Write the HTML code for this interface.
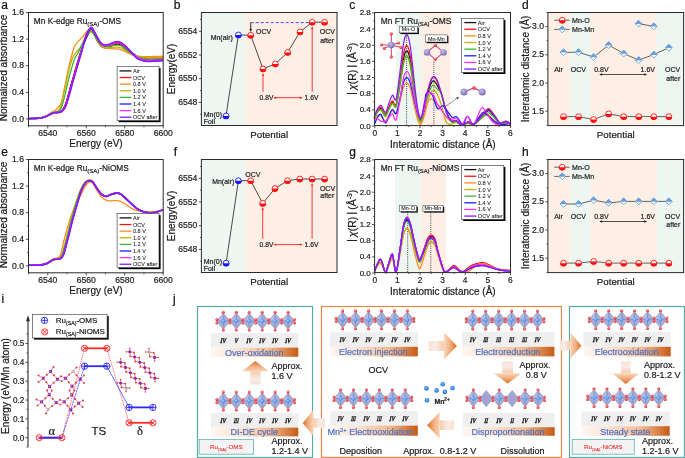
<!DOCTYPE html>
<html><head><meta charset="utf-8"><title>figure</title>
<style>
html,body{margin:0;padding:0;background:#fff;}
body{width:685px;height:458px;overflow:hidden;}
svg{display:block;font-family:"Liberation Sans", sans-serif;will-change:transform;}
</style></head><body>
<svg width="685" height="458" viewBox="0 0 685 458">
<defs>
<radialGradient id="gO" cx="40%" cy="35%" r="65%"><stop offset="0" stop-color="#ff8a8a"/><stop offset="1" stop-color="#e02424"/></radialGradient>
<radialGradient id="gMn" cx="40%" cy="35%" r="65%"><stop offset="0" stop-color="#c8c0ea"/><stop offset="1" stop-color="#7a68b4"/></radialGradient>
<radialGradient id="gB" cx="40%" cy="40%" r="60%"><stop offset="0" stop-color="#a8d0ff"/><stop offset="1" stop-color="#3a82e0"/></radialGradient>
<radialGradient id="gI" cx="45%" cy="40%" r="60%"><stop offset="0" stop-color="#9cccff"/><stop offset="0.5" stop-color="#3d8ff0"/><stop offset="1" stop-color="#1f6fd8"/></radialGradient>
<radialGradient id="gR" cx="40%" cy="35%" r="65%"><stop offset="0" stop-color="#ff9090"/><stop offset="1" stop-color="#e42a2a"/></radialGradient>
<linearGradient id="gBar" x1="0" y1="0" x2="1" y2="0"><stop offset="0" stop-color="#fef6f1"/><stop offset="0.3" stop-color="#fbe4d5"/><stop offset="0.68" stop-color="#f2b990"/><stop offset="1" stop-color="#c65a14"/></linearGradient>
<linearGradient id="gAr" x1="0" y1="0" x2="1" y2="0"><stop offset="0" stop-color="#fbe4d4"/><stop offset="0.5" stop-color="#f5caa8"/><stop offset="1" stop-color="#de7830"/></linearGradient>
<linearGradient id="gAl" x1="1" y1="0" x2="0" y2="0"><stop offset="0" stop-color="#fbe4d4"/><stop offset="0.5" stop-color="#f5caa8"/><stop offset="1" stop-color="#de7830"/></linearGradient>
<linearGradient id="gAd" x1="0" y1="0" x2="0" y2="1"><stop offset="0" stop-color="#fbe4d4"/><stop offset="0.5" stop-color="#f5caa8"/><stop offset="1" stop-color="#de7830"/></linearGradient>
<linearGradient id="gAu" x1="0" y1="1" x2="0" y2="0"><stop offset="0" stop-color="#fbe4d4"/><stop offset="0.5" stop-color="#f5caa8"/><stop offset="1" stop-color="#de7830"/></linearGradient>
</defs>
<rect x="0" y="0" width="685" height="458" fill="#ffffff"/>
<text x="1.3" y="8.7" font-size="12" fill="#111"  stroke="#111" stroke-width="0.2">a</text>
<clipPath id="clipx0"><rect x="28.5" y="12.5" width="134.7" height="113.3"/></clipPath>
<g clip-path="url(#clipx0)" fill="none" stroke-linejoin="round">
<path d="M28.5,118.57 C29.78,118.53 33.95,118.51 36.2,118.37 C38.44,118.22 40.37,118 41.97,117.7 C43.57,117.4 44.54,117.09 45.82,116.57 C47.1,116.05 48.54,115.13 49.67,114.58 C50.79,114.02 51.59,113.58 52.55,113.25 C53.52,112.92 54.32,112.75 55.44,112.58 C56.56,112.42 58.17,112.64 59.29,112.25 C60.41,111.86 61.21,111.36 62.17,110.26 C63.14,109.15 64.1,107.93 65.06,105.6 C66.02,103.27 66.83,100.17 67.95,96.29 C69.07,92.41 70.42,87.2 71.8,82.33 C73.18,77.45 74.65,72.35 76.22,67.03 C77.79,61.71 79.64,55.06 81.23,50.41 C82.81,45.75 84.21,42.31 85.75,39.1 C87.29,35.89 89.1,31.9 90.46,31.12 C91.83,30.34 92.71,32.67 93.93,34.45 C95.14,36.22 96.49,39.73 97.77,41.76 C99.06,43.79 100.34,45.62 101.62,46.61 C102.91,47.61 104.19,47.69 105.47,47.75 C106.75,47.8 108.04,47.36 109.32,46.95 C110.6,46.53 111.79,45.73 113.17,45.25 C114.55,44.77 116.22,44.06 117.59,44.09 C118.97,44.12 120.1,44.64 121.44,45.42 C122.79,46.19 124.17,47.72 125.68,48.74 C127.18,49.77 128.72,50.41 130.49,51.57 C132.25,52.73 134.34,54.59 136.26,55.73 C138.18,56.86 140.11,57.78 142.03,58.39 C143.96,58.99 145.56,59.27 147.81,59.38 C150.05,59.49 152.94,59.17 155.5,59.05 C158.07,58.93 161.92,58.72 163.2,58.65" stroke="#111111" stroke-width="1.3"/>
<path d="M28.5,118.57 C29.78,118.53 33.95,118.51 36.2,118.37 C38.44,118.22 40.37,118 41.97,117.7 C43.57,117.4 44.54,117.09 45.82,116.57 C47.1,116.05 48.54,115.13 49.67,114.58 C50.79,114.02 51.59,113.58 52.55,113.25 C53.52,112.92 54.32,112.75 55.44,112.58 C56.56,112.42 58.17,112.64 59.29,112.25 C60.41,111.86 61.21,111.36 62.17,110.26 C63.14,109.15 64.1,107.93 65.06,105.6 C66.02,103.27 66.83,100.17 67.95,96.29 C69.07,92.41 70.42,87.2 71.8,82.33 C73.18,77.45 74.65,72.35 76.22,67.03 C77.79,61.71 79.64,55.39 81.23,50.41 C82.81,45.42 84.21,40.65 85.75,37.11 C87.29,33.56 89.1,29.9 90.46,29.12 C91.83,28.35 92.71,30.68 93.93,32.45 C95.14,34.22 96.49,37.66 97.77,39.77 C99.06,41.87 100.34,43.98 101.62,45.08 C102.91,46.19 104.19,46.33 105.47,46.42 C106.75,46.5 108.04,46 109.32,45.62 C110.6,45.23 111.79,44.51 113.17,44.09 C114.55,43.67 116.22,43.03 117.59,43.09 C118.97,43.15 120.1,43.64 121.44,44.42 C122.79,45.2 124.17,46.61 125.68,47.75 C127.18,48.88 128.72,49.85 130.49,51.24 C132.25,52.62 134.34,54.81 136.26,56.06 C138.18,57.3 140.11,58.11 142.03,58.72 C143.96,59.33 145.56,59.6 147.81,59.72 C150.05,59.83 152.94,59.5 155.5,59.38 C158.07,59.26 161.92,59.05 163.2,58.98" stroke="#ff1010" stroke-width="1.3"/>
<path d="M28.5,118.57 C30.1,118.51 35.56,118.51 38.12,118.23 C40.69,117.96 42.29,117.46 43.89,116.91 C45.5,116.35 46.46,115.69 47.74,114.91 C49.03,114.13 50.47,112.92 51.59,112.25 C52.71,111.58 53.52,111.59 54.48,110.92 C55.44,110.25 56.24,109.59 57.36,108.26 C58.49,106.93 60.09,106.04 61.21,102.94 C62.34,99.84 63.14,94.18 64.1,89.64 C65.06,85.1 66.02,80.22 66.99,75.68 C67.95,71.13 69.01,66.03 69.87,62.38 C70.74,58.72 71.41,56.39 72.18,53.73 C72.95,51.07 73.46,48.47 74.49,46.42 C75.52,44.36 76.83,43.2 78.34,41.43 C79.85,39.65 82.16,37.44 83.53,35.78 C84.91,34.11 85.68,32.42 86.61,31.45 C87.54,30.49 88.22,29.93 89.11,29.99 C90.01,30.04 90.88,30.49 92,31.78 C93.12,33.08 94.57,35.66 95.85,37.77 C97.13,39.88 98.42,42.76 99.7,44.42 C100.98,46.08 102.26,47.08 103.55,47.75 C104.83,48.41 106.11,48.28 107.4,48.41 C108.68,48.54 109.64,48.45 111.24,48.54 C112.85,48.63 115.41,48.74 117.02,48.94 C118.62,49.14 119.58,49.33 120.87,49.74 C122.15,50.15 123.11,50.68 124.71,51.4 C126.32,52.12 128.56,53.32 130.49,54.06 C132.41,54.81 134.01,55.44 136.26,55.86 C138.5,56.28 141.07,56.48 143.96,56.59 C146.84,56.7 150.37,56.58 153.58,56.52 C156.79,56.47 161.6,56.3 163.2,56.26" stroke="#ff8c1a" stroke-width="1.3"/>
<path d="M28.5,118.57 C30.1,118.51 35.56,118.49 38.12,118.23 C40.69,117.98 42.29,117.54 43.89,117.04 C45.5,116.54 46.46,115.93 47.74,115.24 C49.03,114.56 50.31,113.41 51.59,112.92 C52.87,112.42 54.16,112.8 55.44,112.25 C56.72,111.7 58.23,111.25 59.29,109.59 C60.35,107.93 60.89,105.6 61.79,102.28 C62.69,98.95 63.75,93.85 64.68,89.64 C65.61,85.43 66.44,81.11 67.37,77 C68.3,72.9 69.26,68.47 70.26,65.03 C71.25,61.6 72.28,58.61 73.34,56.39 C74.39,54.17 75.42,53.29 76.61,51.73 C77.79,50.18 79.17,49.07 80.46,47.08 C81.74,45.09 83.02,42.09 84.3,39.77 C85.59,37.44 87.16,34.45 88.15,33.12 C89.15,31.79 89.47,31.78 90.27,31.78 C91.07,31.78 92.03,32.12 92.96,33.12 C93.89,34.11 94.73,36 95.85,37.77 C96.97,39.54 98.42,42.2 99.7,43.76 C100.98,45.31 102.26,46.41 103.55,47.08 C104.83,47.74 106.11,47.66 107.4,47.75 C108.68,47.83 109.64,47.7 111.24,47.61 C112.85,47.52 115.41,47.19 117.02,47.21 C118.62,47.24 119.58,47.32 120.87,47.75 C122.15,48.17 123.11,48.8 124.71,49.74 C126.32,50.68 128.56,52.34 130.49,53.4 C132.41,54.45 134.01,55.39 136.26,56.06 C138.5,56.72 141.07,57.13 143.96,57.39 C146.84,57.64 150.37,57.6 153.58,57.59 C156.79,57.58 161.6,57.37 163.2,57.32" stroke="#c2b400" stroke-width="1.3"/>
<path d="M28.5,118.57 C30.1,118.51 35.56,118.46 38.12,118.23 C40.69,118.01 42.29,117.68 43.89,117.24 C45.5,116.79 46.46,116.24 47.74,115.58 C49.03,114.91 50.31,113.77 51.59,113.25 C52.87,112.73 54.16,112.78 55.44,112.45 C56.72,112.12 58.23,112.28 59.29,111.25 C60.35,110.22 60.89,108.76 61.79,106.27 C62.69,103.77 63.75,99.95 64.68,96.29 C65.61,92.63 66.41,88.31 67.37,84.32 C68.33,80.33 69.29,76.45 70.45,72.35 C71.6,68.25 72.95,63.15 74.3,59.72 C75.65,56.28 77.18,54.39 78.53,51.73 C79.88,49.08 81.1,46.53 82.38,43.76 C83.66,40.98 84.95,37.16 86.23,35.11 C87.51,33.06 88.95,31.9 90.08,31.45 C91.2,31.01 92,31.51 92.96,32.45 C93.93,33.39 94.73,35.33 95.85,37.11 C96.97,38.88 98.42,41.59 99.7,43.09 C100.98,44.59 102.26,45.53 103.55,46.08 C104.83,46.64 106.11,46.47 107.4,46.42 C108.68,46.36 109.64,45.97 111.24,45.75 C112.85,45.53 115.41,45.08 117.02,45.08 C118.62,45.08 119.58,45.2 120.87,45.75 C122.15,46.3 123.11,47.19 124.71,48.41 C126.32,49.63 128.56,51.74 130.49,53.07 C132.41,54.4 134.01,55.45 136.26,56.39 C138.5,57.33 141.07,58.27 143.96,58.72 C146.84,59.16 150.37,59.05 153.58,59.05 C156.79,59.05 161.6,58.77 163.2,58.72" stroke="#3db33d" stroke-width="1.3"/>
<path d="M28.5,118.57 C29.78,118.53 33.95,118.51 36.2,118.37 C38.44,118.22 40.37,118 41.97,117.7 C43.57,117.4 44.54,117.09 45.82,116.57 C47.1,116.05 48.54,115.13 49.67,114.58 C50.79,114.02 51.59,113.58 52.55,113.25 C53.52,112.92 54.21,112.75 55.44,112.58 C56.67,112.42 58.73,112.64 59.96,112.25 C61.2,111.86 61.89,111.36 62.85,110.26 C63.81,109.15 64.77,107.93 65.73,105.6 C66.7,103.27 67.5,100.17 68.62,96.29 C69.74,92.41 71.09,87.2 72.47,82.33 C73.85,77.45 75.35,72.35 76.9,67.03 C78.44,61.71 80.23,55.5 81.76,50.41 C83.3,45.31 84.61,40.1 86.08,36.44 C87.56,32.78 89.29,29.24 90.6,28.46 C91.9,27.68 92.73,30.01 93.93,31.78 C95.12,33.56 96.49,36.99 97.77,39.1 C99.06,41.21 100.34,43.31 101.62,44.42 C102.91,45.53 104.19,45.66 105.47,45.75 C106.75,45.84 108.04,45.38 109.32,44.95 C110.6,44.52 111.79,43.67 113.17,43.16 C114.55,42.65 116.22,41.88 117.59,41.89 C118.97,41.9 120.1,42.45 121.44,43.22 C122.79,44 124.17,45.2 125.68,46.55 C127.18,47.89 128.72,49.5 130.49,51.3 C132.25,53.11 134.34,55.93 136.26,57.39 C138.18,58.84 140.11,59.44 142.03,60.05 C143.96,60.66 145.56,60.93 147.81,61.05 C150.05,61.16 152.94,60.83 155.5,60.71 C158.07,60.59 161.92,60.38 163.2,60.31" stroke="#1a1aff" stroke-width="1.55"/>
<path d="M28.5,118.57 C29.78,118.53 33.95,118.51 36.2,118.37 C38.44,118.22 40.37,118 41.97,117.7 C43.57,117.4 44.54,117.09 45.82,116.57 C47.1,116.05 48.54,115.13 49.67,114.58 C50.79,114.02 51.59,113.58 52.55,113.25 C53.52,112.92 54.24,112.75 55.44,112.58 C56.64,112.42 58.57,112.64 59.77,112.25 C60.97,111.86 61.69,111.36 62.66,110.26 C63.62,109.15 64.58,107.93 65.54,105.6 C66.5,103.27 67.31,100.17 68.43,96.29 C69.55,92.41 70.9,87.2 72.28,82.33 C73.66,77.45 75.15,72.35 76.7,67.03 C78.26,61.71 80.06,55.61 81.61,50.41 C83.16,45.2 84.5,39.54 85.99,35.78 C87.48,32.01 89.24,28.57 90.56,27.8 C91.88,27.02 92.72,29.35 93.93,31.12 C95.13,32.89 96.49,36.25 97.77,38.43 C99.06,40.62 100.34,43 101.62,44.22 C102.91,45.44 104.19,45.63 105.47,45.75 C106.75,45.87 108.04,45.34 109.32,44.95 C110.6,44.56 111.79,43.84 113.17,43.42 C114.55,43 116.22,42.37 117.59,42.43 C118.97,42.48 120.1,42.98 121.44,43.76 C122.79,44.53 124.17,45.83 125.68,47.08 C127.18,48.33 128.72,49.63 130.49,51.24 C132.25,52.84 134.34,55.36 136.26,56.72 C138.18,58.08 140.11,58.77 142.03,59.38 C143.96,59.99 145.56,60.27 147.81,60.38 C150.05,60.49 152.94,60.17 155.5,60.05 C158.07,59.93 161.92,59.72 163.2,59.65" stroke="#ff2bff" stroke-width="1.3"/>
<path d="M28.5,118.57 C29.78,118.53 33.95,118.51 36.2,118.37 C38.44,118.22 40.37,118 41.97,117.7 C43.57,117.4 44.54,117.09 45.82,116.57 C47.1,116.05 48.54,115.13 49.67,114.58 C50.79,114.02 51.59,113.58 52.55,113.25 C53.52,112.92 54.16,112.75 55.44,112.58 C56.72,112.42 58.97,112.64 60.25,112.25 C61.53,111.86 62.17,111.36 63.14,110.26 C64.1,109.15 65.06,107.93 66.02,105.6 C66.99,103.27 67.79,100.17 68.91,96.29 C70.03,92.41 71.38,87.2 72.76,82.33 C74.14,77.45 75.65,72.35 77.18,67.03 C78.72,61.71 80.49,55.68 82,50.41 C83.5,45.13 84.79,39.21 86.23,35.38 C87.67,31.54 89.37,28.17 90.65,27.4 C91.94,26.62 92.74,28.95 93.93,30.72 C95.11,32.49 96.49,35.9 97.77,38.04 C99.06,40.17 100.34,42.39 101.62,43.54 C102.91,44.69 104.19,44.85 105.47,44.95 C106.75,45.05 108.04,44.55 109.32,44.15 C110.6,43.75 111.79,43 113.17,42.56 C114.55,42.11 116.22,41.45 117.59,41.49 C118.97,41.54 120.1,42.05 121.44,42.82 C122.79,43.6 124.17,44.73 125.68,46.15 C127.18,47.57 128.72,49.39 130.49,51.34 C132.25,53.29 134.34,56.32 136.26,57.85 C138.18,59.38 140.11,59.9 142.03,60.51 C143.96,61.12 145.56,61.4 147.81,61.51 C150.05,61.62 152.94,61.3 155.5,61.18 C158.07,61.06 161.92,60.85 163.2,60.78" stroke="#8a1aff" stroke-width="1.55"/>
</g>
<text x="33.8" y="23.8" font-size="8.3" fill="#1a1a1a" stroke="#1a1a1a" stroke-width="0.2">Mn K-edge Ru<tspan font-size="6.0" dy="2.3">(SA)</tspan><tspan dy="-2.3">-OMS</tspan></text>
<rect x="118.7" y="68.1" width="41.9" height="54.1" fill="#000" stroke="none" stroke-width="1" />
<rect x="117.1" y="66.5" width="41.9" height="54.1" fill="#fff" stroke="#333" stroke-width="0.6" />
<line x1="119.6" y1="70.9" x2="131.4" y2="70.9" stroke="#111111" stroke-width="1.3" />
<text x="133" y="72.88" font-size="5.5" fill="#222"  stroke="#222" stroke-width="0.07">Air</text>
<line x1="119.6" y1="77.52" x2="131.4" y2="77.52" stroke="#ff1010" stroke-width="1.3" />
<text x="133" y="79.5" font-size="5.5" fill="#222"  stroke="#222" stroke-width="0.07">OCV</text>
<line x1="119.6" y1="84.14" x2="131.4" y2="84.14" stroke="#ff8c1a" stroke-width="1.3" />
<text x="133" y="86.12" font-size="5.5" fill="#222"  stroke="#222" stroke-width="0.07">0.8 V</text>
<line x1="119.6" y1="90.76" x2="131.4" y2="90.76" stroke="#c2b400" stroke-width="1.3" />
<text x="133" y="92.74" font-size="5.5" fill="#222"  stroke="#222" stroke-width="0.07">1.0 V</text>
<line x1="119.6" y1="97.38" x2="131.4" y2="97.38" stroke="#3db33d" stroke-width="1.3" />
<text x="133" y="99.36" font-size="5.5" fill="#222"  stroke="#222" stroke-width="0.07">1.2 V</text>
<line x1="119.6" y1="104" x2="131.4" y2="104" stroke="#1a1aff" stroke-width="1.3" />
<text x="133" y="105.98" font-size="5.5" fill="#222"  stroke="#222" stroke-width="0.07">1.4 V</text>
<line x1="119.6" y1="110.62" x2="131.4" y2="110.62" stroke="#ff2bff" stroke-width="1.3" />
<text x="133" y="112.6" font-size="5.5" fill="#222"  stroke="#222" stroke-width="0.07">1.6 V</text>
<line x1="119.6" y1="117.24" x2="131.4" y2="117.24" stroke="#8a1aff" stroke-width="1.3" />
<text x="133" y="119.22" font-size="5.5" fill="#222"  stroke="#222" stroke-width="0.07">OCV after</text>
<rect x="28.5" y="12.5" width="134.7" height="113.3" fill="none" stroke="#2a2a2a" stroke-width="1" />
<line x1="25.9" y1="118.9" x2="28.5" y2="118.9" stroke="#2a2a2a" stroke-width="0.8" />
<text x="24" y="121.5" font-size="8.6" text-anchor="end" fill="#222"  stroke="#222" stroke-width="0.2">0.0</text>
<line x1="25.9" y1="92.3" x2="28.5" y2="92.3" stroke="#2a2a2a" stroke-width="0.8" />
<text x="24" y="94.9" font-size="8.6" text-anchor="end" fill="#222"  stroke="#222" stroke-width="0.2">0.4</text>
<line x1="25.9" y1="65.7" x2="28.5" y2="65.7" stroke="#2a2a2a" stroke-width="0.8" />
<text x="24" y="68.3" font-size="8.6" text-anchor="end" fill="#222"  stroke="#222" stroke-width="0.2">0.8</text>
<line x1="25.9" y1="39.1" x2="28.5" y2="39.1" stroke="#2a2a2a" stroke-width="0.8" />
<text x="24" y="41.7" font-size="8.6" text-anchor="end" fill="#222"  stroke="#222" stroke-width="0.2">1.2</text>
<line x1="25.9" y1="12.5" x2="28.5" y2="12.5" stroke="#2a2a2a" stroke-width="0.8" />
<text x="24" y="15.1" font-size="8.6" text-anchor="end" fill="#222"  stroke="#222" stroke-width="0.2">1.6</text>
<line x1="27" y1="105.6" x2="28.5" y2="105.6" stroke="#2a2a2a" stroke-width="0.7" />
<line x1="27" y1="79" x2="28.5" y2="79" stroke="#2a2a2a" stroke-width="0.7" />
<line x1="27" y1="52.4" x2="28.5" y2="52.4" stroke="#2a2a2a" stroke-width="0.7" />
<line x1="27" y1="25.8" x2="28.5" y2="25.8" stroke="#2a2a2a" stroke-width="0.7" />
<line x1="47.74" y1="125.8" x2="47.74" y2="128.4" stroke="#2a2a2a" stroke-width="0.8" />
<text x="47.74" y="136.4" font-size="8.6" text-anchor="middle" fill="#222"  stroke="#222" stroke-width="0.2">6540</text>
<line x1="86.23" y1="125.8" x2="86.23" y2="128.4" stroke="#2a2a2a" stroke-width="0.8" />
<text x="86.23" y="136.4" font-size="8.6" text-anchor="middle" fill="#222"  stroke="#222" stroke-width="0.2">6560</text>
<line x1="124.71" y1="125.8" x2="124.71" y2="128.4" stroke="#2a2a2a" stroke-width="0.8" />
<text x="124.71" y="136.4" font-size="8.6" text-anchor="middle" fill="#222"  stroke="#222" stroke-width="0.2">6580</text>
<line x1="163.2" y1="125.8" x2="163.2" y2="128.4" stroke="#2a2a2a" stroke-width="0.8" />
<text x="163.2" y="136.4" font-size="8.6" text-anchor="middle" fill="#222"  stroke="#222" stroke-width="0.2">6600</text>
<line x1="28.5" y1="125.8" x2="28.5" y2="127.3" stroke="#2a2a2a" stroke-width="0.7" />
<line x1="66.99" y1="125.8" x2="66.99" y2="127.3" stroke="#2a2a2a" stroke-width="0.7" />
<line x1="105.47" y1="125.8" x2="105.47" y2="127.3" stroke="#2a2a2a" stroke-width="0.7" />
<line x1="143.96" y1="125.8" x2="143.96" y2="127.3" stroke="#2a2a2a" stroke-width="0.7" />
<text x="96" y="146.9" font-size="10" text-anchor="middle" fill="#1a1a1a"  stroke="#1a1a1a" stroke-width="0.2">Energy (eV)</text>
<text transform="translate(7.3,68) rotate(-90)" x="0" y="0" font-size="10.1" text-anchor="middle" fill="#1a1a1a"  stroke="#1a1a1a" stroke-width="0.2">Normalized absorbance</text>
<text x="1.3" y="155.7" font-size="12" fill="#111"  stroke="#111" stroke-width="0.2">e</text>
<clipPath id="clipx147"><rect x="28.5" y="159.5" width="134.7" height="113.3"/></clipPath>
<g clip-path="url(#clipx147)" fill="none" stroke-linejoin="round">
<path d="M28.5,265.23 C30.42,265.18 37.16,265.12 40.05,264.9 C42.93,264.68 44.22,264.4 45.82,263.9 C47.42,263.41 48.38,262.63 49.67,261.91 C50.95,261.19 52.23,260.03 53.52,259.58 C54.8,259.14 56.24,259.42 57.36,259.25 C58.49,259.08 59.29,259.36 60.25,258.58 C61.21,257.81 62.17,256.92 63.14,254.59 C64.1,252.27 65.16,247.8 66.02,244.62 C66.89,241.44 67.21,239.94 68.33,235.51 C69.46,231.08 71.28,223.48 72.76,218.02 C74.23,212.56 75.74,207.45 77.18,202.72 C78.63,198 79.97,193.18 81.42,189.69 C82.86,186.2 84.43,183.37 85.84,181.78 C87.25,180.18 88.7,180.11 89.88,180.11 C91.07,180.11 91.81,180.5 92.96,181.78 C94.12,183.05 95.37,185.66 96.81,187.76 C98.26,189.87 100.08,192.97 101.62,194.41 C103.16,195.85 104.45,196.38 106.05,196.41 C107.65,196.44 109.42,195.08 111.24,194.58 C113.07,194.08 115.41,193.44 117.02,193.41 C118.62,193.39 119.58,193.69 120.87,194.41 C122.15,195.13 123.11,196.3 124.71,197.74 C126.32,199.18 128.56,201.34 130.49,203.06 C132.41,204.78 134.53,206.77 136.26,208.04 C137.99,209.32 139.27,209.98 140.88,210.7 C142.48,211.43 144.28,212.03 145.88,212.37 C147.48,212.7 148.58,212.81 150.5,212.7 C152.42,212.59 155.31,212.2 157.43,211.7 C159.54,211.2 162.24,210.04 163.2,209.71" stroke="#111111" stroke-width="1.3"/>
<path d="M28.5,265.23 C30.42,265.18 37.16,265.12 40.05,264.9 C42.93,264.68 44.22,264.4 45.82,263.9 C47.42,263.41 48.38,262.63 49.67,261.91 C50.95,261.19 52.23,260.03 53.52,259.58 C54.8,259.14 56.24,259.42 57.36,259.25 C58.49,259.08 59.29,259.36 60.25,258.58 C61.21,257.81 62.17,256.92 63.14,254.59 C64.1,252.27 65.16,247.8 66.02,244.62 C66.89,241.44 67.21,239.94 68.33,235.51 C69.46,231.08 71.28,223.48 72.76,218.02 C74.23,212.56 75.74,207.45 77.18,202.72 C78.63,198 79.97,193.07 81.42,189.69 C82.86,186.31 84.43,183.93 85.84,182.44 C87.25,180.96 88.7,180.78 89.88,180.78 C91.07,180.78 91.81,181.17 92.96,182.44 C94.12,183.72 95.37,186.38 96.81,188.43 C98.26,190.48 100.08,193.36 101.62,194.74 C103.16,196.13 104.45,196.74 106.05,196.74 C107.65,196.74 109.42,195.3 111.24,194.75 C113.07,194.19 115.41,193.47 117.02,193.41 C118.62,193.36 119.58,193.69 120.87,194.41 C122.15,195.13 123.11,196.3 124.71,197.74 C126.32,199.18 128.56,201.34 130.49,203.06 C132.41,204.78 134.53,206.77 136.26,208.04 C137.99,209.32 139.27,209.98 140.88,210.7 C142.48,211.43 144.28,212.03 145.88,212.37 C147.48,212.7 148.58,212.81 150.5,212.7 C152.42,212.59 155.31,212.2 157.43,211.7 C159.54,211.2 162.24,210.04 163.2,209.71" stroke="#ff1010" stroke-width="1.3"/>
<path d="M28.5,265.23 C30.42,265.18 37.16,265.18 40.05,264.9 C42.93,264.63 44.22,264.18 45.82,263.57 C47.42,262.96 48.38,262.02 49.67,261.25 C50.95,260.47 52.23,259.47 53.52,258.92 C54.8,258.36 56.18,258.64 57.36,257.92 C58.55,257.2 59.51,257.59 60.64,254.59 C61.76,251.6 62.82,244.95 64.1,239.96 C65.38,234.98 66.89,229.44 68.33,224.67 C69.78,219.9 71.38,215.03 72.76,211.37 C74.14,207.71 75.2,205.61 76.61,202.72 C78.02,199.84 79.78,196.85 81.23,194.08 C82.67,191.31 83.92,188.09 85.27,186.1 C86.61,184.1 88.02,182.55 89.31,182.11 C90.59,181.67 91.71,182.11 92.96,183.44 C94.21,184.77 95.37,187.76 96.81,190.09 C98.26,192.42 100.02,195.69 101.62,197.4 C103.23,199.12 104.83,199.82 106.43,200.4 C108.04,200.97 109.48,200.83 111.24,200.86 C113.01,200.9 115.41,200.49 117.02,200.6 C118.62,200.71 119.58,201.01 120.87,201.53 C122.15,202.05 123.11,202.69 124.71,203.72 C126.32,204.75 128.56,206.6 130.49,207.71 C132.41,208.82 134.01,209.71 136.26,210.37 C138.5,211.04 141.07,211.48 143.96,211.7 C146.84,211.92 150.37,211.92 153.58,211.7 C156.79,211.48 161.6,210.59 163.2,210.37" stroke="#ff8c1a" stroke-width="1.3"/>
<path d="M28.5,265.23 C30.42,265.18 37.16,265.12 40.05,264.9 C42.93,264.68 44.22,264.4 45.82,263.9 C47.42,263.41 48.38,262.63 49.67,261.91 C50.95,261.19 52.23,260.03 53.52,259.58 C54.8,259.14 56.47,259.42 57.36,259.25 C58.26,259.08 58.17,259.36 58.9,258.58 C59.64,257.81 60.83,256.92 61.79,254.59 C62.75,252.27 63.81,247.8 64.68,244.62 C65.54,241.44 65.86,239.94 66.99,235.51 C68.11,231.08 69.94,223.48 71.41,218.02 C72.89,212.56 74.33,207.45 75.84,202.72 C77.35,198 78.9,193.18 80.47,189.69 C82.05,186.2 83.74,183.37 85.3,181.78 C86.87,180.18 88.61,180.11 89.88,180.11 C91.16,180.11 91.81,180.5 92.96,181.78 C94.12,183.05 95.37,185.71 96.81,187.76 C98.26,189.81 100.08,192.69 101.62,194.08 C103.16,195.47 104.45,196.07 106.05,196.07 C107.65,196.07 109.42,194.63 111.24,194.08 C113.07,193.53 115.41,192.81 117.02,192.75 C118.62,192.69 119.58,193.03 120.87,193.75 C122.15,194.47 123.11,195.58 124.71,197.07 C126.32,198.57 128.56,200.9 130.49,202.72 C132.41,204.55 134.53,206.71 136.26,208.04 C137.99,209.37 139.27,209.98 140.88,210.7 C142.48,211.43 144.28,212.03 145.88,212.37 C147.48,212.7 148.58,212.81 150.5,212.7 C152.42,212.59 155.31,212.2 157.43,211.7 C159.54,211.2 162.24,210.04 163.2,209.71" stroke="#c2b400" stroke-width="1.3"/>
<path d="M28.5,265.23 C30.42,265.18 37.16,265.12 40.05,264.9 C42.93,264.68 44.22,264.4 45.82,263.9 C47.42,263.41 48.38,262.63 49.67,261.91 C50.95,261.19 52.23,260.03 53.52,259.58 C54.8,259.14 56.39,259.42 57.36,259.25 C58.34,259.08 58.57,259.36 59.38,258.58 C60.2,257.81 61.31,256.92 62.27,254.59 C63.23,252.27 64.29,247.8 65.16,244.62 C66.02,241.44 66.34,239.94 67.47,235.51 C68.59,231.08 70.42,223.48 71.89,218.02 C73.37,212.56 74.83,207.45 76.32,202.72 C77.81,198 79.28,193.13 80.81,189.69 C82.34,186.26 83.99,183.65 85.5,182.11 C87.01,180.57 88.64,180.45 89.88,180.45 C91.13,180.45 91.81,180.84 92.96,182.11 C94.12,183.38 95.37,186.1 96.81,188.09 C98.26,190.09 100.08,192.75 101.62,194.08 C103.16,195.41 104.45,196.07 106.05,196.07 C107.65,196.07 109.42,194.63 111.24,194.08 C113.07,193.53 115.41,192.81 117.02,192.75 C118.62,192.69 119.58,193.03 120.87,193.75 C122.15,194.47 123.11,195.58 124.71,197.07 C126.32,198.57 128.56,200.9 130.49,202.72 C132.41,204.55 134.53,206.71 136.26,208.04 C137.99,209.37 139.27,209.98 140.88,210.7 C142.48,211.43 144.28,212.03 145.88,212.37 C147.48,212.7 148.58,212.81 150.5,212.7 C152.42,212.59 155.31,212.2 157.43,211.7 C159.54,211.2 162.24,210.04 163.2,209.71" stroke="#3db33d" stroke-width="1.3"/>
<path d="M28.5,265.23 C30.42,265.18 37.16,265.12 40.05,264.9 C42.93,264.68 44.22,264.4 45.82,263.9 C47.42,263.41 48.38,262.63 49.67,261.91 C50.95,261.19 52.23,260.03 53.52,259.58 C54.8,259.14 56.21,259.42 57.36,259.25 C58.52,259.08 59.45,259.36 60.44,258.58 C61.44,257.81 62.37,256.92 63.33,254.59 C64.29,252.27 65.35,247.8 66.22,244.62 C67.08,241.44 67.4,239.94 68.53,235.51 C69.65,231.08 71.48,223.48 72.95,218.02 C74.43,212.56 75.94,207.45 77.38,202.72 C78.81,198 80.13,193.07 81.55,189.69 C82.98,186.31 84.53,183.93 85.92,182.44 C87.31,180.96 88.71,180.78 89.88,180.78 C91.06,180.78 91.81,181.17 92.96,182.44 C94.12,183.72 95.37,186.43 96.81,188.43 C98.26,190.42 100.08,193.08 101.62,194.41 C103.16,195.74 104.45,196.41 106.05,196.41 C107.65,196.41 109.42,194.97 111.24,194.41 C113.07,193.86 115.41,193.14 117.02,193.08 C118.62,193.03 119.58,193.36 120.87,194.08 C122.15,194.8 123.11,195.94 124.71,197.4 C126.32,198.87 128.56,201.12 130.49,202.89 C132.41,204.66 134.53,206.74 136.26,208.04 C137.99,209.35 139.27,209.98 140.88,210.7 C142.48,211.43 144.28,212.03 145.88,212.37 C147.48,212.7 148.58,212.81 150.5,212.7 C152.42,212.59 155.31,212.2 157.43,211.7 C159.54,211.2 162.24,210.04 163.2,209.71" stroke="#1a1aff" stroke-width="1.55"/>
<path d="M28.5,265.23 C30.42,265.18 37.16,265.12 40.05,264.9 C42.93,264.68 44.22,264.4 45.82,263.9 C47.42,263.41 48.38,262.63 49.67,261.91 C50.95,261.19 52.23,260.03 53.52,259.58 C54.8,259.14 56.21,259.42 57.36,259.25 C58.52,259.08 59.45,259.36 60.44,258.58 C61.44,257.81 62.37,256.92 63.33,254.59 C64.29,252.27 65.35,247.8 66.22,244.62 C67.08,241.44 67.4,239.94 68.53,235.51 C69.65,231.08 71.48,223.48 72.95,218.02 C74.43,212.56 75.94,207.45 77.38,202.72 C78.81,198 80.13,193.13 81.55,189.69 C82.98,186.26 84.53,183.65 85.92,182.11 C87.31,180.57 88.71,180.45 89.88,180.45 C91.06,180.45 91.81,180.84 92.96,182.11 C94.12,183.38 95.37,186.08 96.81,188.09 C98.26,190.11 100.08,192.86 101.62,194.21 C103.16,195.57 104.45,196.19 106.05,196.21 C107.65,196.22 109.42,194.83 111.24,194.31 C113.07,193.79 115.41,193.12 117.02,193.08 C118.62,193.04 119.58,193.36 120.87,194.08 C122.15,194.8 123.11,195.94 124.71,197.4 C126.32,198.87 128.56,201.12 130.49,202.89 C132.41,204.66 134.53,206.74 136.26,208.04 C137.99,209.35 139.27,209.98 140.88,210.7 C142.48,211.43 144.28,212.03 145.88,212.37 C147.48,212.7 148.58,212.81 150.5,212.7 C152.42,212.59 155.31,212.2 157.43,211.7 C159.54,211.2 162.24,210.04 163.2,209.71" stroke="#ff2bff" stroke-width="1.3"/>
<path d="M28.5,265.23 C30.42,265.18 37.16,265.12 40.05,264.9 C42.93,264.68 44.22,264.4 45.82,263.9 C47.42,263.41 48.38,262.63 49.67,261.91 C50.95,261.19 52.23,260.03 53.52,259.58 C54.8,259.14 56.16,259.42 57.36,259.25 C58.57,259.08 59.69,259.36 60.73,258.58 C61.77,257.81 62.66,256.92 63.62,254.59 C64.58,252.27 65.64,247.8 66.5,244.62 C67.37,241.44 67.69,239.94 68.81,235.51 C69.94,231.08 71.76,223.48 73.24,218.02 C74.71,212.56 76.25,207.45 77.67,202.72 C79.08,198 80.36,193.12 81.75,189.69 C83.15,186.27 84.68,183.71 86.04,182.18 C87.39,180.65 88.73,180.51 89.88,180.51 C91.04,180.51 91.81,180.9 92.96,182.18 C94.12,183.45 95.37,186.16 96.81,188.16 C98.26,190.17 100.08,192.87 101.62,194.21 C103.16,195.55 104.45,196.19 106.05,196.21 C107.65,196.22 109.42,194.83 111.24,194.31 C113.07,193.79 115.41,193.12 117.02,193.08 C118.62,193.04 119.58,193.36 120.87,194.08 C122.15,194.8 123.11,195.94 124.71,197.4 C126.32,198.87 128.56,201.12 130.49,202.89 C132.41,204.66 134.53,206.74 136.26,208.04 C137.99,209.35 139.27,209.98 140.88,210.7 C142.48,211.43 144.28,212.03 145.88,212.37 C147.48,212.7 148.58,212.81 150.5,212.7 C152.42,212.59 155.31,212.2 157.43,211.7 C159.54,211.2 162.24,210.04 163.2,209.71" stroke="#8a1aff" stroke-width="1.55"/>
</g>
<text x="33.8" y="170.8" font-size="8.3" fill="#1a1a1a" stroke="#1a1a1a" stroke-width="0.2">Mn K-edge Ru<tspan font-size="6.0" dy="2.3">(SA)</tspan><tspan dy="-2.3">-NiOMS</tspan></text>
<rect x="118.7" y="215.1" width="41.9" height="54.1" fill="#000" stroke="none" stroke-width="1" />
<rect x="117.1" y="213.5" width="41.9" height="54.1" fill="#fff" stroke="#333" stroke-width="0.6" />
<line x1="119.6" y1="217.9" x2="131.4" y2="217.9" stroke="#111111" stroke-width="1.3" />
<text x="133" y="219.88" font-size="5.5" fill="#222"  stroke="#222" stroke-width="0.07">Air</text>
<line x1="119.6" y1="224.52" x2="131.4" y2="224.52" stroke="#ff1010" stroke-width="1.3" />
<text x="133" y="226.5" font-size="5.5" fill="#222"  stroke="#222" stroke-width="0.07">OCV</text>
<line x1="119.6" y1="231.14" x2="131.4" y2="231.14" stroke="#ff8c1a" stroke-width="1.3" />
<text x="133" y="233.12" font-size="5.5" fill="#222"  stroke="#222" stroke-width="0.07">0.8 V</text>
<line x1="119.6" y1="237.76" x2="131.4" y2="237.76" stroke="#c2b400" stroke-width="1.3" />
<text x="133" y="239.74" font-size="5.5" fill="#222"  stroke="#222" stroke-width="0.07">1.0 V</text>
<line x1="119.6" y1="244.38" x2="131.4" y2="244.38" stroke="#3db33d" stroke-width="1.3" />
<text x="133" y="246.36" font-size="5.5" fill="#222"  stroke="#222" stroke-width="0.07">1.2 V</text>
<line x1="119.6" y1="251" x2="131.4" y2="251" stroke="#1a1aff" stroke-width="1.3" />
<text x="133" y="252.98" font-size="5.5" fill="#222"  stroke="#222" stroke-width="0.07">1.4 V</text>
<line x1="119.6" y1="257.62" x2="131.4" y2="257.62" stroke="#ff2bff" stroke-width="1.3" />
<text x="133" y="259.6" font-size="5.5" fill="#222"  stroke="#222" stroke-width="0.07">1.6 V</text>
<line x1="119.6" y1="264.24" x2="131.4" y2="264.24" stroke="#8a1aff" stroke-width="1.3" />
<text x="133" y="266.22" font-size="5.5" fill="#222"  stroke="#222" stroke-width="0.07">OCV after</text>
<rect x="28.5" y="159.5" width="134.7" height="113.3" fill="none" stroke="#2a2a2a" stroke-width="1" />
<line x1="25.9" y1="265.9" x2="28.5" y2="265.9" stroke="#2a2a2a" stroke-width="0.8" />
<text x="24" y="268.5" font-size="8.6" text-anchor="end" fill="#222"  stroke="#222" stroke-width="0.2">0.0</text>
<line x1="25.9" y1="239.3" x2="28.5" y2="239.3" stroke="#2a2a2a" stroke-width="0.8" />
<text x="24" y="241.9" font-size="8.6" text-anchor="end" fill="#222"  stroke="#222" stroke-width="0.2">0.4</text>
<line x1="25.9" y1="212.7" x2="28.5" y2="212.7" stroke="#2a2a2a" stroke-width="0.8" />
<text x="24" y="215.3" font-size="8.6" text-anchor="end" fill="#222"  stroke="#222" stroke-width="0.2">0.8</text>
<line x1="25.9" y1="186.1" x2="28.5" y2="186.1" stroke="#2a2a2a" stroke-width="0.8" />
<text x="24" y="188.7" font-size="8.6" text-anchor="end" fill="#222"  stroke="#222" stroke-width="0.2">1.2</text>
<line x1="25.9" y1="159.5" x2="28.5" y2="159.5" stroke="#2a2a2a" stroke-width="0.8" />
<text x="24" y="162.1" font-size="8.6" text-anchor="end" fill="#222"  stroke="#222" stroke-width="0.2">1.6</text>
<line x1="27" y1="252.6" x2="28.5" y2="252.6" stroke="#2a2a2a" stroke-width="0.7" />
<line x1="27" y1="226" x2="28.5" y2="226" stroke="#2a2a2a" stroke-width="0.7" />
<line x1="27" y1="199.4" x2="28.5" y2="199.4" stroke="#2a2a2a" stroke-width="0.7" />
<line x1="27" y1="172.8" x2="28.5" y2="172.8" stroke="#2a2a2a" stroke-width="0.7" />
<line x1="47.74" y1="272.8" x2="47.74" y2="275.4" stroke="#2a2a2a" stroke-width="0.8" />
<text x="47.74" y="283.4" font-size="8.6" text-anchor="middle" fill="#222"  stroke="#222" stroke-width="0.2">6540</text>
<line x1="86.23" y1="272.8" x2="86.23" y2="275.4" stroke="#2a2a2a" stroke-width="0.8" />
<text x="86.23" y="283.4" font-size="8.6" text-anchor="middle" fill="#222"  stroke="#222" stroke-width="0.2">6560</text>
<line x1="124.71" y1="272.8" x2="124.71" y2="275.4" stroke="#2a2a2a" stroke-width="0.8" />
<text x="124.71" y="283.4" font-size="8.6" text-anchor="middle" fill="#222"  stroke="#222" stroke-width="0.2">6580</text>
<line x1="163.2" y1="272.8" x2="163.2" y2="275.4" stroke="#2a2a2a" stroke-width="0.8" />
<text x="163.2" y="283.4" font-size="8.6" text-anchor="middle" fill="#222"  stroke="#222" stroke-width="0.2">6600</text>
<line x1="28.5" y1="272.8" x2="28.5" y2="274.3" stroke="#2a2a2a" stroke-width="0.7" />
<line x1="66.99" y1="272.8" x2="66.99" y2="274.3" stroke="#2a2a2a" stroke-width="0.7" />
<line x1="105.47" y1="272.8" x2="105.47" y2="274.3" stroke="#2a2a2a" stroke-width="0.7" />
<line x1="143.96" y1="272.8" x2="143.96" y2="274.3" stroke="#2a2a2a" stroke-width="0.7" />
<text x="96" y="293.9" font-size="10" text-anchor="middle" fill="#1a1a1a"  stroke="#1a1a1a" stroke-width="0.2">Energy (eV)</text>
<text transform="translate(7.3,215) rotate(-90)" x="0" y="0" font-size="10.1" text-anchor="middle" fill="#1a1a1a"  stroke="#1a1a1a" stroke-width="0.2">Normalized absorbance</text>
<text x="173.8" y="8.7" font-size="12" fill="#111"  stroke="#111" stroke-width="0.2">b</text>
<rect x="201.4" y="12.5" width="44.3" height="113" fill="#edf6f1" stroke="none" stroke-width="1" />
<rect x="245.7" y="12.5" width="91.3" height="113" fill="#fdefe6" stroke="none" stroke-width="1" />
<path d="M226,115.9 L238.4,34.9 L250.7,35.2 L263,68.9 L275.3,63.9 L287.7,52.3 L300,31.8 L312.2,22.2 L324.6,22.2" fill="none" stroke="#2a2a2a" stroke-width="0.85" />
<line x1="250.7" y1="22.6" x2="312.2" y2="22.6" stroke="#4a4aff" stroke-width="1" stroke-dasharray="3,2"/>
<line x1="250.7" y1="22.6" x2="250.7" y2="29.7" stroke="#111" stroke-width="0.9" />
<path d="M250.7,31.9 L249.5,28.9 L251.9,28.9 Z" fill="#111"/>
<line x1="263" y1="91.8" x2="263" y2="75" stroke="#ff2020" stroke-width="0.9" />
<path d="M263,73 L264.2,75.8 L261.8,75.8 Z" fill="#ff2020"/>
<line x1="312.2" y1="91.8" x2="312.2" y2="28.2" stroke="#ff2020" stroke-width="0.9" />
<path d="M312.2,26.2 L313.4,29 L311,29 Z" fill="#ff2020"/>
<line x1="274.5" y1="97.7" x2="301.5" y2="97.7" stroke="#ff2020" stroke-width="0.9" />
<path d="M273.4,97.7 L276.2,96.5 L276.2,98.9 Z" fill="#ff2020"/>
<path d="M302.6,97.7 L299.8,98.9 L299.8,96.5 Z" fill="#ff2020"/>
<text x="259.6" y="99.8" font-size="6.7" fill="#222"  stroke="#222" stroke-width="0.2">0.8V</text>
<text x="304.6" y="99.8" font-size="6.7" fill="#222"  stroke="#222" stroke-width="0.2">1.6V</text>
<circle cx="226" cy="115.9" r="2.85" fill="#ffffff" stroke="#1515ff" stroke-width="0.9" />
<path d="M222.7,116 A3.3,3.3 0 0 0 229.3,116 Z" fill="#1515ff"/>
<circle cx="238.4" cy="34.9" r="2.85" fill="#ffffff" stroke="#1515ff" stroke-width="0.9" />
<path d="M235.1,35 A3.3,3.3 0 0 0 241.7,35 Z" fill="#1515ff"/>
<circle cx="250.7" cy="35.2" r="2.85" fill="#ffffff" stroke="#ff1010" stroke-width="0.9" />
<path d="M247.4,35.3 A3.3,3.3 0 0 0 254,35.3 Z" fill="#ff1010"/>
<circle cx="263" cy="68.9" r="2.85" fill="#ffffff" stroke="#ff1010" stroke-width="0.9" />
<path d="M259.7,69 A3.3,3.3 0 0 0 266.3,69 Z" fill="#ff1010"/>
<circle cx="275.3" cy="63.9" r="2.85" fill="#ffffff" stroke="#ff1010" stroke-width="0.9" />
<path d="M272,64 A3.3,3.3 0 0 0 278.6,64 Z" fill="#ff1010"/>
<circle cx="287.7" cy="52.3" r="2.85" fill="#ffffff" stroke="#ff1010" stroke-width="0.9" />
<path d="M284.4,52.4 A3.3,3.3 0 0 0 291,52.4 Z" fill="#ff1010"/>
<circle cx="300" cy="31.8" r="2.85" fill="#ffffff" stroke="#ff1010" stroke-width="0.9" />
<path d="M296.7,31.9 A3.3,3.3 0 0 0 303.3,31.9 Z" fill="#ff1010"/>
<circle cx="312.2" cy="22.2" r="2.85" fill="#ffffff" stroke="#ff1010" stroke-width="0.9" />
<path d="M308.9,22.3 A3.3,3.3 0 0 0 315.5,22.3 Z" fill="#ff1010"/>
<circle cx="324.6" cy="22.2" r="2.85" fill="#ffffff" stroke="#ff1010" stroke-width="0.9" />
<path d="M321.3,22.3 A3.3,3.3 0 0 0 327.9,22.3 Z" fill="#ff1010"/>
<text x="232.8" y="40" font-size="7" text-anchor="end" fill="#222"  stroke="#222" stroke-width="0.2">Mn(air)</text>
<text x="256" y="34.4" font-size="7" fill="#222"  stroke="#222" stroke-width="0.2">OCV</text>
<text x="319.8" y="34.3" font-size="7" fill="#222"  stroke="#222" stroke-width="0.2">OCV</text>
<text x="320.2" y="42.5" font-size="7" fill="#222"  stroke="#222" stroke-width="0.2">after</text>
<text x="203.7" y="116.9" font-size="7" fill="#222"  stroke="#222" stroke-width="0.2">Mn(0)</text>
<text x="203.7" y="124.3" font-size="7" fill="#222"  stroke="#222" stroke-width="0.2">Foil</text>
<rect x="201.4" y="12.5" width="135.6" height="113" fill="none" stroke="#2a2a2a" stroke-width="1" />
<line x1="198.8" y1="102.4" x2="201.4" y2="102.4" stroke="#2a2a2a" stroke-width="0.8" />
<text x="197.4" y="105" font-size="8.6" text-anchor="end" fill="#222"  stroke="#222" stroke-width="0.2">6548</text>
<line x1="198.8" y1="78.7" x2="201.4" y2="78.7" stroke="#2a2a2a" stroke-width="0.8" />
<text x="197.4" y="81.3" font-size="8.6" text-anchor="end" fill="#222"  stroke="#222" stroke-width="0.2">6550</text>
<line x1="198.8" y1="55" x2="201.4" y2="55" stroke="#2a2a2a" stroke-width="0.8" />
<text x="197.4" y="57.6" font-size="8.6" text-anchor="end" fill="#222"  stroke="#222" stroke-width="0.2">6552</text>
<line x1="198.8" y1="31.3" x2="201.4" y2="31.3" stroke="#2a2a2a" stroke-width="0.8" />
<text x="197.4" y="33.9" font-size="8.6" text-anchor="end" fill="#222"  stroke="#222" stroke-width="0.2">6554</text>
<line x1="199.9" y1="114.25" x2="201.4" y2="114.25" stroke="#2a2a2a" stroke-width="0.7" />
<line x1="199.9" y1="90.55" x2="201.4" y2="90.55" stroke="#2a2a2a" stroke-width="0.7" />
<line x1="199.9" y1="66.85" x2="201.4" y2="66.85" stroke="#2a2a2a" stroke-width="0.7" />
<line x1="199.9" y1="43.15" x2="201.4" y2="43.15" stroke="#2a2a2a" stroke-width="0.7" />
<line x1="199.9" y1="19.45" x2="201.4" y2="19.45" stroke="#2a2a2a" stroke-width="0.7" />
<text x="269.2" y="137.6" font-size="9.75" text-anchor="middle" fill="#1a1a1a"  stroke="#1a1a1a" stroke-width="0.2">Potential</text>
<text transform="translate(175.2,69) rotate(-90)" x="0" y="0" font-size="10" text-anchor="middle" fill="#1a1a1a"  stroke="#1a1a1a" stroke-width="0.2">Energy(eV)</text>
<text x="173.8" y="155.7" font-size="12" fill="#111"  stroke="#111" stroke-width="0.2">f</text>
<rect x="201.4" y="159.5" width="44.3" height="113" fill="#edf6f1" stroke="none" stroke-width="1" />
<rect x="245.7" y="159.5" width="91.3" height="113" fill="#fdefe6" stroke="none" stroke-width="1" />
<path d="M226.1,263.1 L238.4,180.7 L250.7,180.7 L262.7,203.3 L275,188.5 L287.5,180.7 L299.8,179 L312.1,179 L324.6,179" fill="none" stroke="#2a2a2a" stroke-width="0.85" />
<line x1="262.7" y1="238.7" x2="262.7" y2="209" stroke="#ff2020" stroke-width="0.9" />
<path d="M262.7,207 L263.9,209.8 L261.5,209.8 Z" fill="#ff2020"/>
<line x1="312.1" y1="238.7" x2="312.1" y2="185" stroke="#ff2020" stroke-width="0.9" />
<path d="M312.1,183 L313.3,185.8 L310.9,185.8 Z" fill="#ff2020"/>
<line x1="274.5" y1="244.6" x2="301.5" y2="244.6" stroke="#ff2020" stroke-width="0.9" />
<path d="M273.4,244.6 L276.2,243.4 L276.2,245.8 Z" fill="#ff2020"/>
<path d="M302.6,244.6 L299.8,245.8 L299.8,243.4 Z" fill="#ff2020"/>
<text x="259.6" y="246.7" font-size="6.7" fill="#222"  stroke="#222" stroke-width="0.2">0.8V</text>
<text x="304.6" y="246.7" font-size="6.7" fill="#222"  stroke="#222" stroke-width="0.2">1.6V</text>
<circle cx="226.1" cy="263.1" r="2.85" fill="#ffffff" stroke="#1515ff" stroke-width="0.9" />
<path d="M222.8,263.2 A3.3,3.3 0 0 0 229.4,263.2 Z" fill="#1515ff"/>
<circle cx="238.4" cy="180.7" r="2.85" fill="#ffffff" stroke="#1515ff" stroke-width="0.9" />
<path d="M235.1,180.8 A3.3,3.3 0 0 0 241.7,180.8 Z" fill="#1515ff"/>
<circle cx="250.7" cy="180.7" r="2.85" fill="#ffffff" stroke="#ff1010" stroke-width="0.9" />
<path d="M247.4,180.8 A3.3,3.3 0 0 0 254,180.8 Z" fill="#ff1010"/>
<circle cx="262.7" cy="203.3" r="2.85" fill="#ffffff" stroke="#ff1010" stroke-width="0.9" />
<path d="M259.4,203.4 A3.3,3.3 0 0 0 266,203.4 Z" fill="#ff1010"/>
<circle cx="275" cy="188.5" r="2.85" fill="#ffffff" stroke="#ff1010" stroke-width="0.9" />
<path d="M271.7,188.6 A3.3,3.3 0 0 0 278.3,188.6 Z" fill="#ff1010"/>
<circle cx="287.5" cy="180.7" r="2.85" fill="#ffffff" stroke="#ff1010" stroke-width="0.9" />
<path d="M284.2,180.8 A3.3,3.3 0 0 0 290.8,180.8 Z" fill="#ff1010"/>
<circle cx="299.8" cy="179" r="2.85" fill="#ffffff" stroke="#ff1010" stroke-width="0.9" />
<path d="M296.5,179.1 A3.3,3.3 0 0 0 303.1,179.1 Z" fill="#ff1010"/>
<circle cx="312.1" cy="179" r="2.85" fill="#ffffff" stroke="#ff1010" stroke-width="0.9" />
<path d="M308.8,179.1 A3.3,3.3 0 0 0 315.4,179.1 Z" fill="#ff1010"/>
<circle cx="324.6" cy="179" r="2.85" fill="#ffffff" stroke="#ff1010" stroke-width="0.9" />
<path d="M321.3,179.1 A3.3,3.3 0 0 0 327.9,179.1 Z" fill="#ff1010"/>
<text x="234.3" y="183.9" font-size="7" text-anchor="end" fill="#222"  stroke="#222" stroke-width="0.2">Mn(air)</text>
<text x="245.2" y="177.1" font-size="7" fill="#222"  stroke="#222" stroke-width="0.2">OCV</text>
<text x="319.9" y="190.6" font-size="7" fill="#222"  stroke="#222" stroke-width="0.2">OCV</text>
<text x="320.3" y="198.4" font-size="7" fill="#222"  stroke="#222" stroke-width="0.2">after</text>
<text x="203.7" y="263.9" font-size="7" fill="#222"  stroke="#222" stroke-width="0.2">Mn(0)</text>
<text x="203.7" y="271.4" font-size="7" fill="#222"  stroke="#222" stroke-width="0.2">Foil</text>
<rect x="201.4" y="159.5" width="135.6" height="113" fill="none" stroke="#2a2a2a" stroke-width="1" />
<line x1="198.8" y1="249.4" x2="201.4" y2="249.4" stroke="#2a2a2a" stroke-width="0.8" />
<text x="197.4" y="252" font-size="8.6" text-anchor="end" fill="#222"  stroke="#222" stroke-width="0.2">6548</text>
<line x1="198.8" y1="225.7" x2="201.4" y2="225.7" stroke="#2a2a2a" stroke-width="0.8" />
<text x="197.4" y="228.3" font-size="8.6" text-anchor="end" fill="#222"  stroke="#222" stroke-width="0.2">6550</text>
<line x1="198.8" y1="202" x2="201.4" y2="202" stroke="#2a2a2a" stroke-width="0.8" />
<text x="197.4" y="204.6" font-size="8.6" text-anchor="end" fill="#222"  stroke="#222" stroke-width="0.2">6552</text>
<line x1="198.8" y1="178.3" x2="201.4" y2="178.3" stroke="#2a2a2a" stroke-width="0.8" />
<text x="197.4" y="180.9" font-size="8.6" text-anchor="end" fill="#222"  stroke="#222" stroke-width="0.2">6554</text>
<line x1="199.9" y1="261.25" x2="201.4" y2="261.25" stroke="#2a2a2a" stroke-width="0.7" />
<line x1="199.9" y1="237.55" x2="201.4" y2="237.55" stroke="#2a2a2a" stroke-width="0.7" />
<line x1="199.9" y1="213.85" x2="201.4" y2="213.85" stroke="#2a2a2a" stroke-width="0.7" />
<line x1="199.9" y1="190.15" x2="201.4" y2="190.15" stroke="#2a2a2a" stroke-width="0.7" />
<line x1="199.9" y1="166.45" x2="201.4" y2="166.45" stroke="#2a2a2a" stroke-width="0.7" />
<text x="269.2" y="284.6" font-size="9.75" text-anchor="middle" fill="#1a1a1a"  stroke="#1a1a1a" stroke-width="0.2">Potential</text>
<text transform="translate(175.2,216) rotate(-90)" x="0" y="0" font-size="10" text-anchor="middle" fill="#1a1a1a"  stroke="#1a1a1a" stroke-width="0.2">Energy(eV)</text>
<text x="349.3" y="8.7" font-size="12" fill="#111"  stroke="#111" stroke-width="0.2">c</text>
<rect x="395.9" y="12.5" width="25.2" height="113.1" fill="#edf6f1" stroke="none" stroke-width="1" />
<rect x="421.1" y="12.5" width="29.5" height="113.1" fill="#fdefe6" stroke="none" stroke-width="1" />
<line x1="406.6" y1="33.5" x2="406.6" y2="125.6" stroke="#333" stroke-width="0.9" stroke-dasharray="1,1.1"/>
<line x1="433.9" y1="61.5" x2="433.9" y2="125.6" stroke="#333" stroke-width="0.9" stroke-dasharray="1,1.1"/>
<clipPath id="clipc0"><rect x="374.6" y="12.5" width="135.9" height="113.1"/></clipPath>
<g clip-path="url(#clipc0)" fill="none" stroke-linejoin="round">
<path d="M374.8,116.71 C375.25,115.77 376.5,112.4 377.51,111.06 C378.53,109.71 379.58,108.03 380.9,108.63 C382.22,109.24 384.1,114.73 385.42,114.69 C386.74,114.66 387.64,110.52 388.81,108.43 C389.98,106.34 391.22,102.67 392.43,102.17 C393.63,101.66 394.84,108.32 396.04,105.4 C397.25,102.48 398.42,92.49 399.66,84.67 C400.9,76.86 402.3,64.13 403.5,58.5 C404.71,52.86 405.76,50.53 406.89,50.86 C408.02,51.19 409.08,54.18 410.28,60.48 C411.49,66.77 412.88,79.93 414.12,88.63 C415.37,97.33 416.57,107.52 417.74,112.67 C418.91,117.82 419.92,121.11 421.13,119.54 C422.34,117.97 423.47,108.94 424.97,103.25 C426.48,97.56 428.74,89.16 430.17,85.41 C431.6,81.66 432.39,80.78 433.56,80.76 C434.73,80.73 435.86,83.02 437.18,85.24 C438.49,87.46 439.89,89.52 441.47,94.09 C443.05,98.66 444.97,108.13 446.67,112.67 C448.36,117.21 450.06,119.95 451.64,121.33 C453.22,122.72 454.65,120.44 456.16,120.98 C457.67,121.51 459.17,124.06 460.68,124.53 C462.19,125.01 463.88,124.24 465.2,123.82 C466.52,123.41 467.27,121.93 468.59,122.04 C469.91,122.16 471.42,124.89 473.11,124.53 C474.81,124.18 476.88,121.69 478.76,119.91 C480.64,118.13 482.72,115.41 484.41,113.87 C486.11,112.33 487.24,110.19 488.93,110.67 C490.62,111.14 492.7,114.58 494.58,116.71 C496.46,118.85 498.35,122.64 500.23,123.47 C502.11,124.3 504.19,121.63 505.88,121.69 C507.57,121.75 509.65,123.47 510.4,123.82" stroke="#111111" stroke-width="1.25"/>
<path d="M374.8,117.12 C375.25,116.02 376.5,112.2 377.51,110.55 C378.53,108.9 379.58,106.6 380.9,107.22 C382.22,107.84 384.1,114.22 385.42,114.29 C386.74,114.36 387.64,109.84 388.81,107.62 C389.98,105.4 391.22,101.39 392.43,100.96 C393.63,100.52 394.84,108.08 396.04,105 C397.25,101.91 398.42,90.94 399.66,82.43 C400.9,73.92 402.3,60.06 403.5,53.92 C404.71,47.79 405.76,45.22 406.89,45.61 C408.02,45.99 409.08,49.28 410.28,56.24 C411.49,63.2 412.88,77.76 414.12,87.38 C415.37,97 416.57,108.27 417.74,113.96 C418.91,119.66 419.92,123.43 421.13,121.56 C422.34,119.69 423.47,109.3 424.97,102.73 C426.48,96.15 428.74,86.43 430.17,82.1 C431.6,77.76 432.39,76.8 433.56,76.72 C434.73,76.63 435.86,78.71 437.18,81.6 C438.49,84.5 439.89,88.91 441.47,94.09 C443.05,99.27 444.97,108.23 446.67,112.67 C448.36,117.12 450.06,119.47 451.64,120.75 C453.22,122.03 454.65,119.74 456.16,120.35 C457.67,120.95 459.17,123.85 460.68,124.39 C462.19,124.93 463.88,124.05 465.2,123.58 C466.52,123.11 467.27,121.43 468.59,121.56 C469.91,121.69 471.42,124.79 473.11,124.39 C474.81,123.98 476.88,121.16 478.76,119.14 C480.64,117.12 482.72,114.02 484.41,112.27 C486.11,110.52 487.24,108.09 488.93,108.63 C490.62,109.17 492.7,113.08 494.58,115.5 C496.46,117.92 498.35,122.23 500.23,123.18 C502.11,124.12 504.19,121.09 505.88,121.16 C507.57,121.22 509.65,123.18 510.4,123.58" stroke="#ff1010" stroke-width="1.25"/>
<path d="M374.8,118.33 C375.25,117.89 376.5,116.04 377.51,115.7 C378.53,115.37 379.58,115.47 380.9,116.31 C382.22,117.15 384.1,120.85 385.42,120.75 C386.74,120.65 387.64,117.39 388.81,115.7 C389.98,114.02 391.22,110.95 392.43,110.65 C393.63,110.35 394.84,115.32 396.04,113.88 C397.25,112.45 398.42,106.52 399.66,102.06 C400.9,97.6 402.3,90.35 403.5,87.13 C404.71,83.92 405.76,82.54 406.89,82.78 C408.02,83.01 409.08,84.77 410.28,88.55 C411.49,92.32 412.88,100.22 414.12,105.44 C415.37,110.66 416.57,116.77 417.74,119.86 C418.91,122.95 419.92,125.05 421.13,123.98 C422.34,122.92 423.84,117.14 424.97,113.46 C426.1,109.79 426.86,104.36 427.91,101.94 C428.96,99.52 430.13,98.99 431.3,98.94 C432.47,98.88 433.6,100.32 434.92,101.6 C436.23,102.88 437.55,104.36 439.21,106.61 C440.87,108.86 442.98,112.74 444.86,115.1 C446.74,117.45 448.63,119.67 450.51,120.75 C452.39,121.83 454.47,120.89 456.16,121.56 C457.86,122.23 458.8,124.46 460.68,124.79 C462.56,125.13 465.2,123.58 467.46,123.58 C469.72,123.58 471.79,125.8 474.24,124.79 C476.69,123.78 479.89,119.14 482.15,117.52 C484.41,115.9 485.73,114.56 487.8,115.1 C489.87,115.63 492.32,119.14 494.58,120.75 C496.84,122.37 499.48,124.32 501.36,124.79 C503.24,125.26 504.37,123.65 505.88,123.58 C507.39,123.51 509.65,124.25 510.4,124.39" stroke="#ff8c1a" stroke-width="1.25"/>
<path d="M374.8,117.52 C375.25,116.64 376.5,113.48 377.51,112.27 C378.53,111.06 379.58,109.51 380.9,110.25 C382.22,110.99 384.1,116.75 385.42,116.71 C386.74,116.68 387.64,112.27 388.81,110.05 C389.98,107.82 391.22,103.88 392.43,103.38 C393.63,102.88 394.84,109.58 396.04,107.02 C397.25,104.45 398.42,95.16 399.66,87.98 C400.9,80.8 402.3,69.11 403.5,63.93 C404.71,58.76 405.76,56.58 406.89,56.92 C408.02,57.26 409.08,60.04 410.28,65.97 C411.49,71.89 412.88,84.28 414.12,92.47 C415.37,100.66 416.57,110.25 417.74,115.1 C418.91,119.94 419.92,122.66 421.13,121.56 C422.34,120.46 423.47,113.06 424.97,108.49 C426.48,103.93 428.74,97.19 430.17,94.18 C431.6,91.18 432.39,90.49 433.56,90.45 C434.73,90.42 435.86,91.48 437.18,93.97 C438.49,96.46 440,100.8 441.47,105.4 C442.94,110 444.48,118.4 445.99,121.56 C447.5,124.72 448.81,124.25 450.51,124.39 C452.2,124.52 454.47,122.3 456.16,122.37 C457.86,122.44 458.8,124.66 460.68,124.79 C462.56,124.93 465.39,123.18 467.46,123.18 C469.53,123.18 470.85,125.73 473.11,124.79 C475.37,123.85 478.76,119.41 481.02,117.52 C483.28,115.63 484.79,113.14 486.67,113.48 C488.55,113.82 490.25,117.72 492.32,119.54 C494.39,121.36 496.84,123.92 499.1,124.39 C501.36,124.86 504,122.44 505.88,122.37 C507.76,122.3 509.65,123.71 510.4,123.98" stroke="#c2b400" stroke-width="1.25"/>
<path d="M374.8,117.52 C375.25,116.58 376.5,113.21 377.51,111.86 C378.53,110.52 379.58,108.83 380.9,109.44 C382.22,110.05 384.1,115.5 385.42,115.5 C386.74,115.5 387.64,111.46 388.81,109.44 C389.98,107.42 391.22,103.92 392.43,103.38 C393.63,102.84 394.84,108.94 396.04,106.21 C397.25,103.48 398.42,94.26 399.66,87.02 C400.9,79.78 402.3,68 403.5,62.78 C404.71,57.56 405.76,55.38 406.89,55.71 C408.02,56.04 409.08,58.83 410.28,64.76 C411.49,70.68 412.88,83.07 414.12,91.26 C415.37,99.45 416.57,109.04 417.74,113.88 C418.91,118.73 419.92,121.73 421.13,120.35 C422.34,118.96 423.47,110.74 424.97,105.59 C426.48,100.43 428.74,92.82 430.17,89.42 C431.6,86.02 432.39,85.23 433.56,85.2 C434.73,85.17 435.86,87.76 437.18,89.24 C438.49,90.72 439.89,90.18 441.47,94.09 C443.05,97.99 444.97,108.03 446.67,112.67 C448.36,117.32 450.06,120.47 451.64,121.96 C453.22,123.46 454.65,121.21 456.16,121.66 C457.67,122.12 459.17,124.29 460.68,124.69 C462.19,125.09 463.88,124.44 465.2,124.08 C466.52,123.73 467.27,122.47 468.59,122.57 C469.91,122.67 471.42,124.99 473.11,124.69 C474.81,124.39 476.88,122.27 478.76,120.75 C480.64,119.24 482.72,116.91 484.41,115.6 C486.11,114.29 487.24,112.47 488.93,112.87 C490.62,113.28 492.7,116.21 494.58,118.02 C496.46,119.84 498.35,123.07 500.23,123.78 C502.11,124.49 504.19,122.22 505.88,122.27 C507.57,122.32 509.65,123.78 510.4,124.08" stroke="#3db33d" stroke-width="1.25"/>
<path d="M374.8,123.58 C375.25,122.54 376.5,118.87 377.51,117.32 C378.53,115.77 379.58,113.31 380.9,114.29 C382.22,115.26 384.1,122.84 385.42,123.18 C386.74,123.51 387.64,118.6 388.81,116.31 C389.98,114.02 391.22,109.91 392.43,109.44 C393.63,108.97 394.84,115.08 396.04,113.48 C397.25,111.88 398.42,104.97 399.66,99.82 C400.9,94.66 402.3,86.27 403.5,82.56 C404.71,78.84 405.76,77.42 406.89,77.52 C408.02,77.63 409.08,79.48 410.28,83.18 C411.49,86.88 412.88,94.63 414.12,99.74 C415.37,104.86 416.57,110.85 417.74,113.88 C418.91,116.91 419.92,119.06 421.13,117.92 C422.34,116.79 424.22,110.86 424.97,107.06 C425.73,103.27 424.97,97.67 425.65,95.17 C426.33,92.67 427.87,92.03 429.04,92.07 C430.21,92.11 431.22,92.66 432.66,95.42 C434.09,98.18 435.9,106.9 437.63,108.63 C439.36,110.36 441.17,105 443.05,105.8 C444.94,106.61 447.31,111.53 448.93,113.48 C450.55,115.43 451.49,116.98 452.77,117.52 C454.05,118.06 455.29,115.9 456.61,116.71 C457.93,117.52 459.55,121.02 460.68,122.37 C461.81,123.71 462.26,125.8 463.39,124.79 C464.52,123.78 465.84,116.38 467.46,116.31 C469.08,116.24 471.23,124.19 473.11,124.39 C474.99,124.59 477.06,119.54 478.76,117.52 C480.45,115.5 481.77,112.6 483.28,112.27 C484.79,111.93 485.92,113.95 487.8,115.5 C489.68,117.05 492.32,120.01 494.58,121.56 C496.84,123.11 499.1,124.46 501.36,124.79 C503.62,125.13 506.63,123.65 508.14,123.58 C509.65,123.51 510.02,124.25 510.4,124.39" stroke="#1a1aff" stroke-width="1.25"/>
<path d="M374.8,119.14 C375.25,119.03 376.5,118.19 377.51,118.53 C378.53,118.87 379.58,120.65 380.9,121.16 C382.22,121.66 384.1,122.13 385.42,121.56 C386.74,120.99 387.64,119 388.81,117.72 C389.98,116.44 391.22,113.51 392.43,113.88 C393.63,114.25 394.84,122 396.04,119.94 C397.25,117.88 398.42,108.47 399.66,101.52 C400.9,94.57 402.3,83.26 403.5,78.25 C404.71,73.24 405.76,71.52 406.89,71.46 C408.02,71.41 409.08,73.69 410.28,77.91 C411.49,82.13 412.88,90.96 414.12,96.79 C415.37,102.63 416.57,109.46 417.74,112.91 C418.91,116.37 419.92,118.51 421.13,117.52 C422.34,116.53 424.03,110.67 424.97,107 C425.91,103.33 425.91,97.9 426.78,95.48 C427.65,93.06 429,92.42 430.17,92.47 C431.34,92.52 432.66,93.97 433.79,95.78 C434.92,97.6 435.48,100.77 436.95,103.38 C438.42,105.99 440.91,109.1 442.6,111.46 C444.3,113.82 445.43,116.24 447.12,117.52 C448.81,118.8 451.19,119 452.77,119.14 C454.35,119.27 455.11,117.45 456.61,118.33 C458.12,119.2 460,124.72 461.81,124.39 C463.62,124.05 465.58,116.24 467.46,116.31 C469.34,116.38 471.23,125.26 473.11,124.79 C474.99,124.32 477.25,116.38 478.76,113.48 C480.27,110.58 480.83,107.42 482.15,107.42 C483.47,107.42 484.98,111.12 486.67,113.48 C488.37,115.84 490.44,119.67 492.32,121.56 C494.2,123.45 496.09,124.79 497.97,124.79 C499.85,124.79 501.55,121.63 503.62,121.56 C505.69,121.49 509.27,123.92 510.4,124.39" stroke="#ff2bff" stroke-width="1.25"/>
<path d="M374.8,115.5 C375.25,114.39 376.5,110.52 377.51,108.83 C378.53,107.15 379.58,104.83 380.9,105.4 C382.22,105.97 384.1,112.54 385.42,112.27 C386.74,112 387.64,106.61 388.81,103.78 C389.98,100.96 391.22,96.04 392.43,95.3 C393.63,94.56 394.84,102.76 396.04,99.34 C397.25,95.92 398.42,84.04 399.66,74.78 C400.9,65.51 402.3,50.43 403.5,43.75 C404.71,37.07 405.76,34.28 406.89,34.7 C408.02,35.12 409.08,38.7 410.28,46.29 C411.49,53.89 412.88,69.76 414.12,80.25 C415.37,90.74 416.57,103.03 417.74,109.24 C418.91,115.45 419.92,119 421.13,117.52 C422.34,116.04 423.39,106.37 424.97,100.38 C426.55,94.4 429.12,85.56 430.62,81.61 C432.13,77.67 432.84,76.72 434.01,76.72 C435.18,76.71 436.39,78.71 437.63,81.6 C438.87,84.5 439.96,88.91 441.47,94.09 C442.98,99.27 444.97,108.19 446.67,112.67 C448.36,117.16 450.06,119.67 451.64,120.99 C453.22,122.32 454.65,120.03 456.16,120.61 C457.67,121.19 459.17,123.94 460.68,124.45 C462.19,124.96 463.88,124.13 465.2,123.68 C466.52,123.23 467.27,121.63 468.59,121.76 C469.91,121.89 471.42,124.83 473.11,124.45 C474.81,124.06 476.88,121.38 478.76,119.46 C480.64,117.54 482.72,114.6 484.41,112.93 C486.11,111.27 487.24,108.97 488.93,109.48 C490.62,109.99 492.7,113.7 494.58,116 C496.46,118.31 498.35,122.4 500.23,123.3 C502.11,124.19 504.19,121.31 505.88,121.38 C507.57,121.44 509.65,123.3 510.4,123.68" stroke="#8a1aff" stroke-width="1.25"/>
</g>
<text x="380.8" y="23.8" font-size="8.4" fill="#1a1a1a" stroke="#1a1a1a" stroke-width="0.2">Mn FT Ru<tspan font-size="5.8" dy="2.3">(SA)</tspan><tspan dy="-2.3">-OMS</tspan></text>
<rect x="400.4" y="27.5" width="18.4" height="6.6" fill="#000" stroke="none" stroke-width="1" />
<rect x="399.2" y="26.3" width="18.4" height="6.6" fill="#fff" stroke="#333" stroke-width="0.5" />
<text x="408.4" y="31.4" font-size="5.4" text-anchor="middle" fill="#222" stroke="#222" stroke-width="0.08">Mn-O</text>
<rect x="426.6" y="36.1" width="21.8" height="7.1" fill="#000" stroke="none" stroke-width="1" />
<rect x="425.4" y="34.9" width="21.8" height="7.1" fill="#fff" stroke="#333" stroke-width="0.5" />
<text x="436.3" y="40.5" font-size="5.4" text-anchor="middle" fill="#222" stroke="#222" stroke-width="0.08">Mn-Mn</text>
<rect x="463.2" y="19.9" width="42.2" height="54.1" fill="#000" stroke="none" stroke-width="1" />
<rect x="461.6" y="18.3" width="42.2" height="54.1" fill="#fff" stroke="#333" stroke-width="0.6" />
<line x1="464.3" y1="22.6" x2="476.3" y2="22.6" stroke="#111111" stroke-width="1.3" />
<text x="477.8" y="24.62" font-size="5.6" fill="#222"  stroke="#222" stroke-width="0.07">Air</text>
<line x1="464.3" y1="29.24" x2="476.3" y2="29.24" stroke="#ff1010" stroke-width="1.3" />
<text x="477.8" y="31.26" font-size="5.6" fill="#222"  stroke="#222" stroke-width="0.07">OCV</text>
<line x1="464.3" y1="35.88" x2="476.3" y2="35.88" stroke="#ff8c1a" stroke-width="1.3" />
<text x="477.8" y="37.9" font-size="5.6" fill="#222"  stroke="#222" stroke-width="0.07">0.8 V</text>
<line x1="464.3" y1="42.52" x2="476.3" y2="42.52" stroke="#c2b400" stroke-width="1.3" />
<text x="477.8" y="44.54" font-size="5.6" fill="#222"  stroke="#222" stroke-width="0.07">1.0 V</text>
<line x1="464.3" y1="49.16" x2="476.3" y2="49.16" stroke="#3db33d" stroke-width="1.3" />
<text x="477.8" y="51.18" font-size="5.6" fill="#222"  stroke="#222" stroke-width="0.07">1.2 V</text>
<line x1="464.3" y1="55.8" x2="476.3" y2="55.8" stroke="#1a1aff" stroke-width="1.3" />
<text x="477.8" y="57.82" font-size="5.6" fill="#222"  stroke="#222" stroke-width="0.07">1.4 V</text>
<line x1="464.3" y1="62.44" x2="476.3" y2="62.44" stroke="#ff2bff" stroke-width="1.3" />
<text x="477.8" y="64.46" font-size="5.6" fill="#222"  stroke="#222" stroke-width="0.07">1.6 V</text>
<line x1="464.3" y1="69.08" x2="476.3" y2="69.08" stroke="#8a1aff" stroke-width="1.3" />
<text x="477.8" y="71.1" font-size="5.6" fill="#222"  stroke="#222" stroke-width="0.07">OCV after</text>
<rect x="374.6" y="12.5" width="135.9" height="113.1" fill="none" stroke="#2a2a2a" stroke-width="1" />
<line x1="372" y1="126" x2="374.6" y2="126" stroke="#2a2a2a" stroke-width="0.8" />
<text x="370.8" y="128.6" font-size="8" text-anchor="end" fill="#222"  stroke="#222" stroke-width="0.2">0.0</text>
<line x1="372" y1="109.84" x2="374.6" y2="109.84" stroke="#2a2a2a" stroke-width="0.8" />
<text x="370.8" y="112.44" font-size="8" text-anchor="end" fill="#222"  stroke="#222" stroke-width="0.2">0.4</text>
<line x1="372" y1="93.68" x2="374.6" y2="93.68" stroke="#2a2a2a" stroke-width="0.8" />
<text x="370.8" y="96.28" font-size="8" text-anchor="end" fill="#222"  stroke="#222" stroke-width="0.2">0.8</text>
<line x1="372" y1="77.52" x2="374.6" y2="77.52" stroke="#2a2a2a" stroke-width="0.8" />
<text x="370.8" y="80.12" font-size="8" text-anchor="end" fill="#222"  stroke="#222" stroke-width="0.2">1.2</text>
<line x1="372" y1="61.36" x2="374.6" y2="61.36" stroke="#2a2a2a" stroke-width="0.8" />
<text x="370.8" y="63.96" font-size="8" text-anchor="end" fill="#222"  stroke="#222" stroke-width="0.2">1.6</text>
<line x1="372" y1="45.2" x2="374.6" y2="45.2" stroke="#2a2a2a" stroke-width="0.8" />
<text x="370.8" y="47.8" font-size="8" text-anchor="end" fill="#222"  stroke="#222" stroke-width="0.2">2.0</text>
<line x1="372" y1="29.04" x2="374.6" y2="29.04" stroke="#2a2a2a" stroke-width="0.8" />
<text x="370.8" y="31.64" font-size="8" text-anchor="end" fill="#222"  stroke="#222" stroke-width="0.2">2.4</text>
<line x1="372" y1="12.88" x2="374.6" y2="12.88" stroke="#2a2a2a" stroke-width="0.8" />
<text x="370.8" y="15.48" font-size="8" text-anchor="end" fill="#222"  stroke="#222" stroke-width="0.2">2.8</text>
<line x1="373.1" y1="117.92" x2="374.6" y2="117.92" stroke="#2a2a2a" stroke-width="0.7" />
<line x1="373.1" y1="101.76" x2="374.6" y2="101.76" stroke="#2a2a2a" stroke-width="0.7" />
<line x1="373.1" y1="85.6" x2="374.6" y2="85.6" stroke="#2a2a2a" stroke-width="0.7" />
<line x1="373.1" y1="69.44" x2="374.6" y2="69.44" stroke="#2a2a2a" stroke-width="0.7" />
<line x1="373.1" y1="53.28" x2="374.6" y2="53.28" stroke="#2a2a2a" stroke-width="0.7" />
<line x1="373.1" y1="37.12" x2="374.6" y2="37.12" stroke="#2a2a2a" stroke-width="0.7" />
<line x1="373.1" y1="20.96" x2="374.6" y2="20.96" stroke="#2a2a2a" stroke-width="0.7" />
<line x1="374.8" y1="125.6" x2="374.8" y2="128.2" stroke="#2a2a2a" stroke-width="0.8" />
<text x="374.8" y="135.8" font-size="8.4" text-anchor="middle" fill="#222"  stroke="#222" stroke-width="0.2">0</text>
<line x1="397.4" y1="125.6" x2="397.4" y2="128.2" stroke="#2a2a2a" stroke-width="0.8" />
<text x="397.4" y="135.8" font-size="8.4" text-anchor="middle" fill="#222"  stroke="#222" stroke-width="0.2">1</text>
<line x1="420" y1="125.6" x2="420" y2="128.2" stroke="#2a2a2a" stroke-width="0.8" />
<text x="420" y="135.8" font-size="8.4" text-anchor="middle" fill="#222"  stroke="#222" stroke-width="0.2">2</text>
<line x1="442.6" y1="125.6" x2="442.6" y2="128.2" stroke="#2a2a2a" stroke-width="0.8" />
<text x="442.6" y="135.8" font-size="8.4" text-anchor="middle" fill="#222"  stroke="#222" stroke-width="0.2">3</text>
<line x1="465.2" y1="125.6" x2="465.2" y2="128.2" stroke="#2a2a2a" stroke-width="0.8" />
<text x="465.2" y="135.8" font-size="8.4" text-anchor="middle" fill="#222"  stroke="#222" stroke-width="0.2">4</text>
<line x1="487.8" y1="125.6" x2="487.8" y2="128.2" stroke="#2a2a2a" stroke-width="0.8" />
<text x="487.8" y="135.8" font-size="8.4" text-anchor="middle" fill="#222"  stroke="#222" stroke-width="0.2">5</text>
<line x1="510.4" y1="125.6" x2="510.4" y2="128.2" stroke="#2a2a2a" stroke-width="0.8" />
<text x="510.4" y="135.8" font-size="8.4" text-anchor="middle" fill="#222"  stroke="#222" stroke-width="0.2">6</text>
<line x1="386.1" y1="125.6" x2="386.1" y2="127.1" stroke="#2a2a2a" stroke-width="0.7" />
<line x1="408.7" y1="125.6" x2="408.7" y2="127.1" stroke="#2a2a2a" stroke-width="0.7" />
<line x1="431.3" y1="125.6" x2="431.3" y2="127.1" stroke="#2a2a2a" stroke-width="0.7" />
<line x1="453.9" y1="125.6" x2="453.9" y2="127.1" stroke="#2a2a2a" stroke-width="0.7" />
<line x1="476.5" y1="125.6" x2="476.5" y2="127.1" stroke="#2a2a2a" stroke-width="0.7" />
<line x1="499.1" y1="125.6" x2="499.1" y2="127.1" stroke="#2a2a2a" stroke-width="0.7" />
<text x="442.9" y="147.5" font-size="10" text-anchor="middle" fill="#1a1a1a"  stroke="#1a1a1a" stroke-width="0.2">Interatomic distance (&#197;)</text>
<text transform="translate(355.9,68.9) rotate(-90)" x="0" y="0" font-size="10.5" text-anchor="middle" fill="#1a1a1a" stroke="#1a1a1a" stroke-width="0.2"><tspan font-size="11.5" dy="-1.3">|</tspan><tspan dx="2" dy="1.3" font-style="italic">&#967;</tspan>(R)<tspan dx="2" font-size="11.5" dy="-1.3">|</tspan><tspan dx="2" dy="1.3">(&#197;</tspan><tspan font-size="6.8" dy="-3.6">-3</tspan><tspan dy="3.6">)</tspan></text>
<line x1="391.3" y1="45.1" x2="391.3" y2="33.9" stroke="#c0406a" stroke-width="1" />
<line x1="391.3" y1="45.1" x2="391.3" y2="56.9" stroke="#c0406a" stroke-width="1" />
<line x1="391.3" y1="45.1" x2="381.6" y2="44.8" stroke="#c0406a" stroke-width="1" />
<line x1="391.3" y1="45.1" x2="401" y2="47.4" stroke="#c0406a" stroke-width="1" />
<line x1="391.3" y1="45.1" x2="384.4" y2="48.4" stroke="#c0406a" stroke-width="1" />
<line x1="391.3" y1="45.1" x2="398.4" y2="43" stroke="#c0406a" stroke-width="1" />
<circle cx="391.3" cy="33.9" r="1.6" fill="url(#gO)"/>
<circle cx="391.3" cy="56.9" r="1.6" fill="url(#gO)"/>
<circle cx="381.6" cy="44.8" r="1.6" fill="url(#gO)"/>
<circle cx="401" cy="47.4" r="1.6" fill="url(#gO)"/>
<circle cx="384.4" cy="48.4" r="1.6" fill="url(#gO)"/>
<circle cx="398.4" cy="43" r="1.6" fill="url(#gO)"/>
<circle cx="391.3" cy="45.1" r="3.3" fill="url(#gMn)"/>
<line x1="427" y1="52.4" x2="435.3" y2="45.4" stroke="#b0508a" stroke-width="1.1" />
<line x1="427" y1="52.4" x2="435.3" y2="59.3" stroke="#b0508a" stroke-width="1.1" />
<line x1="443.6" y1="52.4" x2="435.3" y2="45.4" stroke="#b0508a" stroke-width="1.1" />
<line x1="443.6" y1="52.4" x2="435.3" y2="59.3" stroke="#b0508a" stroke-width="1.1" />
<circle cx="435.3" cy="45.4" r="1.6" fill="url(#gO)"/>
<circle cx="435.3" cy="59.3" r="1.6" fill="url(#gO)"/>
<circle cx="427" cy="52.4" r="3.2" fill="url(#gMn)"/>
<circle cx="443.6" cy="52.4" r="3.2" fill="url(#gMn)"/>
<line x1="463.9" y1="92" x2="474" y2="87.9" stroke="#b0508a" stroke-width="1.3" />
<line x1="482.2" y1="92" x2="474" y2="87.9" stroke="#b0508a" stroke-width="1.3" />
<circle cx="474" cy="87.9" r="1.9" fill="url(#gO)"/>
<circle cx="463.9" cy="92" r="3.5" fill="url(#gMn)"/>
<circle cx="482.2" cy="92" r="3.5" fill="url(#gMn)"/>
<line x1="446.4" y1="105.8" x2="457" y2="98.4" stroke="#222" stroke-width="0.8" stroke-dasharray="1.5,1"/>
<path d="M459,97 L457.56,99.47 L456.18,97.51 Z" fill="#222"/>
<text x="349.3" y="155.7" font-size="12" fill="#111"  stroke="#111" stroke-width="0.2">g</text>
<rect x="395" y="159.5" width="25.8" height="113.1" fill="#edf6f1" stroke="none" stroke-width="1" />
<rect x="420.8" y="159.5" width="25" height="113.1" fill="#fdefe6" stroke="none" stroke-width="1" />
<line x1="407.7" y1="212.2" x2="407.7" y2="272.6" stroke="#333" stroke-width="0.9" stroke-dasharray="1,1.1"/>
<line x1="430.8" y1="212.2" x2="430.8" y2="272.6" stroke="#333" stroke-width="0.9" stroke-dasharray="1,1.1"/>
<clipPath id="clipc147"><rect x="374.6" y="159.5" width="135.9" height="113.1"/></clipPath>
<g clip-path="url(#clipc147)" fill="none" stroke-linejoin="round">
<path d="M374.8,270.98 C375.25,269.77 376.5,265.6 377.51,263.71 C378.53,261.83 379.58,258.26 380.9,259.67 C382.22,261.09 384.1,271.59 385.42,272.2 C386.74,272.8 387.64,266.27 388.81,263.31 C389.98,260.35 391.22,252.94 392.43,254.42 C393.63,255.9 394.84,272.53 396.04,272.2 C397.25,271.86 398.42,259.86 399.66,252.39 C400.9,244.92 402.3,232.76 403.5,227.38 C404.71,221.99 405.76,220.35 406.89,220.08 C408.02,219.81 409.08,222.03 410.28,225.74 C411.49,229.44 412.88,237.18 414.12,242.3 C415.37,247.42 416.76,253.41 417.74,256.44 C418.72,259.47 418.98,261.5 420,260.48 C421.02,259.46 422.52,253.85 423.84,250.3 C425.16,246.74 426.67,241.49 427.91,239.15 C429.15,236.81 430.13,236.12 431.3,236.24 C432.47,236.36 433.79,237.18 434.92,239.88 C436.05,242.57 436.61,247.28 438.08,252.4 C439.55,257.52 442.22,267.42 443.73,270.58 C445.24,273.74 445.43,272.06 447.12,271.39 C448.81,270.71 451.83,266.67 453.9,266.54 C455.97,266.41 457.97,269.7 459.55,270.58 C461.13,271.46 461.7,272.26 463.39,271.79 C465.09,271.32 467.54,268.9 469.72,267.75 C471.9,266.61 474.24,265.46 476.5,264.92 C478.76,264.39 481.02,264.25 483.28,264.52 C485.54,264.79 487.8,265.8 490.06,266.54 C492.32,267.28 494.58,268.36 496.84,268.96 C499.1,269.57 501.36,269.91 503.62,270.18 C505.88,270.45 509.27,270.51 510.4,270.58" stroke="#111111" stroke-width="1.25"/>
<path d="M374.8,270.98 C375.25,269.77 376.5,265.6 377.51,263.71 C378.53,261.83 379.58,258.26 380.9,259.67 C382.22,261.09 384.1,271.59 385.42,272.2 C386.74,272.8 387.64,266.27 388.81,263.31 C389.98,260.35 391.22,252.94 392.43,254.42 C393.63,255.9 394.84,272.64 396.04,272.2 C397.25,271.76 398.42,259.48 399.66,251.78 C400.9,244.08 402.3,231.54 403.5,225.99 C404.71,220.43 405.76,218.76 406.89,218.46 C408.02,218.17 409.08,220.46 410.28,224.23 C411.49,228.01 412.88,235.91 414.12,241.13 C415.37,246.35 416.76,252.46 417.74,255.55 C418.72,258.64 418.98,260.71 420,259.67 C421.02,258.63 422.52,252.94 423.84,249.32 C425.16,245.71 426.67,240.37 427.91,237.99 C429.15,235.6 430.13,234.89 431.3,235.03 C432.47,235.16 433.79,236.02 434.92,238.79 C436.05,241.55 436.61,246.36 438.08,251.59 C439.55,256.82 442.22,266.94 443.73,270.18 C445.24,273.41 445.43,271.79 447.12,270.98 C448.81,270.18 451.83,265.46 453.9,265.33 C455.97,265.19 457.97,269.17 459.55,270.18 C461.13,271.19 461.7,271.99 463.39,271.39 C465.09,270.78 467.54,267.82 469.72,266.54 C471.9,265.26 474.24,264.39 476.5,263.71 C478.76,263.04 481.02,262.23 483.28,262.5 C485.54,262.77 487.8,264.32 490.06,265.33 C492.32,266.34 494.58,267.82 496.84,268.56 C499.1,269.3 501.36,269.44 503.62,269.77 C505.88,270.11 509.27,270.45 510.4,270.58" stroke="#ff1010" stroke-width="1.25"/>
<path d="M374.8,270.98 C375.25,270.11 376.5,266.94 377.51,265.73 C378.53,264.52 379.58,262.63 380.9,263.71 C382.22,264.79 384.1,271.86 385.42,272.2 C386.74,272.53 387.64,267.89 388.81,265.73 C389.98,263.58 391.22,258.19 392.43,259.27 C393.63,260.35 394.84,272.78 396.04,272.2 C397.25,271.61 398.42,261.97 399.66,255.77 C400.9,249.57 402.3,239.49 403.5,235.02 C404.71,230.55 405.76,229.05 406.89,228.97 C408.02,228.88 409.08,230.88 410.28,234.51 C411.49,238.14 412.88,245.73 414.12,250.74 C415.37,255.76 416.76,261.63 417.74,264.6 C418.72,267.57 418.98,269.74 420,268.56 C421.02,267.38 422.52,261.38 423.84,257.53 C425.16,253.68 426.67,247.99 427.91,245.45 C429.15,242.91 430.13,242.32 431.3,242.3 C432.47,242.28 433.79,243.11 434.92,245.33 C436.05,247.55 436.61,251.29 438.08,255.63 C439.55,259.98 442.22,268.69 443.73,271.39 C445.24,274.08 445.43,272.4 447.12,271.79 C448.81,271.19 451.83,267.75 453.9,267.75 C455.97,267.75 457.97,270.98 459.55,271.79 C461.13,272.6 461.7,272.8 463.39,272.6 C465.09,272.4 467.54,271.79 469.72,270.58 C471.9,269.37 474.24,266.47 476.5,265.33 C478.76,264.18 481.02,263.58 483.28,263.71 C485.54,263.85 487.8,265.19 490.06,266.14 C492.32,267.08 494.58,268.63 496.84,269.37 C499.1,270.11 501.36,270.31 503.62,270.58 C505.88,270.85 509.27,270.92 510.4,270.98" stroke="#ff8c1a" stroke-width="1.25"/>
<path d="M374.8,270.98 C375.25,270.01 376.5,266.54 377.51,265.13 C378.53,263.71 379.58,261.32 380.9,262.5 C382.22,263.68 384.1,271.76 385.42,272.2 C386.74,272.63 387.64,267.48 388.81,265.13 C389.98,262.77 391.22,256.88 392.43,258.06 C393.63,259.23 394.84,272.63 396.04,272.2 C397.25,271.76 398.42,261.77 399.66,255.46 C400.9,249.15 402.3,238.88 403.5,234.33 C404.71,229.77 405.76,228.39 406.89,228.16 C408.02,227.93 409.08,229.82 410.28,232.97 C411.49,236.12 412.88,242.7 414.12,247.05 C415.37,251.4 416.76,256.49 417.74,259.07 C418.72,261.64 418.98,263.4 420,262.5 C421.02,261.6 422.52,256.76 423.84,253.68 C425.16,250.6 426.67,246.04 427.91,244.01 C429.15,241.98 430.13,241.39 431.3,241.49 C432.47,241.59 433.79,242.78 434.92,244.6 C436.05,246.42 436.61,248.07 438.08,252.4 C439.55,256.73 442.22,267.42 443.73,270.58 C445.24,273.74 445.43,272.06 447.12,271.39 C448.81,270.71 451.83,266.67 453.9,266.54 C455.97,266.41 457.97,269.7 459.55,270.58 C461.13,271.46 461.7,272.26 463.39,271.79 C465.09,271.32 467.54,268.9 469.72,267.75 C471.9,266.61 474.24,265.46 476.5,264.92 C478.76,264.39 481.02,264.25 483.28,264.52 C485.54,264.79 487.8,265.8 490.06,266.54 C492.32,267.28 494.58,268.36 496.84,268.96 C499.1,269.57 501.36,269.91 503.62,270.18 C505.88,270.45 509.27,270.51 510.4,270.58" stroke="#c2b400" stroke-width="1.25"/>
<path d="M374.8,270.98 C375.25,269.77 376.5,265.6 377.51,263.71 C378.53,261.83 379.58,258.26 380.9,259.67 C382.22,261.09 384.1,271.59 385.42,272.2 C386.74,272.8 387.64,266.27 388.81,263.31 C389.98,260.35 391.22,252.94 392.43,254.42 C393.63,255.9 394.84,272.46 396.04,272.2 C397.25,271.93 398.42,260.15 399.66,252.85 C400.9,245.56 402.3,233.68 403.5,228.42 C404.71,223.16 405.76,221.55 406.89,221.29 C408.02,221.04 409.08,223.23 410.28,226.89 C411.49,230.56 412.88,238.22 414.12,243.29 C415.37,248.36 416.76,254.29 417.74,257.29 C418.72,260.29 418.98,262.21 420,261.29 C421.02,260.37 422.52,255.1 423.84,251.79 C425.16,248.47 426.67,243.57 427.91,241.38 C429.15,239.19 430.13,238.55 431.3,238.66 C432.47,238.78 433.79,239.77 434.92,242.06 C436.05,244.35 436.61,247.65 438.08,252.4 C439.55,257.15 442.22,267.42 443.73,270.58 C445.24,273.74 445.43,272.06 447.12,271.39 C448.81,270.71 451.83,266.67 453.9,266.54 C455.97,266.41 457.97,269.7 459.55,270.58 C461.13,271.46 461.7,272.26 463.39,271.79 C465.09,271.32 467.54,268.9 469.72,267.75 C471.9,266.61 474.24,265.46 476.5,264.92 C478.76,264.39 481.02,264.25 483.28,264.52 C485.54,264.79 487.8,265.8 490.06,266.54 C492.32,267.28 494.58,268.36 496.84,268.96 C499.1,269.57 501.36,269.91 503.62,270.18 C505.88,270.45 509.27,270.51 510.4,270.58" stroke="#3db33d" stroke-width="1.25"/>
<path d="M374.8,270.98 C375.25,269.77 376.5,265.6 377.51,263.71 C378.53,261.83 379.58,258.26 380.9,259.67 C382.22,261.09 384.1,271.59 385.42,272.2 C386.74,272.8 387.64,266.27 388.81,263.31 C389.98,260.35 391.22,252.94 392.43,254.42 C393.63,255.9 394.84,272.61 396.04,272.2 C397.25,271.78 398.42,259.58 399.66,251.93 C400.9,244.29 402.3,231.84 403.5,226.33 C404.71,220.82 405.76,219.14 406.89,218.87 C408.02,218.59 409.08,220.88 410.28,224.69 C411.49,228.51 412.88,236.48 414.12,241.75 C415.37,247.03 416.76,253.2 417.74,256.32 C418.72,259.44 418.98,261.34 420,260.48 C421.02,259.62 422.52,254.41 423.84,251.15 C425.16,247.89 426.67,243.07 427.91,240.93 C429.15,238.78 430.13,238.13 431.3,238.26 C432.47,238.39 433.79,239.34 434.92,241.69 C436.05,244.05 436.61,247.59 438.08,252.4 C439.55,257.21 442.22,267.42 443.73,270.58 C445.24,273.74 445.43,271.93 447.12,271.39 C448.81,270.85 451.83,267.42 453.9,267.35 C455.97,267.28 457.97,270.24 459.55,270.98 C461.13,271.72 461.7,272.2 463.39,271.79 C465.09,271.39 467.54,269.5 469.72,268.56 C471.9,267.62 474.24,266.61 476.5,266.14 C478.76,265.66 481.02,265.53 483.28,265.73 C485.54,265.93 487.8,266.74 490.06,267.35 C492.32,267.95 494.58,268.83 496.84,269.37 C499.1,269.91 501.36,270.31 503.62,270.58 C505.88,270.85 509.27,270.92 510.4,270.98" stroke="#1a1aff" stroke-width="1.25"/>
<path d="M374.8,270.98 C375.25,269.77 376.5,265.6 377.51,263.71 C378.53,261.83 379.58,258.26 380.9,259.67 C382.22,261.09 384.1,271.59 385.42,272.2 C386.74,272.8 387.64,266.27 388.81,263.31 C389.98,260.35 391.22,252.94 392.43,254.42 C393.63,255.9 394.84,272.69 396.04,272.2 C397.25,271.7 398.42,259.29 399.66,251.47 C400.9,243.65 402.3,230.93 403.5,225.29 C404.71,219.66 405.76,217.95 406.89,217.66 C408.02,217.36 409.08,219.69 410.28,223.54 C411.49,227.39 412.88,235.44 414.12,240.76 C415.37,246.09 416.76,252.32 417.74,255.47 C418.72,258.62 418.98,260.53 420,259.67 C421.02,258.82 422.52,253.6 423.84,250.34 C425.16,247.08 426.67,242.27 427.91,240.12 C429.15,237.97 430.13,237.31 431.3,237.45 C432.47,237.59 433.79,238.48 434.92,240.97 C436.05,243.46 436.61,247.46 438.08,252.4 C439.55,257.34 442.22,267.42 443.73,270.58 C445.24,273.74 445.43,272.06 447.12,271.39 C448.81,270.71 451.83,266.67 453.9,266.54 C455.97,266.41 457.97,269.7 459.55,270.58 C461.13,271.46 461.7,272.26 463.39,271.79 C465.09,271.32 467.54,268.9 469.72,267.75 C471.9,266.61 474.24,265.46 476.5,264.92 C478.76,264.39 481.02,264.25 483.28,264.52 C485.54,264.79 487.8,265.8 490.06,266.54 C492.32,267.28 494.58,268.36 496.84,268.96 C499.1,269.57 501.36,269.91 503.62,270.18 C505.88,270.45 509.27,270.51 510.4,270.58" stroke="#ff2bff" stroke-width="1.25"/>
<path d="M374.8,270.98 C375.25,269.77 376.5,265.6 377.51,263.71 C378.53,261.83 379.58,258.26 380.9,259.67 C382.22,261.09 384.1,271.59 385.42,272.2 C386.74,272.8 387.64,266.27 388.81,263.31 C389.98,260.35 391.22,252.94 392.43,254.42 C393.63,255.9 394.84,272.71 396.04,272.2 C397.25,271.68 398.42,259.19 399.66,251.32 C400.9,243.44 402.3,230.62 403.5,224.94 C404.71,219.27 405.76,217.55 406.89,217.25 C408.02,216.95 409.08,219.28 410.28,223.13 C411.49,226.99 412.88,235.04 414.12,240.36 C415.37,245.68 416.76,251.92 417.74,255.07 C418.72,258.22 418.98,260.12 420,259.27 C421.02,258.41 422.52,253.19 423.84,249.94 C425.16,246.68 426.67,241.86 427.91,239.71 C429.15,237.57 430.13,236.9 431.3,237.05 C432.47,237.2 433.79,238.04 434.92,240.6 C436.05,243.16 436.61,247.4 438.08,252.4 C439.55,257.4 442.22,267.42 443.73,270.58 C445.24,273.74 445.43,271.93 447.12,271.39 C448.81,270.85 451.83,267.42 453.9,267.35 C455.97,267.28 457.97,270.24 459.55,270.98 C461.13,271.72 461.7,272.2 463.39,271.79 C465.09,271.39 467.54,269.5 469.72,268.56 C471.9,267.62 474.24,266.61 476.5,266.14 C478.76,265.66 481.02,265.53 483.28,265.73 C485.54,265.93 487.8,266.74 490.06,267.35 C492.32,267.95 494.58,268.83 496.84,269.37 C499.1,269.91 501.36,270.31 503.62,270.58 C505.88,270.85 509.27,270.92 510.4,270.98" stroke="#8a1aff" stroke-width="1.25"/>
</g>
<text x="380.8" y="170.8" font-size="8.4" fill="#1a1a1a" stroke="#1a1a1a" stroke-width="0.2">Mn FT Ru<tspan font-size="5.8" dy="2.3">(SA)</tspan><tspan dy="-2.3">-NiOMS</tspan></text>
<rect x="400.8" y="206.7" width="17" height="5.9" fill="#000" stroke="none" stroke-width="1" />
<rect x="399.6" y="205.5" width="17" height="5.9" fill="#fff" stroke="#333" stroke-width="0.5" />
<text x="408.1" y="209.9" font-size="5.4" text-anchor="middle" fill="#222" stroke="#222" stroke-width="0.08">Mn-O</text>
<rect x="424.1" y="206.7" width="20.1" height="5.9" fill="#000" stroke="none" stroke-width="1" />
<rect x="422.9" y="205.5" width="20.1" height="5.9" fill="#fff" stroke="#333" stroke-width="0.5" />
<text x="432.95" y="209.9" font-size="5.4" text-anchor="middle" fill="#222" stroke="#222" stroke-width="0.08">Mn-Mn</text>
<rect x="463.2" y="166.9" width="42.2" height="54.1" fill="#000" stroke="none" stroke-width="1" />
<rect x="461.6" y="165.3" width="42.2" height="54.1" fill="#fff" stroke="#333" stroke-width="0.6" />
<line x1="464.3" y1="169.6" x2="476.3" y2="169.6" stroke="#111111" stroke-width="1.3" />
<text x="477.8" y="171.62" font-size="5.6" fill="#222"  stroke="#222" stroke-width="0.07">Air</text>
<line x1="464.3" y1="176.24" x2="476.3" y2="176.24" stroke="#ff1010" stroke-width="1.3" />
<text x="477.8" y="178.26" font-size="5.6" fill="#222"  stroke="#222" stroke-width="0.07">OCV</text>
<line x1="464.3" y1="182.88" x2="476.3" y2="182.88" stroke="#ff8c1a" stroke-width="1.3" />
<text x="477.8" y="184.9" font-size="5.6" fill="#222"  stroke="#222" stroke-width="0.07">0.8 V</text>
<line x1="464.3" y1="189.52" x2="476.3" y2="189.52" stroke="#c2b400" stroke-width="1.3" />
<text x="477.8" y="191.54" font-size="5.6" fill="#222"  stroke="#222" stroke-width="0.07">1.0 V</text>
<line x1="464.3" y1="196.16" x2="476.3" y2="196.16" stroke="#3db33d" stroke-width="1.3" />
<text x="477.8" y="198.18" font-size="5.6" fill="#222"  stroke="#222" stroke-width="0.07">1.2 V</text>
<line x1="464.3" y1="202.8" x2="476.3" y2="202.8" stroke="#1a1aff" stroke-width="1.3" />
<text x="477.8" y="204.82" font-size="5.6" fill="#222"  stroke="#222" stroke-width="0.07">1.4 V</text>
<line x1="464.3" y1="209.44" x2="476.3" y2="209.44" stroke="#ff2bff" stroke-width="1.3" />
<text x="477.8" y="211.46" font-size="5.6" fill="#222"  stroke="#222" stroke-width="0.07">1.6 V</text>
<line x1="464.3" y1="216.08" x2="476.3" y2="216.08" stroke="#8a1aff" stroke-width="1.3" />
<text x="477.8" y="218.1" font-size="5.6" fill="#222"  stroke="#222" stroke-width="0.07">OCV after</text>
<rect x="374.6" y="159.5" width="135.9" height="113.1" fill="none" stroke="#2a2a2a" stroke-width="1" />
<line x1="372" y1="273" x2="374.6" y2="273" stroke="#2a2a2a" stroke-width="0.8" />
<text x="370.8" y="275.6" font-size="8" text-anchor="end" fill="#222"  stroke="#222" stroke-width="0.2">0.0</text>
<line x1="372" y1="256.84" x2="374.6" y2="256.84" stroke="#2a2a2a" stroke-width="0.8" />
<text x="370.8" y="259.44" font-size="8" text-anchor="end" fill="#222"  stroke="#222" stroke-width="0.2">0.4</text>
<line x1="372" y1="240.68" x2="374.6" y2="240.68" stroke="#2a2a2a" stroke-width="0.8" />
<text x="370.8" y="243.28" font-size="8" text-anchor="end" fill="#222"  stroke="#222" stroke-width="0.2">0.8</text>
<line x1="372" y1="224.52" x2="374.6" y2="224.52" stroke="#2a2a2a" stroke-width="0.8" />
<text x="370.8" y="227.12" font-size="8" text-anchor="end" fill="#222"  stroke="#222" stroke-width="0.2">1.2</text>
<line x1="372" y1="208.36" x2="374.6" y2="208.36" stroke="#2a2a2a" stroke-width="0.8" />
<text x="370.8" y="210.96" font-size="8" text-anchor="end" fill="#222"  stroke="#222" stroke-width="0.2">1.6</text>
<line x1="372" y1="192.2" x2="374.6" y2="192.2" stroke="#2a2a2a" stroke-width="0.8" />
<text x="370.8" y="194.8" font-size="8" text-anchor="end" fill="#222"  stroke="#222" stroke-width="0.2">2.0</text>
<line x1="372" y1="176.04" x2="374.6" y2="176.04" stroke="#2a2a2a" stroke-width="0.8" />
<text x="370.8" y="178.64" font-size="8" text-anchor="end" fill="#222"  stroke="#222" stroke-width="0.2">2.4</text>
<line x1="372" y1="159.88" x2="374.6" y2="159.88" stroke="#2a2a2a" stroke-width="0.8" />
<text x="370.8" y="162.48" font-size="8" text-anchor="end" fill="#222"  stroke="#222" stroke-width="0.2">2.8</text>
<line x1="373.1" y1="264.92" x2="374.6" y2="264.92" stroke="#2a2a2a" stroke-width="0.7" />
<line x1="373.1" y1="248.76" x2="374.6" y2="248.76" stroke="#2a2a2a" stroke-width="0.7" />
<line x1="373.1" y1="232.6" x2="374.6" y2="232.6" stroke="#2a2a2a" stroke-width="0.7" />
<line x1="373.1" y1="216.44" x2="374.6" y2="216.44" stroke="#2a2a2a" stroke-width="0.7" />
<line x1="373.1" y1="200.28" x2="374.6" y2="200.28" stroke="#2a2a2a" stroke-width="0.7" />
<line x1="373.1" y1="184.12" x2="374.6" y2="184.12" stroke="#2a2a2a" stroke-width="0.7" />
<line x1="373.1" y1="167.96" x2="374.6" y2="167.96" stroke="#2a2a2a" stroke-width="0.7" />
<line x1="374.8" y1="272.6" x2="374.8" y2="275.2" stroke="#2a2a2a" stroke-width="0.8" />
<text x="374.8" y="282.8" font-size="8.4" text-anchor="middle" fill="#222"  stroke="#222" stroke-width="0.2">0</text>
<line x1="397.4" y1="272.6" x2="397.4" y2="275.2" stroke="#2a2a2a" stroke-width="0.8" />
<text x="397.4" y="282.8" font-size="8.4" text-anchor="middle" fill="#222"  stroke="#222" stroke-width="0.2">1</text>
<line x1="420" y1="272.6" x2="420" y2="275.2" stroke="#2a2a2a" stroke-width="0.8" />
<text x="420" y="282.8" font-size="8.4" text-anchor="middle" fill="#222"  stroke="#222" stroke-width="0.2">2</text>
<line x1="442.6" y1="272.6" x2="442.6" y2="275.2" stroke="#2a2a2a" stroke-width="0.8" />
<text x="442.6" y="282.8" font-size="8.4" text-anchor="middle" fill="#222"  stroke="#222" stroke-width="0.2">3</text>
<line x1="465.2" y1="272.6" x2="465.2" y2="275.2" stroke="#2a2a2a" stroke-width="0.8" />
<text x="465.2" y="282.8" font-size="8.4" text-anchor="middle" fill="#222"  stroke="#222" stroke-width="0.2">4</text>
<line x1="487.8" y1="272.6" x2="487.8" y2="275.2" stroke="#2a2a2a" stroke-width="0.8" />
<text x="487.8" y="282.8" font-size="8.4" text-anchor="middle" fill="#222"  stroke="#222" stroke-width="0.2">5</text>
<line x1="510.4" y1="272.6" x2="510.4" y2="275.2" stroke="#2a2a2a" stroke-width="0.8" />
<text x="510.4" y="282.8" font-size="8.4" text-anchor="middle" fill="#222"  stroke="#222" stroke-width="0.2">6</text>
<line x1="386.1" y1="272.6" x2="386.1" y2="274.1" stroke="#2a2a2a" stroke-width="0.7" />
<line x1="408.7" y1="272.6" x2="408.7" y2="274.1" stroke="#2a2a2a" stroke-width="0.7" />
<line x1="431.3" y1="272.6" x2="431.3" y2="274.1" stroke="#2a2a2a" stroke-width="0.7" />
<line x1="453.9" y1="272.6" x2="453.9" y2="274.1" stroke="#2a2a2a" stroke-width="0.7" />
<line x1="476.5" y1="272.6" x2="476.5" y2="274.1" stroke="#2a2a2a" stroke-width="0.7" />
<line x1="499.1" y1="272.6" x2="499.1" y2="274.1" stroke="#2a2a2a" stroke-width="0.7" />
<text x="442.9" y="294.5" font-size="10" text-anchor="middle" fill="#1a1a1a"  stroke="#1a1a1a" stroke-width="0.2">Interatomic distance (&#197;)</text>
<text transform="translate(355.9,215.9) rotate(-90)" x="0" y="0" font-size="10.5" text-anchor="middle" fill="#1a1a1a" stroke="#1a1a1a" stroke-width="0.2"><tspan font-size="11.5" dy="-1.3">|</tspan><tspan dx="2" dy="1.3" font-style="italic">&#967;</tspan>(R)<tspan dx="2" font-size="11.5" dy="-1.3">|</tspan><tspan dx="2" dy="1.3">(&#197;</tspan><tspan font-size="6.8" dy="-3.6">-3</tspan><tspan dy="3.6">)</tspan></text>
<text x="522" y="8.7" font-size="12" fill="#111"  stroke="#111" stroke-width="0.2">d</text>
<rect x="547.9" y="12.5" width="22.5" height="113.1" fill="#fdefe6" stroke="none" stroke-width="1" />
<rect x="570.4" y="12.5" width="19.9" height="113.1" fill="#edf6f1" stroke="none" stroke-width="1" />
<rect x="590.3" y="12.5" width="66.6" height="113.1" fill="#fdefe6" stroke="none" stroke-width="1" />
<rect x="656.9" y="12.5" width="26.7" height="113.1" fill="#edf6f1" stroke="none" stroke-width="1" />
<path d="M563.5,52.3 L578.55,52.3 L593.6,57 L608.65,45.1 L623.7,53.5 L638.75,60.1 L653.8,54.6 L668.85,47.7" fill="none" stroke="#333" stroke-width="0.75" />
<path d="M563.5,116.6 L578.55,116.6 L593.6,119.5 L608.65,113.8 L623.7,116.6 L638.75,116.6 L653.8,116.6 L668.85,116.6" fill="none" stroke="#333" stroke-width="0.75" />
<path d="M638.5,23.7 L653.8,26.3" fill="none" stroke="#333" stroke-width="0.75" />
<line x1="554.3" y1="20.2" x2="569.6" y2="20.2" stroke="#333" stroke-width="0.75" />
<line x1="554.3" y1="29.4" x2="569.6" y2="29.4" stroke="#333" stroke-width="0.75" />
<circle cx="562.2" cy="20.2" r="2.85" fill="#ffffff" stroke="#ff1010" stroke-width="0.9" />
<path d="M558.9,20.3 A3.3,3.3 0 0 0 565.5,20.3 Z" fill="#ff1010"/>
<path d="M562.2,26 L565.6,29.4 L562.2,32.8 L558.8,29.4 Z" fill="#ffffff" stroke="#6a9fd8" stroke-width="0.9" stroke-linejoin="miter"/>
<path d="M558.4,29.7 L562.2,25.6 L566,29.7 Z" fill="#6a9fd8"/>
<text x="572" y="22.7" font-size="7.1" fill="#222"  stroke="#222" stroke-width="0.2">Mn-O</text>
<text x="572" y="31.9" font-size="7.1" fill="#222"  stroke="#222" stroke-width="0.2">Mn-Mn</text>
<path d="M563.5,48.9 L566.9,52.3 L563.5,55.7 L560.1,52.3 Z" fill="#ffffff" stroke="#6a9fd8" stroke-width="0.9" stroke-linejoin="miter"/>
<path d="M559.7,52.6 L563.5,48.5 L567.3,52.6 Z" fill="#6a9fd8"/>
<path d="M578.55,48.9 L581.95,52.3 L578.55,55.7 L575.15,52.3 Z" fill="#ffffff" stroke="#6a9fd8" stroke-width="0.9" stroke-linejoin="miter"/>
<path d="M574.75,52.6 L578.55,48.5 L582.35,52.6 Z" fill="#6a9fd8"/>
<path d="M593.6,53.6 L597,57 L593.6,60.4 L590.2,57 Z" fill="#ffffff" stroke="#6a9fd8" stroke-width="0.9" stroke-linejoin="miter"/>
<path d="M589.8,57.3 L593.6,53.2 L597.4,57.3 Z" fill="#6a9fd8"/>
<path d="M608.65,41.7 L612.05,45.1 L608.65,48.5 L605.25,45.1 Z" fill="#ffffff" stroke="#6a9fd8" stroke-width="0.9" stroke-linejoin="miter"/>
<path d="M604.85,45.4 L608.65,41.3 L612.45,45.4 Z" fill="#6a9fd8"/>
<path d="M623.7,50.1 L627.1,53.5 L623.7,56.9 L620.3,53.5 Z" fill="#ffffff" stroke="#6a9fd8" stroke-width="0.9" stroke-linejoin="miter"/>
<path d="M619.9,53.8 L623.7,49.7 L627.5,53.8 Z" fill="#6a9fd8"/>
<path d="M638.75,56.7 L642.15,60.1 L638.75,63.5 L635.35,60.1 Z" fill="#ffffff" stroke="#6a9fd8" stroke-width="0.9" stroke-linejoin="miter"/>
<path d="M634.95,60.4 L638.75,56.3 L642.55,60.4 Z" fill="#6a9fd8"/>
<path d="M653.8,51.2 L657.2,54.6 L653.8,58 L650.4,54.6 Z" fill="#ffffff" stroke="#6a9fd8" stroke-width="0.9" stroke-linejoin="miter"/>
<path d="M650,54.9 L653.8,50.8 L657.6,54.9 Z" fill="#6a9fd8"/>
<path d="M668.85,44.3 L672.25,47.7 L668.85,51.1 L665.45,47.7 Z" fill="#ffffff" stroke="#6a9fd8" stroke-width="0.9" stroke-linejoin="miter"/>
<path d="M665.05,48 L668.85,43.9 L672.65,48 Z" fill="#6a9fd8"/>
<path d="M638.5,20.3 L641.9,23.7 L638.5,27.1 L635.1,23.7 Z" fill="#ffffff" stroke="#6a9fd8" stroke-width="0.9" stroke-linejoin="miter"/>
<path d="M634.7,24 L638.5,19.9 L642.3,24 Z" fill="#6a9fd8"/>
<path d="M653.8,22.9 L657.2,26.3 L653.8,29.7 L650.4,26.3 Z" fill="#ffffff" stroke="#6a9fd8" stroke-width="0.9" stroke-linejoin="miter"/>
<path d="M650,26.6 L653.8,22.5 L657.6,26.6 Z" fill="#6a9fd8"/>
<circle cx="563.5" cy="116.6" r="2.85" fill="#ffffff" stroke="#ff1010" stroke-width="0.9" />
<path d="M560.2,116.7 A3.3,3.3 0 0 0 566.8,116.7 Z" fill="#ff1010"/>
<circle cx="578.55" cy="116.6" r="2.85" fill="#ffffff" stroke="#ff1010" stroke-width="0.9" />
<path d="M575.25,116.7 A3.3,3.3 0 0 0 581.85,116.7 Z" fill="#ff1010"/>
<circle cx="593.6" cy="119.5" r="2.85" fill="#ffffff" stroke="#ff1010" stroke-width="0.9" />
<path d="M590.3,119.6 A3.3,3.3 0 0 0 596.9,119.6 Z" fill="#ff1010"/>
<circle cx="608.65" cy="113.8" r="2.85" fill="#ffffff" stroke="#ff1010" stroke-width="0.9" />
<path d="M605.35,113.9 A3.3,3.3 0 0 0 611.95,113.9 Z" fill="#ff1010"/>
<circle cx="623.7" cy="116.6" r="2.85" fill="#ffffff" stroke="#ff1010" stroke-width="0.9" />
<path d="M620.4,116.7 A3.3,3.3 0 0 0 627,116.7 Z" fill="#ff1010"/>
<circle cx="638.75" cy="116.6" r="2.85" fill="#ffffff" stroke="#ff1010" stroke-width="0.9" />
<path d="M635.45,116.7 A3.3,3.3 0 0 0 642.05,116.7 Z" fill="#ff1010"/>
<circle cx="653.8" cy="116.6" r="2.85" fill="#ffffff" stroke="#ff1010" stroke-width="0.9" />
<path d="M650.5,116.7 A3.3,3.3 0 0 0 657.1,116.7 Z" fill="#ff1010"/>
<circle cx="668.85" cy="116.6" r="2.85" fill="#ffffff" stroke="#ff1010" stroke-width="0.9" />
<path d="M665.55,116.7 A3.3,3.3 0 0 0 672.15,116.7 Z" fill="#ff1010"/>
<text x="554.2" y="71.9" font-size="7" fill="#222"  stroke="#222" stroke-width="0.2">Air</text>
<text x="570.8" y="71.9" font-size="7" fill="#222"  stroke="#222" stroke-width="0.2">OCV</text>
<text x="594.2" y="71.9" font-size="7" fill="#222"  stroke="#222" stroke-width="0.2">0.8V</text>
<text x="640.6" y="71.9" font-size="7" fill="#222"  stroke="#222" stroke-width="0.2">1.6V</text>
<text x="665.1" y="71.9" font-size="7" fill="#222"  stroke="#222" stroke-width="0.2">OCV</text>
<text x="666.3" y="80.6" font-size="7" fill="#222"  stroke="#222" stroke-width="0.2">after</text>
<line x1="600.8" y1="74.5" x2="645.6" y2="74.5" stroke="#222" stroke-width="0.8" />
<path d="M599.3,74.5 L602.1,73.35 L602.1,75.65 Z" fill="#222"/>
<path d="M647.1,74.5 L644.3,75.65 L644.3,73.35 Z" fill="#222"/>
<rect x="547.9" y="12.5" width="135.7" height="113.1" fill="none" stroke="#2a2a2a" stroke-width="1" />
<line x1="545.3" y1="111.2" x2="547.9" y2="111.2" stroke="#2a2a2a" stroke-width="0.8" />
<text x="544" y="113.8" font-size="8.6" text-anchor="end" fill="#222"  stroke="#222" stroke-width="0.2">1.5</text>
<line x1="545.3" y1="83" x2="547.9" y2="83" stroke="#2a2a2a" stroke-width="0.8" />
<text x="544" y="85.6" font-size="8.6" text-anchor="end" fill="#222"  stroke="#222" stroke-width="0.2">2.0</text>
<line x1="545.3" y1="54.8" x2="547.9" y2="54.8" stroke="#2a2a2a" stroke-width="0.8" />
<text x="544" y="57.4" font-size="8.6" text-anchor="end" fill="#222"  stroke="#222" stroke-width="0.2">2.5</text>
<line x1="545.3" y1="26.6" x2="547.9" y2="26.6" stroke="#2a2a2a" stroke-width="0.8" />
<text x="544" y="29.2" font-size="8.6" text-anchor="end" fill="#222"  stroke="#222" stroke-width="0.2">3.0</text>
<line x1="546.4" y1="125.3" x2="547.9" y2="125.3" stroke="#2a2a2a" stroke-width="0.7" />
<line x1="546.4" y1="97.1" x2="547.9" y2="97.1" stroke="#2a2a2a" stroke-width="0.7" />
<line x1="546.4" y1="68.9" x2="547.9" y2="68.9" stroke="#2a2a2a" stroke-width="0.7" />
<line x1="546.4" y1="40.7" x2="547.9" y2="40.7" stroke="#2a2a2a" stroke-width="0.7" />
<line x1="546.4" y1="12.5" x2="547.9" y2="12.5" stroke="#2a2a2a" stroke-width="0.7" />
<text x="615.8" y="138.4" font-size="9.75" text-anchor="middle" fill="#1a1a1a"  stroke="#1a1a1a" stroke-width="0.2">Potential</text>
<text transform="translate(528.9,69) rotate(-90)" x="0" y="0" font-size="10.1" text-anchor="middle" fill="#1a1a1a"  stroke="#1a1a1a" stroke-width="0.2">Interatomic distance (&#197;)</text>
<text x="522" y="155.7" font-size="12" fill="#111"  stroke="#111" stroke-width="0.2">h</text>
<rect x="547.9" y="159.5" width="22.5" height="113.1" fill="#fdefe6" stroke="none" stroke-width="1" />
<rect x="570.4" y="159.5" width="19.9" height="113.1" fill="#edf6f1" stroke="none" stroke-width="1" />
<rect x="590.3" y="159.5" width="66.6" height="113.1" fill="#fdefe6" stroke="none" stroke-width="1" />
<rect x="656.9" y="159.5" width="26.7" height="113.1" fill="#edf6f1" stroke="none" stroke-width="1" />
<path d="M563.5,204 L578.55,204 L593.6,200.2 L608.65,202.9 L623.7,201.4 L638.75,201.4 L653.8,201.4 L668.85,201.4" fill="none" stroke="#333" stroke-width="0.75" />
<path d="M563.5,263.1 L578.55,263.1 L593.6,261.4 L608.65,263.1 L623.7,263.1 L638.75,263.1 L653.8,263.1 L668.85,263.1" fill="none" stroke="#333" stroke-width="0.75" />
<line x1="554.3" y1="167.2" x2="569.6" y2="167.2" stroke="#333" stroke-width="0.75" />
<line x1="554.3" y1="176.4" x2="569.6" y2="176.4" stroke="#333" stroke-width="0.75" />
<circle cx="562.2" cy="167.2" r="2.85" fill="#ffffff" stroke="#ff1010" stroke-width="0.9" />
<path d="M558.9,167.3 A3.3,3.3 0 0 0 565.5,167.3 Z" fill="#ff1010"/>
<path d="M562.2,173 L565.6,176.4 L562.2,179.8 L558.8,176.4 Z" fill="#ffffff" stroke="#6a9fd8" stroke-width="0.9" stroke-linejoin="miter"/>
<path d="M558.4,176.7 L562.2,172.6 L566,176.7 Z" fill="#6a9fd8"/>
<text x="572" y="169.7" font-size="7.1" fill="#222"  stroke="#222" stroke-width="0.2">Mn-O</text>
<text x="572" y="178.9" font-size="7.1" fill="#222"  stroke="#222" stroke-width="0.2">Mn-Mn</text>
<path d="M563.5,200.6 L566.9,204 L563.5,207.4 L560.1,204 Z" fill="#ffffff" stroke="#6a9fd8" stroke-width="0.9" stroke-linejoin="miter"/>
<path d="M559.7,204.3 L563.5,200.2 L567.3,204.3 Z" fill="#6a9fd8"/>
<path d="M578.55,200.6 L581.95,204 L578.55,207.4 L575.15,204 Z" fill="#ffffff" stroke="#6a9fd8" stroke-width="0.9" stroke-linejoin="miter"/>
<path d="M574.75,204.3 L578.55,200.2 L582.35,204.3 Z" fill="#6a9fd8"/>
<path d="M593.6,196.8 L597,200.2 L593.6,203.6 L590.2,200.2 Z" fill="#ffffff" stroke="#6a9fd8" stroke-width="0.9" stroke-linejoin="miter"/>
<path d="M589.8,200.5 L593.6,196.4 L597.4,200.5 Z" fill="#6a9fd8"/>
<path d="M608.65,199.5 L612.05,202.9 L608.65,206.3 L605.25,202.9 Z" fill="#ffffff" stroke="#6a9fd8" stroke-width="0.9" stroke-linejoin="miter"/>
<path d="M604.85,203.2 L608.65,199.1 L612.45,203.2 Z" fill="#6a9fd8"/>
<path d="M623.7,198 L627.1,201.4 L623.7,204.8 L620.3,201.4 Z" fill="#ffffff" stroke="#6a9fd8" stroke-width="0.9" stroke-linejoin="miter"/>
<path d="M619.9,201.7 L623.7,197.6 L627.5,201.7 Z" fill="#6a9fd8"/>
<path d="M638.75,198 L642.15,201.4 L638.75,204.8 L635.35,201.4 Z" fill="#ffffff" stroke="#6a9fd8" stroke-width="0.9" stroke-linejoin="miter"/>
<path d="M634.95,201.7 L638.75,197.6 L642.55,201.7 Z" fill="#6a9fd8"/>
<path d="M653.8,198 L657.2,201.4 L653.8,204.8 L650.4,201.4 Z" fill="#ffffff" stroke="#6a9fd8" stroke-width="0.9" stroke-linejoin="miter"/>
<path d="M650,201.7 L653.8,197.6 L657.6,201.7 Z" fill="#6a9fd8"/>
<path d="M668.85,198 L672.25,201.4 L668.85,204.8 L665.45,201.4 Z" fill="#ffffff" stroke="#6a9fd8" stroke-width="0.9" stroke-linejoin="miter"/>
<path d="M665.05,201.7 L668.85,197.6 L672.65,201.7 Z" fill="#6a9fd8"/>
<circle cx="563.5" cy="263.1" r="2.85" fill="#ffffff" stroke="#ff1010" stroke-width="0.9" />
<path d="M560.2,263.2 A3.3,3.3 0 0 0 566.8,263.2 Z" fill="#ff1010"/>
<circle cx="578.55" cy="263.1" r="2.85" fill="#ffffff" stroke="#ff1010" stroke-width="0.9" />
<path d="M575.25,263.2 A3.3,3.3 0 0 0 581.85,263.2 Z" fill="#ff1010"/>
<circle cx="593.6" cy="261.4" r="2.85" fill="#ffffff" stroke="#ff1010" stroke-width="0.9" />
<path d="M590.3,261.5 A3.3,3.3 0 0 0 596.9,261.5 Z" fill="#ff1010"/>
<circle cx="608.65" cy="263.1" r="2.85" fill="#ffffff" stroke="#ff1010" stroke-width="0.9" />
<path d="M605.35,263.2 A3.3,3.3 0 0 0 611.95,263.2 Z" fill="#ff1010"/>
<circle cx="623.7" cy="263.1" r="2.85" fill="#ffffff" stroke="#ff1010" stroke-width="0.9" />
<path d="M620.4,263.2 A3.3,3.3 0 0 0 627,263.2 Z" fill="#ff1010"/>
<circle cx="638.75" cy="263.1" r="2.85" fill="#ffffff" stroke="#ff1010" stroke-width="0.9" />
<path d="M635.45,263.2 A3.3,3.3 0 0 0 642.05,263.2 Z" fill="#ff1010"/>
<circle cx="653.8" cy="263.1" r="2.85" fill="#ffffff" stroke="#ff1010" stroke-width="0.9" />
<path d="M650.5,263.2 A3.3,3.3 0 0 0 657.1,263.2 Z" fill="#ff1010"/>
<circle cx="668.85" cy="263.1" r="2.85" fill="#ffffff" stroke="#ff1010" stroke-width="0.9" />
<path d="M665.55,263.2 A3.3,3.3 0 0 0 672.15,263.2 Z" fill="#ff1010"/>
<text x="554.2" y="218.8" font-size="7" fill="#222"  stroke="#222" stroke-width="0.2">Air</text>
<text x="570.8" y="218.8" font-size="7" fill="#222"  stroke="#222" stroke-width="0.2">OCV</text>
<text x="594.2" y="218.8" font-size="7" fill="#222"  stroke="#222" stroke-width="0.2">0.8V</text>
<text x="640.6" y="218.8" font-size="7" fill="#222"  stroke="#222" stroke-width="0.2">1.6V</text>
<text x="665.1" y="218.8" font-size="7" fill="#222"  stroke="#222" stroke-width="0.2">OCV</text>
<text x="666.3" y="227.3" font-size="7" fill="#222"  stroke="#222" stroke-width="0.2">after</text>
<line x1="600.8" y1="221.5" x2="645.6" y2="221.5" stroke="#222" stroke-width="0.8" />
<path d="M599.3,221.5 L602.1,220.35 L602.1,222.65 Z" fill="#222"/>
<path d="M647.1,221.5 L644.3,222.65 L644.3,220.35 Z" fill="#222"/>
<rect x="547.9" y="159.5" width="135.7" height="113.1" fill="none" stroke="#2a2a2a" stroke-width="1" />
<line x1="545.3" y1="258.2" x2="547.9" y2="258.2" stroke="#2a2a2a" stroke-width="0.8" />
<text x="544" y="260.8" font-size="8.6" text-anchor="end" fill="#222"  stroke="#222" stroke-width="0.2">1.5</text>
<line x1="545.3" y1="230" x2="547.9" y2="230" stroke="#2a2a2a" stroke-width="0.8" />
<text x="544" y="232.6" font-size="8.6" text-anchor="end" fill="#222"  stroke="#222" stroke-width="0.2">2.0</text>
<line x1="545.3" y1="201.8" x2="547.9" y2="201.8" stroke="#2a2a2a" stroke-width="0.8" />
<text x="544" y="204.4" font-size="8.6" text-anchor="end" fill="#222"  stroke="#222" stroke-width="0.2">2.5</text>
<line x1="545.3" y1="173.6" x2="547.9" y2="173.6" stroke="#2a2a2a" stroke-width="0.8" />
<text x="544" y="176.2" font-size="8.6" text-anchor="end" fill="#222"  stroke="#222" stroke-width="0.2">3.0</text>
<line x1="546.4" y1="272.3" x2="547.9" y2="272.3" stroke="#2a2a2a" stroke-width="0.7" />
<line x1="546.4" y1="244.1" x2="547.9" y2="244.1" stroke="#2a2a2a" stroke-width="0.7" />
<line x1="546.4" y1="215.9" x2="547.9" y2="215.9" stroke="#2a2a2a" stroke-width="0.7" />
<line x1="546.4" y1="187.7" x2="547.9" y2="187.7" stroke="#2a2a2a" stroke-width="0.7" />
<line x1="546.4" y1="159.5" x2="547.9" y2="159.5" stroke="#2a2a2a" stroke-width="0.7" />
<text x="615.8" y="285.4" font-size="9.75" text-anchor="middle" fill="#1a1a1a"  stroke="#1a1a1a" stroke-width="0.2">Potential</text>
<text transform="translate(528.9,216) rotate(-90)" x="0" y="0" font-size="10.1" text-anchor="middle" fill="#1a1a1a"  stroke="#1a1a1a" stroke-width="0.2">Interatomic distance (&#197;)</text>
<text x="1.6" y="302.8" font-size="12" fill="#111"  stroke="#111" stroke-width="0.2">i</text>
<line x1="50.6" y1="371.4" x2="43.2" y2="378.2" stroke="#d0507a" stroke-width="0.65" />
<circle cx="46.9" cy="374.8" r="1" fill="#e83838" stroke="none" stroke-width="0.5" />
<line x1="50.6" y1="371.4" x2="57.4" y2="379.2" stroke="#d0507a" stroke-width="0.65" />
<circle cx="54" cy="375.3" r="1" fill="#e83838" stroke="none" stroke-width="0.5" />
<line x1="57.4" y1="379.2" x2="61.1" y2="376.32" stroke="#d0507a" stroke-width="0.6" />
<line x1="65.4" y1="378.2" x2="61.1" y2="376.32" stroke="#d0507a" stroke-width="0.6" />
<circle cx="61.1" cy="376.32" r="0.95" fill="#e83838" stroke="none" stroke-width="0.5" />
<line x1="57.4" y1="379.2" x2="61.7" y2="381.08" stroke="#d0507a" stroke-width="0.6" />
<line x1="65.4" y1="378.2" x2="61.7" y2="381.08" stroke="#d0507a" stroke-width="0.6" />
<circle cx="61.7" cy="381.08" r="0.95" fill="#e83838" stroke="none" stroke-width="0.5" />
<line x1="65.4" y1="378.2" x2="73" y2="371.4" stroke="#d0507a" stroke-width="0.65" />
<circle cx="69.2" cy="374.8" r="1" fill="#e83838" stroke="none" stroke-width="0.5" />
<line x1="73" y1="371.4" x2="80.2" y2="379.2" stroke="#d0507a" stroke-width="0.65" />
<circle cx="76.6" cy="375.3" r="1" fill="#e83838" stroke="none" stroke-width="0.5" />
<line x1="43.2" y1="378.2" x2="49.6" y2="386.4" stroke="#d0507a" stroke-width="0.65" />
<circle cx="46.4" cy="382.3" r="1" fill="#e83838" stroke="none" stroke-width="0.5" />
<line x1="57.4" y1="379.2" x2="49.6" y2="386.4" stroke="#d0507a" stroke-width="0.65" />
<circle cx="53.5" cy="382.8" r="1" fill="#e83838" stroke="none" stroke-width="0.5" />
<line x1="65.4" y1="378.2" x2="72" y2="386.2" stroke="#d0507a" stroke-width="0.65" />
<circle cx="68.7" cy="382.2" r="1" fill="#e83838" stroke="none" stroke-width="0.5" />
<line x1="80.2" y1="379.2" x2="72" y2="386.2" stroke="#d0507a" stroke-width="0.65" />
<circle cx="76.1" cy="382.7" r="1" fill="#e83838" stroke="none" stroke-width="0.5" />
<line x1="49.6" y1="386.4" x2="51.8" y2="390.71" stroke="#d0507a" stroke-width="0.6" />
<line x1="49.2" y1="394.8" x2="51.8" y2="390.71" stroke="#d0507a" stroke-width="0.6" />
<circle cx="51.8" cy="390.71" r="0.95" fill="#e83838" stroke="none" stroke-width="0.5" />
<line x1="49.6" y1="386.4" x2="47" y2="390.49" stroke="#d0507a" stroke-width="0.6" />
<line x1="49.2" y1="394.8" x2="47" y2="390.49" stroke="#d0507a" stroke-width="0.6" />
<circle cx="47" cy="390.49" r="0.95" fill="#e83838" stroke="none" stroke-width="0.5" />
<line x1="72" y1="386.2" x2="74.3" y2="390.56" stroke="#d0507a" stroke-width="0.6" />
<line x1="71.8" y1="394.8" x2="74.3" y2="390.56" stroke="#d0507a" stroke-width="0.6" />
<circle cx="74.3" cy="390.56" r="0.95" fill="#e83838" stroke="none" stroke-width="0.5" />
<line x1="72" y1="386.2" x2="69.5" y2="390.44" stroke="#d0507a" stroke-width="0.6" />
<line x1="71.8" y1="394.8" x2="69.5" y2="390.44" stroke="#d0507a" stroke-width="0.6" />
<circle cx="69.5" cy="390.44" r="0.95" fill="#e83838" stroke="none" stroke-width="0.5" />
<line x1="49.2" y1="394.8" x2="41.6" y2="401.8" stroke="#d0507a" stroke-width="0.65" />
<circle cx="45.4" cy="398.3" r="1" fill="#e83838" stroke="none" stroke-width="0.5" />
<line x1="49.2" y1="394.8" x2="56.2" y2="402.6" stroke="#d0507a" stroke-width="0.65" />
<circle cx="52.7" cy="398.7" r="1" fill="#e83838" stroke="none" stroke-width="0.5" />
<line x1="56.2" y1="402.6" x2="59.96" y2="399.81" stroke="#d0507a" stroke-width="0.6" />
<line x1="64.2" y1="401.8" x2="59.96" y2="399.81" stroke="#d0507a" stroke-width="0.6" />
<circle cx="59.96" cy="399.81" r="0.95" fill="#e83838" stroke="none" stroke-width="0.5" />
<line x1="56.2" y1="402.6" x2="60.44" y2="404.59" stroke="#d0507a" stroke-width="0.6" />
<line x1="64.2" y1="401.8" x2="60.44" y2="404.59" stroke="#d0507a" stroke-width="0.6" />
<circle cx="60.44" cy="404.59" r="0.95" fill="#e83838" stroke="none" stroke-width="0.5" />
<line x1="64.2" y1="401.8" x2="71.8" y2="394.8" stroke="#d0507a" stroke-width="0.65" />
<circle cx="68" cy="398.3" r="1" fill="#e83838" stroke="none" stroke-width="0.5" />
<line x1="71.8" y1="394.8" x2="78.6" y2="403.2" stroke="#d0507a" stroke-width="0.65" />
<circle cx="75.2" cy="399" r="1" fill="#e83838" stroke="none" stroke-width="0.5" />
<line x1="41.6" y1="401.8" x2="48" y2="409.5" stroke="#d0507a" stroke-width="0.65" />
<circle cx="44.8" cy="405.65" r="1" fill="#e83838" stroke="none" stroke-width="0.5" />
<line x1="56.2" y1="402.6" x2="48" y2="409.5" stroke="#d0507a" stroke-width="0.65" />
<circle cx="52.1" cy="406.05" r="1" fill="#e83838" stroke="none" stroke-width="0.5" />
<line x1="64.2" y1="401.8" x2="70.8" y2="409.8" stroke="#d0507a" stroke-width="0.65" />
<circle cx="67.5" cy="405.8" r="1" fill="#e83838" stroke="none" stroke-width="0.5" />
<line x1="78.6" y1="403.2" x2="70.8" y2="409.8" stroke="#d0507a" stroke-width="0.65" />
<circle cx="74.7" cy="406.5" r="1" fill="#e83838" stroke="none" stroke-width="0.5" />
<line x1="43.2" y1="378.2" x2="38.5" y2="375.5" stroke="#d0507a" stroke-width="0.65" />
<circle cx="38.5" cy="375.5" r="1" fill="#e83838" stroke="none" stroke-width="0.5" />
<line x1="43.2" y1="378.2" x2="38.5" y2="382" stroke="#d0507a" stroke-width="0.65" />
<circle cx="38.5" cy="382" r="1" fill="#e83838" stroke="none" stroke-width="0.5" />
<line x1="50.6" y1="371.4" x2="53.5" y2="367" stroke="#d0507a" stroke-width="0.65" />
<circle cx="53.5" cy="367" r="1" fill="#e83838" stroke="none" stroke-width="0.5" />
<line x1="41.6" y1="401.8" x2="36.5" y2="399.5" stroke="#d0507a" stroke-width="0.65" />
<circle cx="36.5" cy="399.5" r="1" fill="#e83838" stroke="none" stroke-width="0.5" />
<line x1="41.6" y1="401.8" x2="37.5" y2="405.5" stroke="#d0507a" stroke-width="0.65" />
<circle cx="37.5" cy="405.5" r="1" fill="#e83838" stroke="none" stroke-width="0.5" />
<line x1="80.2" y1="379.2" x2="84" y2="375.5" stroke="#d0507a" stroke-width="0.65" />
<circle cx="84" cy="375.5" r="1" fill="#e83838" stroke="none" stroke-width="0.5" />
<line x1="80.2" y1="379.2" x2="84" y2="383" stroke="#d0507a" stroke-width="0.65" />
<circle cx="84" cy="383" r="1" fill="#e83838" stroke="none" stroke-width="0.5" />
<line x1="78.6" y1="403.2" x2="83" y2="400.5" stroke="#d0507a" stroke-width="0.65" />
<circle cx="83" cy="400.5" r="1" fill="#e83838" stroke="none" stroke-width="0.5" />
<line x1="78.6" y1="403.2" x2="82.5" y2="407" stroke="#d0507a" stroke-width="0.65" />
<circle cx="82.5" cy="407" r="1" fill="#e83838" stroke="none" stroke-width="0.5" />
<line x1="48" y1="409.5" x2="46" y2="413.5" stroke="#d0507a" stroke-width="0.65" />
<circle cx="46" cy="413.5" r="1" fill="#e83838" stroke="none" stroke-width="0.5" />
<line x1="73" y1="371.4" x2="76.5" y2="367.5" stroke="#d0507a" stroke-width="0.65" />
<circle cx="76.5" cy="367.5" r="1" fill="#e83838" stroke="none" stroke-width="0.5" />
<line x1="70.8" y1="409.8" x2="73" y2="413.5" stroke="#d0507a" stroke-width="0.65" />
<circle cx="73" cy="413.5" r="1" fill="#e83838" stroke="none" stroke-width="0.5" />
<rect x="49.15" y="369.95" width="2.9" height="2.9" fill="#8a20a0" stroke="none" stroke-width="1" />
<circle cx="50.3" cy="371.1" r="0.5" fill="#e8c8f0" stroke="none" stroke-width="0.5" />
<rect x="41.75" y="376.75" width="2.9" height="2.9" fill="#8a20a0" stroke="none" stroke-width="1" />
<circle cx="42.9" cy="377.9" r="0.5" fill="#e8c8f0" stroke="none" stroke-width="0.5" />
<rect x="55.95" y="377.75" width="2.9" height="2.9" fill="#8a20a0" stroke="none" stroke-width="1" />
<circle cx="57.1" cy="378.9" r="0.5" fill="#e8c8f0" stroke="none" stroke-width="0.5" />
<rect x="63.95" y="376.75" width="2.9" height="2.9" fill="#8a20a0" stroke="none" stroke-width="1" />
<circle cx="65.1" cy="377.9" r="0.5" fill="#e8c8f0" stroke="none" stroke-width="0.5" />
<rect x="71.55" y="369.95" width="2.9" height="2.9" fill="#b8b0b0" stroke="none" stroke-width="1" />
<circle cx="72.7" cy="371.1" r="0.5" fill="#f0f0f0" stroke="none" stroke-width="0.5" />
<rect x="78.75" y="377.75" width="2.9" height="2.9" fill="#8a20a0" stroke="none" stroke-width="1" />
<circle cx="79.9" cy="378.9" r="0.5" fill="#e8c8f0" stroke="none" stroke-width="0.5" />
<rect x="48.15" y="384.95" width="2.9" height="2.9" fill="#8a20a0" stroke="none" stroke-width="1" />
<circle cx="49.3" cy="386.1" r="0.5" fill="#e8c8f0" stroke="none" stroke-width="0.5" />
<rect x="70.55" y="384.75" width="2.9" height="2.9" fill="#8a20a0" stroke="none" stroke-width="1" />
<circle cx="71.7" cy="385.9" r="0.5" fill="#e8c8f0" stroke="none" stroke-width="0.5" />
<rect x="47.75" y="393.35" width="2.9" height="2.9" fill="#8a20a0" stroke="none" stroke-width="1" />
<circle cx="48.9" cy="394.5" r="0.5" fill="#e8c8f0" stroke="none" stroke-width="0.5" />
<rect x="70.35" y="393.35" width="2.9" height="2.9" fill="#8a20a0" stroke="none" stroke-width="1" />
<circle cx="71.5" cy="394.5" r="0.5" fill="#e8c8f0" stroke="none" stroke-width="0.5" />
<rect x="40.15" y="400.35" width="2.9" height="2.9" fill="#8a20a0" stroke="none" stroke-width="1" />
<circle cx="41.3" cy="401.5" r="0.5" fill="#e8c8f0" stroke="none" stroke-width="0.5" />
<rect x="54.75" y="401.15" width="2.9" height="2.9" fill="#8a20a0" stroke="none" stroke-width="1" />
<circle cx="55.9" cy="402.3" r="0.5" fill="#e8c8f0" stroke="none" stroke-width="0.5" />
<rect x="62.75" y="400.35" width="2.9" height="2.9" fill="#8a20a0" stroke="none" stroke-width="1" />
<circle cx="63.9" cy="401.5" r="0.5" fill="#e8c8f0" stroke="none" stroke-width="0.5" />
<rect x="46.55" y="408.05" width="2.9" height="2.9" fill="#b8b0b0" stroke="none" stroke-width="1" />
<circle cx="47.7" cy="409.2" r="0.5" fill="#f0f0f0" stroke="none" stroke-width="0.5" />
<rect x="77.15" y="401.75" width="2.9" height="2.9" fill="#8a20a0" stroke="none" stroke-width="1" />
<circle cx="78.3" cy="402.9" r="0.5" fill="#e8c8f0" stroke="none" stroke-width="0.5" />
<rect x="69.35" y="408.35" width="2.9" height="2.9" fill="#8a20a0" stroke="none" stroke-width="1" />
<circle cx="70.5" cy="409.5" r="0.5" fill="#e8c8f0" stroke="none" stroke-width="0.5" />
<line x1="120.6" y1="362.2" x2="124.9" y2="362.9" stroke="#d84a5a" stroke-width="0.7" />
<line x1="125.4" y1="367.4" x2="124.9" y2="362.9" stroke="#d84a5a" stroke-width="0.7" />
<circle cx="124.9" cy="362.9" r="0.9" fill="#e83434" stroke="none" stroke-width="0.5" />
<line x1="120.6" y1="362.2" x2="121.1" y2="366.7" stroke="#d84a5a" stroke-width="0.7" />
<line x1="125.4" y1="367.4" x2="121.1" y2="366.7" stroke="#d84a5a" stroke-width="0.7" />
<circle cx="121.1" cy="366.7" r="0.9" fill="#e83434" stroke="none" stroke-width="0.5" />
<line x1="125.4" y1="367.4" x2="129.8" y2="368.15" stroke="#d84a5a" stroke-width="0.7" />
<line x1="130.4" y1="372.7" x2="129.8" y2="368.15" stroke="#d84a5a" stroke-width="0.7" />
<circle cx="129.8" cy="368.15" r="0.9" fill="#e83434" stroke="none" stroke-width="0.5" />
<line x1="125.4" y1="367.4" x2="126" y2="371.95" stroke="#d84a5a" stroke-width="0.7" />
<line x1="130.4" y1="372.7" x2="126" y2="371.95" stroke="#d84a5a" stroke-width="0.7" />
<circle cx="126" cy="371.95" r="0.9" fill="#e83434" stroke="none" stroke-width="0.5" />
<line x1="130.4" y1="372.7" x2="134.7" y2="373.55" stroke="#d84a5a" stroke-width="0.7" />
<line x1="135.2" y1="378.2" x2="134.7" y2="373.55" stroke="#d84a5a" stroke-width="0.7" />
<circle cx="134.7" cy="373.55" r="0.9" fill="#e83434" stroke="none" stroke-width="0.5" />
<line x1="130.4" y1="372.7" x2="130.9" y2="377.35" stroke="#d84a5a" stroke-width="0.7" />
<line x1="135.2" y1="378.2" x2="130.9" y2="377.35" stroke="#d84a5a" stroke-width="0.7" />
<circle cx="130.9" cy="377.35" r="0.9" fill="#e83434" stroke="none" stroke-width="0.5" />
<line x1="135.2" y1="378.2" x2="139.65" y2="378.8" stroke="#d84a5a" stroke-width="0.7" />
<line x1="140.3" y1="383.2" x2="139.65" y2="378.8" stroke="#d84a5a" stroke-width="0.7" />
<circle cx="139.65" cy="378.8" r="0.9" fill="#e83434" stroke="none" stroke-width="0.5" />
<line x1="135.2" y1="378.2" x2="135.85" y2="382.6" stroke="#d84a5a" stroke-width="0.7" />
<line x1="140.3" y1="383.2" x2="135.85" y2="382.6" stroke="#d84a5a" stroke-width="0.7" />
<circle cx="135.85" cy="382.6" r="0.9" fill="#e83434" stroke="none" stroke-width="0.5" />
<line x1="140.3" y1="383.2" x2="144.75" y2="383.9" stroke="#d84a5a" stroke-width="0.7" />
<line x1="145.4" y1="388.4" x2="144.75" y2="383.9" stroke="#d84a5a" stroke-width="0.7" />
<circle cx="144.75" cy="383.9" r="0.9" fill="#e83434" stroke="none" stroke-width="0.5" />
<line x1="140.3" y1="383.2" x2="140.95" y2="387.7" stroke="#d84a5a" stroke-width="0.7" />
<line x1="145.4" y1="388.4" x2="140.95" y2="387.7" stroke="#d84a5a" stroke-width="0.7" />
<circle cx="140.95" cy="387.7" r="0.9" fill="#e83434" stroke="none" stroke-width="0.5" />
<line x1="120.6" y1="362.2" x2="117.1" y2="362.2" stroke="#d84050" stroke-width="0.6" />
<circle cx="117.1" cy="362.2" r="0.75" fill="#e83838" stroke="none" stroke-width="0.5" />
<line x1="120.6" y1="362.2" x2="120.6" y2="358.7" stroke="#d84050" stroke-width="0.6" />
<circle cx="120.6" cy="358.7" r="0.75" fill="#e83838" stroke="none" stroke-width="0.5" />
<line x1="145.4" y1="388.4" x2="148.9" y2="388.4" stroke="#d84050" stroke-width="0.6" />
<circle cx="148.9" cy="388.4" r="0.75" fill="#e83838" stroke="none" stroke-width="0.5" />
<line x1="145.4" y1="388.4" x2="145.4" y2="391.9" stroke="#d84050" stroke-width="0.6" />
<circle cx="145.4" cy="391.9" r="0.75" fill="#e83838" stroke="none" stroke-width="0.5" />
<circle cx="120.6" cy="362.2" r="1.55" fill="#8a2aa0" stroke="none" stroke-width="0.5" />
<circle cx="125.4" cy="367.4" r="1.55" fill="#8a2aa0" stroke="none" stroke-width="0.5" />
<circle cx="130.4" cy="372.7" r="1.55" fill="#8a2aa0" stroke="none" stroke-width="0.5" />
<circle cx="135.2" cy="378.2" r="1.55" fill="#8a2aa0" stroke="none" stroke-width="0.5" />
<circle cx="140.3" cy="383.2" r="1.55" fill="#8a2aa0" stroke="none" stroke-width="0.5" />
<circle cx="145.4" cy="388.4" r="1.55" fill="#8a2aa0" stroke="none" stroke-width="0.5" />
<line x1="129.8" y1="351.8" x2="134.1" y2="352.5" stroke="#d84a5a" stroke-width="0.7" />
<line x1="134.6" y1="357" x2="134.1" y2="352.5" stroke="#d84a5a" stroke-width="0.7" />
<circle cx="134.1" cy="352.5" r="0.9" fill="#e83434" stroke="none" stroke-width="0.5" />
<line x1="129.8" y1="351.8" x2="130.3" y2="356.3" stroke="#d84a5a" stroke-width="0.7" />
<line x1="134.6" y1="357" x2="130.3" y2="356.3" stroke="#d84a5a" stroke-width="0.7" />
<circle cx="130.3" cy="356.3" r="0.9" fill="#e83434" stroke="none" stroke-width="0.5" />
<line x1="134.6" y1="357" x2="139.1" y2="357.7" stroke="#d84a5a" stroke-width="0.7" />
<line x1="139.8" y1="362.2" x2="139.1" y2="357.7" stroke="#d84a5a" stroke-width="0.7" />
<circle cx="139.1" cy="357.7" r="0.9" fill="#e83434" stroke="none" stroke-width="0.5" />
<line x1="134.6" y1="357" x2="135.3" y2="361.5" stroke="#d84a5a" stroke-width="0.7" />
<line x1="139.8" y1="362.2" x2="135.3" y2="361.5" stroke="#d84a5a" stroke-width="0.7" />
<circle cx="135.3" cy="361.5" r="0.9" fill="#e83434" stroke="none" stroke-width="0.5" />
<line x1="139.8" y1="362.2" x2="144.2" y2="363" stroke="#d84a5a" stroke-width="0.7" />
<line x1="144.8" y1="367.6" x2="144.2" y2="363" stroke="#d84a5a" stroke-width="0.7" />
<circle cx="144.2" cy="363" r="0.9" fill="#e83434" stroke="none" stroke-width="0.5" />
<line x1="139.8" y1="362.2" x2="140.4" y2="366.8" stroke="#d84a5a" stroke-width="0.7" />
<line x1="144.8" y1="367.6" x2="140.4" y2="366.8" stroke="#d84a5a" stroke-width="0.7" />
<circle cx="140.4" cy="366.8" r="0.9" fill="#e83434" stroke="none" stroke-width="0.5" />
<line x1="144.8" y1="367.6" x2="149.25" y2="368.25" stroke="#d84a5a" stroke-width="0.7" />
<line x1="149.9" y1="372.7" x2="149.25" y2="368.25" stroke="#d84a5a" stroke-width="0.7" />
<circle cx="149.25" cy="368.25" r="0.9" fill="#e83434" stroke="none" stroke-width="0.5" />
<line x1="144.8" y1="367.6" x2="145.45" y2="372.05" stroke="#d84a5a" stroke-width="0.7" />
<line x1="149.9" y1="372.7" x2="145.45" y2="372.05" stroke="#d84a5a" stroke-width="0.7" />
<circle cx="145.45" cy="372.05" r="0.9" fill="#e83434" stroke="none" stroke-width="0.5" />
<line x1="149.9" y1="372.7" x2="154.35" y2="373.55" stroke="#d84a5a" stroke-width="0.7" />
<line x1="155" y1="378.2" x2="154.35" y2="373.55" stroke="#d84a5a" stroke-width="0.7" />
<circle cx="154.35" cy="373.55" r="0.9" fill="#e83434" stroke="none" stroke-width="0.5" />
<line x1="149.9" y1="372.7" x2="150.55" y2="377.35" stroke="#d84a5a" stroke-width="0.7" />
<line x1="155" y1="378.2" x2="150.55" y2="377.35" stroke="#d84a5a" stroke-width="0.7" />
<circle cx="150.55" cy="377.35" r="0.9" fill="#e83434" stroke="none" stroke-width="0.5" />
<line x1="129.8" y1="351.8" x2="126.3" y2="351.8" stroke="#d84050" stroke-width="0.6" />
<circle cx="126.3" cy="351.8" r="0.75" fill="#e83838" stroke="none" stroke-width="0.5" />
<line x1="129.8" y1="351.8" x2="129.8" y2="348.3" stroke="#d84050" stroke-width="0.6" />
<circle cx="129.8" cy="348.3" r="0.75" fill="#e83838" stroke="none" stroke-width="0.5" />
<line x1="155" y1="378.2" x2="158.5" y2="378.2" stroke="#d84050" stroke-width="0.6" />
<circle cx="158.5" cy="378.2" r="0.75" fill="#e83838" stroke="none" stroke-width="0.5" />
<line x1="155" y1="378.2" x2="155" y2="381.7" stroke="#d84050" stroke-width="0.6" />
<circle cx="155" cy="381.7" r="0.75" fill="#e83838" stroke="none" stroke-width="0.5" />
<circle cx="129.8" cy="351.8" r="1.55" fill="#8a2aa0" stroke="none" stroke-width="0.5" />
<circle cx="134.6" cy="357" r="1.55" fill="#8a2aa0" stroke="none" stroke-width="0.5" />
<circle cx="139.8" cy="362.2" r="1.55" fill="#8a2aa0" stroke="none" stroke-width="0.5" />
<circle cx="144.8" cy="367.6" r="1.55" fill="#8a2aa0" stroke="none" stroke-width="0.5" />
<circle cx="149.9" cy="372.7" r="1.55" fill="#8a2aa0" stroke="none" stroke-width="0.5" />
<circle cx="155" cy="378.2" r="1.55" fill="#8a2aa0" stroke="none" stroke-width="0.5" />
<line x1="149" y1="352" x2="153.75" y2="352.8" stroke="#d84a5a" stroke-width="0.7" />
<line x1="154.7" y1="357.4" x2="153.75" y2="352.8" stroke="#d84a5a" stroke-width="0.7" />
<circle cx="153.75" cy="352.8" r="0.9" fill="#e83434" stroke="none" stroke-width="0.5" />
<line x1="149" y1="352" x2="149.95" y2="356.6" stroke="#d84a5a" stroke-width="0.7" />
<line x1="154.7" y1="357.4" x2="149.95" y2="356.6" stroke="#d84a5a" stroke-width="0.7" />
<circle cx="149.95" cy="356.6" r="0.9" fill="#e83434" stroke="none" stroke-width="0.5" />
<line x1="149" y1="352" x2="145.5" y2="352" stroke="#d84050" stroke-width="0.6" />
<circle cx="145.5" cy="352" r="0.75" fill="#e83838" stroke="none" stroke-width="0.5" />
<line x1="149" y1="352" x2="149" y2="348.5" stroke="#d84050" stroke-width="0.6" />
<circle cx="149" cy="348.5" r="0.75" fill="#e83838" stroke="none" stroke-width="0.5" />
<line x1="154.7" y1="357.4" x2="158.2" y2="357.4" stroke="#d84050" stroke-width="0.6" />
<circle cx="158.2" cy="357.4" r="0.75" fill="#e83838" stroke="none" stroke-width="0.5" />
<line x1="154.7" y1="357.4" x2="154.7" y2="360.9" stroke="#d84050" stroke-width="0.6" />
<circle cx="154.7" cy="360.9" r="0.75" fill="#e83838" stroke="none" stroke-width="0.5" />
<circle cx="149" cy="352" r="1.55" fill="#b0a8a8" stroke="none" stroke-width="0.5" />
<circle cx="154.7" cy="357.4" r="1.55" fill="#8a2aa0" stroke="none" stroke-width="0.5" />
<line x1="120.6" y1="383" x2="125.3" y2="383.6" stroke="#d84a5a" stroke-width="0.7" />
<line x1="126.2" y1="388" x2="125.3" y2="383.6" stroke="#d84a5a" stroke-width="0.7" />
<circle cx="125.3" cy="383.6" r="0.9" fill="#e83434" stroke="none" stroke-width="0.5" />
<line x1="120.6" y1="383" x2="121.5" y2="387.4" stroke="#d84a5a" stroke-width="0.7" />
<line x1="126.2" y1="388" x2="121.5" y2="387.4" stroke="#d84a5a" stroke-width="0.7" />
<circle cx="121.5" cy="387.4" r="0.9" fill="#e83434" stroke="none" stroke-width="0.5" />
<line x1="120.6" y1="383" x2="117.1" y2="383" stroke="#d84050" stroke-width="0.6" />
<circle cx="117.1" cy="383" r="0.75" fill="#e83838" stroke="none" stroke-width="0.5" />
<line x1="120.6" y1="383" x2="120.6" y2="379.5" stroke="#d84050" stroke-width="0.6" />
<circle cx="120.6" cy="379.5" r="0.75" fill="#e83838" stroke="none" stroke-width="0.5" />
<line x1="126.2" y1="388" x2="129.7" y2="388" stroke="#d84050" stroke-width="0.6" />
<circle cx="129.7" cy="388" r="0.75" fill="#e83838" stroke="none" stroke-width="0.5" />
<line x1="126.2" y1="388" x2="126.2" y2="391.5" stroke="#d84050" stroke-width="0.6" />
<circle cx="126.2" cy="391.5" r="0.75" fill="#e83838" stroke="none" stroke-width="0.5" />
<circle cx="120.6" cy="383" r="1.55" fill="#8a2aa0" stroke="none" stroke-width="0.5" />
<circle cx="126.2" cy="388" r="1.55" fill="#b0a8a8" stroke="none" stroke-width="0.5" />
<line x1="28" y1="319.5" x2="28" y2="447.2" stroke="#2a2a2a" stroke-width="1.1" />
<path d="M28,315.2 L30,321.2 L26,321.2 Z" fill="#2a2a2a"/>
<line x1="25.5" y1="437.7" x2="28" y2="437.7" stroke="#2a2a2a" stroke-width="0.8" />
<line x1="25.5" y1="418.86" x2="28" y2="418.86" stroke="#2a2a2a" stroke-width="0.8" />
<line x1="25.5" y1="400.02" x2="28" y2="400.02" stroke="#2a2a2a" stroke-width="0.8" />
<line x1="25.5" y1="381.18" x2="28" y2="381.18" stroke="#2a2a2a" stroke-width="0.8" />
<line x1="25.5" y1="362.34" x2="28" y2="362.34" stroke="#2a2a2a" stroke-width="0.8" />
<line x1="25.5" y1="343.5" x2="28" y2="343.5" stroke="#2a2a2a" stroke-width="0.8" />
<line x1="26.5" y1="428.28" x2="28" y2="428.28" stroke="#2a2a2a" stroke-width="0.7" />
<line x1="26.5" y1="409.44" x2="28" y2="409.44" stroke="#2a2a2a" stroke-width="0.7" />
<line x1="26.5" y1="390.6" x2="28" y2="390.6" stroke="#2a2a2a" stroke-width="0.7" />
<line x1="26.5" y1="371.76" x2="28" y2="371.76" stroke="#2a2a2a" stroke-width="0.7" />
<line x1="26.5" y1="352.92" x2="28" y2="352.92" stroke="#2a2a2a" stroke-width="0.7" />
<line x1="26.5" y1="334.08" x2="28" y2="334.08" stroke="#2a2a2a" stroke-width="0.7" />
<line x1="26.5" y1="447.12" x2="28" y2="447.12" stroke="#2a2a2a" stroke-width="0.7" />
<text x="24.4" y="440.6" font-size="8.2" text-anchor="end" fill="#222"  stroke="#222" stroke-width="0.2">0.0</text>
<text x="24.4" y="421.76" font-size="8.2" text-anchor="end" fill="#222"  stroke="#222" stroke-width="0.2">0.1</text>
<text x="24.4" y="402.92" font-size="8.2" text-anchor="end" fill="#222"  stroke="#222" stroke-width="0.2">0.2</text>
<text x="24.4" y="384.08" font-size="8.2" text-anchor="end" fill="#222"  stroke="#222" stroke-width="0.2">0.3</text>
<text x="24.4" y="365.24" font-size="8.2" text-anchor="end" fill="#222"  stroke="#222" stroke-width="0.2">0.4</text>
<text x="24.4" y="346.4" font-size="8.2" text-anchor="end" fill="#222"  stroke="#222" stroke-width="0.2">0.5</text>
<text transform="translate(8.6,386) rotate(-90)" x="0" y="0" font-size="10.1" text-anchor="middle" fill="#1a1a1a"  stroke="#1a1a1a" stroke-width="0.2">Energy (eV/Mn atom)</text>
<line x1="61.9" y1="437.7" x2="84.5" y2="348.3" stroke="#ff2a2a" stroke-width="0.7" stroke-dasharray="1.2,0.8"/>
<line x1="106.8" y1="348.3" x2="129.1" y2="422.8" stroke="#ff2a2a" stroke-width="0.7" stroke-dasharray="1.2,0.8"/>
<line x1="61.9" y1="437.7" x2="84.5" y2="366.2" stroke="#2a2aff" stroke-width="0.7" stroke-dasharray="2.2,0.6"/>
<line x1="106.8" y1="366.2" x2="129.1" y2="407.4" stroke="#2a2aff" stroke-width="0.7" />
<line x1="39.2" y1="437.7" x2="61.9" y2="437.7" stroke="#ff2a2a" stroke-width="1.8" />
<line x1="84.5" y1="348.3" x2="106.8" y2="348.3" stroke="#ff2a2a" stroke-width="1.8" />
<line x1="129.1" y1="422.8" x2="152.9" y2="422.8" stroke="#ff2a2a" stroke-width="1.8" />
<line x1="39.2" y1="437.7" x2="61.9" y2="437.7" stroke="#2a2aff" stroke-width="1.8" />
<line x1="84.5" y1="366.2" x2="106.8" y2="366.2" stroke="#2a2aff" stroke-width="1.8" />
<line x1="129.1" y1="407.4" x2="152.9" y2="407.4" stroke="#2a2aff" stroke-width="1.8" />
<g fill="none" stroke="#2a2aff" stroke-width="0.9"><circle cx="84.5" cy="366.2" r="3.2"/><line x1="81.3" y1="366.2" x2="87.7" y2="366.2"/><line x1="84.5" y1="363" x2="84.5" y2="369.4"/></g>
<g fill="none" stroke="#2a2aff" stroke-width="0.9"><circle cx="106.8" cy="366.2" r="3.2"/><line x1="103.6" y1="366.2" x2="110" y2="366.2"/><line x1="106.8" y1="363" x2="106.8" y2="369.4"/></g>
<g fill="none" stroke="#2a2aff" stroke-width="0.9"><circle cx="129.1" cy="407.4" r="3.2"/><line x1="125.9" y1="407.4" x2="132.3" y2="407.4"/><line x1="129.1" y1="404.2" x2="129.1" y2="410.6"/></g>
<g fill="none" stroke="#2a2aff" stroke-width="0.9"><circle cx="152.9" cy="407.4" r="3.2"/><line x1="149.7" y1="407.4" x2="156.1" y2="407.4"/><line x1="152.9" y1="404.2" x2="152.9" y2="410.6"/></g>
<g fill="none" stroke="#ff2a2a" stroke-width="0.9"><circle cx="39.2" cy="437.7" r="3.1"/><line x1="37.01" y1="435.51" x2="41.39" y2="439.89"/><line x1="37.01" y1="439.89" x2="41.39" y2="435.51"/></g>
<g fill="none" stroke="#ff2a2a" stroke-width="0.9"><circle cx="61.9" cy="437.7" r="3.1"/><line x1="59.71" y1="435.51" x2="64.09" y2="439.89"/><line x1="59.71" y1="439.89" x2="64.09" y2="435.51"/></g>
<g fill="none" stroke="#ff2a2a" stroke-width="0.9"><circle cx="84.5" cy="348.3" r="3.1"/><line x1="82.31" y1="346.11" x2="86.69" y2="350.49"/><line x1="82.31" y1="350.49" x2="86.69" y2="346.11"/></g>
<g fill="none" stroke="#ff2a2a" stroke-width="0.9"><circle cx="106.8" cy="348.3" r="3.1"/><line x1="104.61" y1="346.11" x2="108.99" y2="350.49"/><line x1="104.61" y1="350.49" x2="108.99" y2="346.11"/></g>
<g fill="none" stroke="#ff2a2a" stroke-width="0.9"><circle cx="129.1" cy="422.8" r="3.1"/><line x1="126.91" y1="420.61" x2="131.29" y2="424.99"/><line x1="126.91" y1="424.99" x2="131.29" y2="420.61"/></g>
<g fill="none" stroke="#ff2a2a" stroke-width="0.9"><circle cx="152.9" cy="422.8" r="3.1"/><line x1="150.71" y1="420.61" x2="155.09" y2="424.99"/><line x1="150.71" y1="424.99" x2="155.09" y2="420.61"/></g>
<text x="48.4" y="434.7" font-size="12.5" fill="#1a1a1a" font-family='"Liberation Serif", serif'  stroke="#1a1a1a" stroke-width="0.2">&#945;</text>
<text x="91.4" y="435.3" font-size="11.6" fill="#1a1a1a"  stroke="#1a1a1a" stroke-width="0.2">TS</text>
<text x="137" y="435.4" font-size="12.5" fill="#1a1a1a" font-family='"Liberation Serif", serif'  stroke="#1a1a1a" stroke-width="0.2">&#948;</text>
<rect x="34" y="316.1" width="74.7" height="23.5" fill="#000" stroke="none" stroke-width="1" />
<rect x="32.4" y="314.5" width="74.7" height="23.5" fill="#fff" stroke="#333" stroke-width="0.6" />
<g fill="none" stroke="#2a2aff" stroke-width="0.9"><circle cx="44.5" cy="320.4" r="3.2"/><line x1="41.3" y1="320.4" x2="47.7" y2="320.4"/><line x1="44.5" y1="317.2" x2="44.5" y2="323.6"/></g>
<g fill="none" stroke="#ff2a2a" stroke-width="0.9"><circle cx="44.7" cy="331.9" r="3.1"/><line x1="42.51" y1="329.71" x2="46.89" y2="334.09"/><line x1="42.51" y1="334.09" x2="46.89" y2="329.71"/></g>
<text x="55.8" y="323.0" font-size="8.0" fill="#1a1a1a" stroke="#1a1a1a" stroke-width="0.2">Ru<tspan font-size="5.2" dy="2.0">(SA)</tspan><tspan dy="-2.0">-OMS</tspan></text>
<text x="55.8" y="334.3" font-size="8.0" fill="#1a1a1a" stroke="#1a1a1a" stroke-width="0.2">Ru<tspan font-size="5.2" dy="2.0">(SA)</tspan><tspan dy="-2.0">-NiOMS</tspan></text>
<text x="173.1" y="302.9" font-size="12" fill="#111"  stroke="#111" stroke-width="0.2">j</text>
<rect x="197.5" y="306.5" width="115" height="150.9" fill="none" stroke="#52aca3" stroke-width="1.15" />
<rect x="321.5" y="306.5" width="240" height="150.9" fill="none" stroke="#ec8441" stroke-width="1.15" />
<rect x="569.5" y="306.5" width="114.9" height="150.9" fill="none" stroke="#52aca3" stroke-width="1.15" />
<rect x="211" y="332.9" width="87.3" height="14.7" fill="#efefef" stroke="none" stroke-width="1" />
<rect x="211" y="347.6" width="87.3" height="9.2" fill="url(#gBar)" stroke="none" stroke-width="1" />
<path d="M223.3,312.9 L229.75,321.1 L223.3,329.3 L216.85,321.1 Z" fill="#abadd4" stroke="#7e80a8" stroke-width="0.55"/>
<path d="M223.3,312.9 L216.85,321.1 L223.3,321.1 Z" fill="#bbbddf" opacity="0.8"/>
<line x1="223.3" y1="321.1" x2="223.3" y2="315.36" stroke="#6a9be0" stroke-width="1.05" />
<line x1="223.3" y1="315.36" x2="223.3" y2="312.9" stroke="#c87a98" stroke-width="0.55" />
<line x1="223.3" y1="321.1" x2="223.3" y2="326.84" stroke="#6a9be0" stroke-width="1.05" />
<line x1="223.3" y1="326.84" x2="223.3" y2="329.3" stroke="#c87a98" stroke-width="0.55" />
<line x1="223.3" y1="321.1" x2="218.79" y2="321.1" stroke="#6a9be0" stroke-width="1.05" />
<line x1="218.79" y1="321.1" x2="216.85" y2="321.1" stroke="#c87a98" stroke-width="0.55" />
<line x1="223.3" y1="321.1" x2="227.81" y2="321.1" stroke="#6a9be0" stroke-width="1.05" />
<line x1="227.81" y1="321.1" x2="229.75" y2="321.1" stroke="#c87a98" stroke-width="0.55" />
<circle cx="223.3" cy="321.1" r="1.9" fill="url(#gB)" stroke="none" stroke-width="0.5" />
<circle cx="223.3" cy="312.2" r="1.55" fill="url(#gR)" stroke="none" stroke-width="0.5" />
<circle cx="223.3" cy="330" r="1.55" fill="url(#gR)" stroke="none" stroke-width="0.5" />
<path d="M236.25,312.9 L242.7,321.1 L236.25,329.3 L229.8,321.1 Z" fill="#abadd4" stroke="#7e80a8" stroke-width="0.55"/>
<path d="M236.25,312.9 L229.8,321.1 L236.25,321.1 Z" fill="#bbbddf" opacity="0.8"/>
<line x1="236.25" y1="321.1" x2="236.25" y2="315.36" stroke="#6a9be0" stroke-width="1.05" />
<line x1="236.25" y1="315.36" x2="236.25" y2="312.9" stroke="#c87a98" stroke-width="0.55" />
<line x1="236.25" y1="321.1" x2="236.25" y2="326.84" stroke="#6a9be0" stroke-width="1.05" />
<line x1="236.25" y1="326.84" x2="236.25" y2="329.3" stroke="#c87a98" stroke-width="0.55" />
<line x1="236.25" y1="321.1" x2="231.74" y2="321.1" stroke="#6a9be0" stroke-width="1.05" />
<line x1="231.74" y1="321.1" x2="229.8" y2="321.1" stroke="#c87a98" stroke-width="0.55" />
<line x1="236.25" y1="321.1" x2="240.76" y2="321.1" stroke="#6a9be0" stroke-width="1.05" />
<line x1="240.76" y1="321.1" x2="242.7" y2="321.1" stroke="#c87a98" stroke-width="0.55" />
<circle cx="236.25" cy="321.1" r="1.9" fill="url(#gB)" stroke="none" stroke-width="0.5" />
<circle cx="236.25" cy="312.2" r="1.55" fill="url(#gR)" stroke="none" stroke-width="0.5" />
<circle cx="236.25" cy="330" r="1.55" fill="url(#gR)" stroke="none" stroke-width="0.5" />
<path d="M249.2,312.9 L255.65,321.1 L249.2,329.3 L242.75,321.1 Z" fill="#abadd4" stroke="#7e80a8" stroke-width="0.55"/>
<path d="M249.2,312.9 L242.75,321.1 L249.2,321.1 Z" fill="#bbbddf" opacity="0.8"/>
<line x1="249.2" y1="321.1" x2="249.2" y2="315.36" stroke="#6a9be0" stroke-width="1.05" />
<line x1="249.2" y1="315.36" x2="249.2" y2="312.9" stroke="#c87a98" stroke-width="0.55" />
<line x1="249.2" y1="321.1" x2="249.2" y2="326.84" stroke="#6a9be0" stroke-width="1.05" />
<line x1="249.2" y1="326.84" x2="249.2" y2="329.3" stroke="#c87a98" stroke-width="0.55" />
<line x1="249.2" y1="321.1" x2="244.69" y2="321.1" stroke="#6a9be0" stroke-width="1.05" />
<line x1="244.69" y1="321.1" x2="242.75" y2="321.1" stroke="#c87a98" stroke-width="0.55" />
<line x1="249.2" y1="321.1" x2="253.72" y2="321.1" stroke="#6a9be0" stroke-width="1.05" />
<line x1="253.72" y1="321.1" x2="255.65" y2="321.1" stroke="#c87a98" stroke-width="0.55" />
<circle cx="249.2" cy="321.1" r="1.9" fill="url(#gB)" stroke="none" stroke-width="0.5" />
<circle cx="249.2" cy="312.2" r="1.55" fill="url(#gR)" stroke="none" stroke-width="0.5" />
<circle cx="249.2" cy="330" r="1.55" fill="url(#gR)" stroke="none" stroke-width="0.5" />
<path d="M262.15,312.9 L268.6,321.1 L262.15,329.3 L255.7,321.1 Z" fill="#abadd4" stroke="#7e80a8" stroke-width="0.55"/>
<path d="M262.15,312.9 L255.7,321.1 L262.15,321.1 Z" fill="#bbbddf" opacity="0.8"/>
<line x1="262.15" y1="321.1" x2="262.15" y2="315.36" stroke="#6a9be0" stroke-width="1.05" />
<line x1="262.15" y1="315.36" x2="262.15" y2="312.9" stroke="#c87a98" stroke-width="0.55" />
<line x1="262.15" y1="321.1" x2="262.15" y2="326.84" stroke="#6a9be0" stroke-width="1.05" />
<line x1="262.15" y1="326.84" x2="262.15" y2="329.3" stroke="#c87a98" stroke-width="0.55" />
<line x1="262.15" y1="321.1" x2="257.63" y2="321.1" stroke="#6a9be0" stroke-width="1.05" />
<line x1="257.63" y1="321.1" x2="255.7" y2="321.1" stroke="#c87a98" stroke-width="0.55" />
<line x1="262.15" y1="321.1" x2="266.66" y2="321.1" stroke="#6a9be0" stroke-width="1.05" />
<line x1="266.66" y1="321.1" x2="268.6" y2="321.1" stroke="#c87a98" stroke-width="0.55" />
<circle cx="262.15" cy="321.1" r="1.9" fill="url(#gB)" stroke="none" stroke-width="0.5" />
<circle cx="262.15" cy="312.2" r="1.55" fill="url(#gR)" stroke="none" stroke-width="0.5" />
<circle cx="262.15" cy="330" r="1.55" fill="url(#gR)" stroke="none" stroke-width="0.5" />
<path d="M275.1,312.9 L281.55,321.1 L275.1,329.3 L268.65,321.1 Z" fill="#abadd4" stroke="#7e80a8" stroke-width="0.55"/>
<path d="M275.1,312.9 L268.65,321.1 L275.1,321.1 Z" fill="#bbbddf" opacity="0.8"/>
<line x1="275.1" y1="321.1" x2="275.1" y2="315.36" stroke="#6a9be0" stroke-width="1.05" />
<line x1="275.1" y1="315.36" x2="275.1" y2="312.9" stroke="#c87a98" stroke-width="0.55" />
<line x1="275.1" y1="321.1" x2="275.1" y2="326.84" stroke="#6a9be0" stroke-width="1.05" />
<line x1="275.1" y1="326.84" x2="275.1" y2="329.3" stroke="#c87a98" stroke-width="0.55" />
<line x1="275.1" y1="321.1" x2="270.59" y2="321.1" stroke="#6a9be0" stroke-width="1.05" />
<line x1="270.59" y1="321.1" x2="268.65" y2="321.1" stroke="#c87a98" stroke-width="0.55" />
<line x1="275.1" y1="321.1" x2="279.62" y2="321.1" stroke="#6a9be0" stroke-width="1.05" />
<line x1="279.62" y1="321.1" x2="281.55" y2="321.1" stroke="#c87a98" stroke-width="0.55" />
<circle cx="275.1" cy="321.1" r="1.9" fill="url(#gB)" stroke="none" stroke-width="0.5" />
<circle cx="275.1" cy="312.2" r="1.55" fill="url(#gR)" stroke="none" stroke-width="0.5" />
<circle cx="275.1" cy="330" r="1.55" fill="url(#gR)" stroke="none" stroke-width="0.5" />
<path d="M288.05,312.9 L294.5,321.1 L288.05,329.3 L281.6,321.1 Z" fill="#abadd4" stroke="#7e80a8" stroke-width="0.55"/>
<path d="M288.05,312.9 L281.6,321.1 L288.05,321.1 Z" fill="#bbbddf" opacity="0.8"/>
<line x1="288.05" y1="321.1" x2="288.05" y2="315.36" stroke="#6a9be0" stroke-width="1.05" />
<line x1="288.05" y1="315.36" x2="288.05" y2="312.9" stroke="#c87a98" stroke-width="0.55" />
<line x1="288.05" y1="321.1" x2="288.05" y2="326.84" stroke="#6a9be0" stroke-width="1.05" />
<line x1="288.05" y1="326.84" x2="288.05" y2="329.3" stroke="#c87a98" stroke-width="0.55" />
<line x1="288.05" y1="321.1" x2="283.54" y2="321.1" stroke="#6a9be0" stroke-width="1.05" />
<line x1="283.54" y1="321.1" x2="281.6" y2="321.1" stroke="#c87a98" stroke-width="0.55" />
<line x1="288.05" y1="321.1" x2="292.56" y2="321.1" stroke="#6a9be0" stroke-width="1.05" />
<line x1="292.56" y1="321.1" x2="294.5" y2="321.1" stroke="#c87a98" stroke-width="0.55" />
<circle cx="288.05" cy="321.1" r="1.9" fill="url(#gB)" stroke="none" stroke-width="0.5" />
<circle cx="288.05" cy="312.2" r="1.55" fill="url(#gR)" stroke="none" stroke-width="0.5" />
<circle cx="288.05" cy="330" r="1.55" fill="url(#gR)" stroke="none" stroke-width="0.5" />
<line x1="216.83" y1="319.6" x2="216.83" y2="322.9" stroke="#a03040" stroke-width="0.8" />
<circle cx="216.83" cy="319.6" r="1.5" fill="url(#gR)" stroke="none" stroke-width="0.5" />
<circle cx="216.83" cy="322.9" r="1.5" fill="url(#gR)" stroke="none" stroke-width="0.5" />
<line x1="229.78" y1="319.6" x2="229.78" y2="322.9" stroke="#a03040" stroke-width="0.8" />
<circle cx="229.78" cy="319.6" r="1.5" fill="url(#gR)" stroke="none" stroke-width="0.5" />
<circle cx="229.78" cy="322.9" r="1.5" fill="url(#gR)" stroke="none" stroke-width="0.5" />
<line x1="242.73" y1="319.6" x2="242.73" y2="322.9" stroke="#a03040" stroke-width="0.8" />
<circle cx="242.73" cy="319.6" r="1.5" fill="url(#gR)" stroke="none" stroke-width="0.5" />
<circle cx="242.73" cy="322.9" r="1.5" fill="url(#gR)" stroke="none" stroke-width="0.5" />
<line x1="255.68" y1="319.6" x2="255.68" y2="322.9" stroke="#a03040" stroke-width="0.8" />
<circle cx="255.68" cy="319.6" r="1.5" fill="url(#gR)" stroke="none" stroke-width="0.5" />
<circle cx="255.68" cy="322.9" r="1.5" fill="url(#gR)" stroke="none" stroke-width="0.5" />
<line x1="268.62" y1="319.6" x2="268.62" y2="322.9" stroke="#a03040" stroke-width="0.8" />
<circle cx="268.62" cy="319.6" r="1.5" fill="url(#gR)" stroke="none" stroke-width="0.5" />
<circle cx="268.62" cy="322.9" r="1.5" fill="url(#gR)" stroke="none" stroke-width="0.5" />
<line x1="281.58" y1="319.6" x2="281.58" y2="322.9" stroke="#a03040" stroke-width="0.8" />
<circle cx="281.58" cy="319.6" r="1.5" fill="url(#gR)" stroke="none" stroke-width="0.5" />
<circle cx="281.58" cy="322.9" r="1.5" fill="url(#gR)" stroke="none" stroke-width="0.5" />
<line x1="294.52" y1="319.6" x2="294.52" y2="322.9" stroke="#a03040" stroke-width="0.8" />
<circle cx="294.52" cy="319.6" r="1.5" fill="url(#gR)" stroke="none" stroke-width="0.5" />
<circle cx="294.52" cy="322.9" r="1.5" fill="url(#gR)" stroke="none" stroke-width="0.5" />
<text transform="translate(222.9,342.8) skewX(-12) scale(0.74,1)" font-size="7.0" text-anchor="middle" font-weight="bold" font-family='"Liberation Serif", serif' fill="#111" stroke="#111" stroke-width="0.35">IV</text>
<text transform="translate(235.85,342.8) skewX(-12) scale(0.76,1)" font-size="7.0" text-anchor="middle" font-weight="bold" font-family='"Liberation Serif", serif' fill="#111" stroke="#111" stroke-width="0.35">V</text>
<text transform="translate(248.8,342.8) skewX(-12) scale(0.74,1)" font-size="7.0" text-anchor="middle" font-weight="bold" font-family='"Liberation Serif", serif' fill="#111" stroke="#111" stroke-width="0.35">IV</text>
<text transform="translate(261.75,342.8) skewX(-12) scale(0.74,1)" font-size="7.0" text-anchor="middle" font-weight="bold" font-family='"Liberation Serif", serif' fill="#111" stroke="#111" stroke-width="0.35">IV</text>
<text transform="translate(274.7,342.8) skewX(-12) scale(0.74,1)" font-size="7.0" text-anchor="middle" font-weight="bold" font-family='"Liberation Serif", serif' fill="#111" stroke="#111" stroke-width="0.35">IV</text>
<text transform="translate(287.65,342.8) skewX(-12) scale(0.74,1)" font-size="7.0" text-anchor="middle" font-weight="bold" font-family='"Liberation Serif", serif' fill="#111" stroke="#111" stroke-width="0.35">IV</text>
<text x="254.25" y="355.8" font-size="9" text-anchor="middle" fill="#4a73c9"  stroke="#4a73c9" stroke-width="0.2">Over-oxidation</text>
<rect x="211" y="412.9" width="87.3" height="14.7" fill="#efefef" stroke="none" stroke-width="1" />
<rect x="211" y="427.6" width="87.3" height="8.8" fill="url(#gBar)" stroke="none" stroke-width="1" />
<path d="M223.3,392.8 L229.75,401 L223.3,409.2 L216.85,401 Z" fill="#abadd4" stroke="#7e80a8" stroke-width="0.55"/>
<path d="M223.3,392.8 L216.85,401 L223.3,401 Z" fill="#bbbddf" opacity="0.8"/>
<line x1="223.3" y1="401" x2="223.3" y2="395.26" stroke="#6a9be0" stroke-width="1.05" />
<line x1="223.3" y1="395.26" x2="223.3" y2="392.8" stroke="#c87a98" stroke-width="0.55" />
<line x1="223.3" y1="401" x2="223.3" y2="406.74" stroke="#6a9be0" stroke-width="1.05" />
<line x1="223.3" y1="406.74" x2="223.3" y2="409.2" stroke="#c87a98" stroke-width="0.55" />
<line x1="223.3" y1="401" x2="218.79" y2="401" stroke="#6a9be0" stroke-width="1.05" />
<line x1="218.79" y1="401" x2="216.85" y2="401" stroke="#c87a98" stroke-width="0.55" />
<line x1="223.3" y1="401" x2="227.81" y2="401" stroke="#6a9be0" stroke-width="1.05" />
<line x1="227.81" y1="401" x2="229.75" y2="401" stroke="#c87a98" stroke-width="0.55" />
<circle cx="223.3" cy="401" r="1.9" fill="url(#gB)" stroke="none" stroke-width="0.5" />
<circle cx="223.3" cy="392.1" r="1.55" fill="url(#gR)" stroke="none" stroke-width="0.5" />
<circle cx="223.3" cy="409.9" r="1.55" fill="url(#gR)" stroke="none" stroke-width="0.5" />
<path d="M236.25,392.8 L242.7,401 L236.25,409.2 L229.8,401 Z" fill="#abadd4" stroke="#7e80a8" stroke-width="0.55"/>
<path d="M236.25,392.8 L229.8,401 L236.25,401 Z" fill="#bbbddf" opacity="0.8"/>
<line x1="236.25" y1="401" x2="236.25" y2="395.26" stroke="#6a9be0" stroke-width="1.05" />
<line x1="236.25" y1="395.26" x2="236.25" y2="392.8" stroke="#c87a98" stroke-width="0.55" />
<line x1="236.25" y1="401" x2="236.25" y2="406.74" stroke="#6a9be0" stroke-width="1.05" />
<line x1="236.25" y1="406.74" x2="236.25" y2="409.2" stroke="#c87a98" stroke-width="0.55" />
<line x1="236.25" y1="401" x2="231.74" y2="401" stroke="#6a9be0" stroke-width="1.05" />
<line x1="231.74" y1="401" x2="229.8" y2="401" stroke="#c87a98" stroke-width="0.55" />
<line x1="236.25" y1="401" x2="240.76" y2="401" stroke="#6a9be0" stroke-width="1.05" />
<line x1="240.76" y1="401" x2="242.7" y2="401" stroke="#c87a98" stroke-width="0.55" />
<circle cx="236.25" cy="401" r="1.9" fill="url(#gB)" stroke="none" stroke-width="0.5" />
<circle cx="236.25" cy="392.1" r="1.55" fill="url(#gR)" stroke="none" stroke-width="0.5" />
<circle cx="236.25" cy="409.9" r="1.55" fill="url(#gR)" stroke="none" stroke-width="0.5" />
<path d="M249.2,392.8 L255.65,401 L249.2,409.2 L242.75,401 Z" fill="#abadd4" stroke="#7e80a8" stroke-width="0.55"/>
<path d="M249.2,392.8 L242.75,401 L249.2,401 Z" fill="#bbbddf" opacity="0.8"/>
<line x1="249.2" y1="401" x2="249.2" y2="395.26" stroke="#6a9be0" stroke-width="1.05" />
<line x1="249.2" y1="395.26" x2="249.2" y2="392.8" stroke="#c87a98" stroke-width="0.55" />
<line x1="249.2" y1="401" x2="249.2" y2="406.74" stroke="#6a9be0" stroke-width="1.05" />
<line x1="249.2" y1="406.74" x2="249.2" y2="409.2" stroke="#c87a98" stroke-width="0.55" />
<line x1="249.2" y1="401" x2="244.69" y2="401" stroke="#6a9be0" stroke-width="1.05" />
<line x1="244.69" y1="401" x2="242.75" y2="401" stroke="#c87a98" stroke-width="0.55" />
<line x1="249.2" y1="401" x2="253.72" y2="401" stroke="#6a9be0" stroke-width="1.05" />
<line x1="253.72" y1="401" x2="255.65" y2="401" stroke="#c87a98" stroke-width="0.55" />
<circle cx="249.2" cy="401" r="1.9" fill="url(#gB)" stroke="none" stroke-width="0.5" />
<circle cx="249.2" cy="392.1" r="1.55" fill="url(#gR)" stroke="none" stroke-width="0.5" />
<circle cx="249.2" cy="409.9" r="1.55" fill="url(#gR)" stroke="none" stroke-width="0.5" />
<path d="M262.15,392.8 L268.6,401 L262.15,409.2 L255.7,401 Z" fill="#abadd4" stroke="#7e80a8" stroke-width="0.55"/>
<path d="M262.15,392.8 L255.7,401 L262.15,401 Z" fill="#bbbddf" opacity="0.8"/>
<line x1="262.15" y1="401" x2="262.15" y2="395.26" stroke="#6a9be0" stroke-width="1.05" />
<line x1="262.15" y1="395.26" x2="262.15" y2="392.8" stroke="#c87a98" stroke-width="0.55" />
<line x1="262.15" y1="401" x2="262.15" y2="406.74" stroke="#6a9be0" stroke-width="1.05" />
<line x1="262.15" y1="406.74" x2="262.15" y2="409.2" stroke="#c87a98" stroke-width="0.55" />
<line x1="262.15" y1="401" x2="257.63" y2="401" stroke="#6a9be0" stroke-width="1.05" />
<line x1="257.63" y1="401" x2="255.7" y2="401" stroke="#c87a98" stroke-width="0.55" />
<line x1="262.15" y1="401" x2="266.66" y2="401" stroke="#6a9be0" stroke-width="1.05" />
<line x1="266.66" y1="401" x2="268.6" y2="401" stroke="#c87a98" stroke-width="0.55" />
<circle cx="262.15" cy="401" r="1.9" fill="url(#gB)" stroke="none" stroke-width="0.5" />
<circle cx="262.15" cy="392.1" r="1.55" fill="url(#gR)" stroke="none" stroke-width="0.5" />
<circle cx="262.15" cy="409.9" r="1.55" fill="url(#gR)" stroke="none" stroke-width="0.5" />
<path d="M275.1,392.8 L281.55,401 L275.1,409.2 L268.65,401 Z" fill="#abadd4" stroke="#7e80a8" stroke-width="0.55"/>
<path d="M275.1,392.8 L268.65,401 L275.1,401 Z" fill="#bbbddf" opacity="0.8"/>
<line x1="275.1" y1="401" x2="275.1" y2="395.26" stroke="#6a9be0" stroke-width="1.05" />
<line x1="275.1" y1="395.26" x2="275.1" y2="392.8" stroke="#c87a98" stroke-width="0.55" />
<line x1="275.1" y1="401" x2="275.1" y2="406.74" stroke="#6a9be0" stroke-width="1.05" />
<line x1="275.1" y1="406.74" x2="275.1" y2="409.2" stroke="#c87a98" stroke-width="0.55" />
<line x1="275.1" y1="401" x2="270.59" y2="401" stroke="#6a9be0" stroke-width="1.05" />
<line x1="270.59" y1="401" x2="268.65" y2="401" stroke="#c87a98" stroke-width="0.55" />
<line x1="275.1" y1="401" x2="279.62" y2="401" stroke="#6a9be0" stroke-width="1.05" />
<line x1="279.62" y1="401" x2="281.55" y2="401" stroke="#c87a98" stroke-width="0.55" />
<circle cx="275.1" cy="401" r="1.9" fill="url(#gB)" stroke="none" stroke-width="0.5" />
<circle cx="275.1" cy="392.1" r="1.55" fill="url(#gR)" stroke="none" stroke-width="0.5" />
<circle cx="275.1" cy="409.9" r="1.55" fill="url(#gR)" stroke="none" stroke-width="0.5" />
<path d="M288.05,392.8 L294.5,401 L288.05,409.2 L281.6,401 Z" fill="#abadd4" stroke="#7e80a8" stroke-width="0.55"/>
<path d="M288.05,392.8 L281.6,401 L288.05,401 Z" fill="#bbbddf" opacity="0.8"/>
<line x1="288.05" y1="401" x2="288.05" y2="395.26" stroke="#6a9be0" stroke-width="1.05" />
<line x1="288.05" y1="395.26" x2="288.05" y2="392.8" stroke="#c87a98" stroke-width="0.55" />
<line x1="288.05" y1="401" x2="288.05" y2="406.74" stroke="#6a9be0" stroke-width="1.05" />
<line x1="288.05" y1="406.74" x2="288.05" y2="409.2" stroke="#c87a98" stroke-width="0.55" />
<line x1="288.05" y1="401" x2="283.54" y2="401" stroke="#6a9be0" stroke-width="1.05" />
<line x1="283.54" y1="401" x2="281.6" y2="401" stroke="#c87a98" stroke-width="0.55" />
<line x1="288.05" y1="401" x2="292.56" y2="401" stroke="#6a9be0" stroke-width="1.05" />
<line x1="292.56" y1="401" x2="294.5" y2="401" stroke="#c87a98" stroke-width="0.55" />
<circle cx="288.05" cy="401" r="1.9" fill="url(#gB)" stroke="none" stroke-width="0.5" />
<circle cx="288.05" cy="392.1" r="1.55" fill="url(#gR)" stroke="none" stroke-width="0.5" />
<circle cx="288.05" cy="409.9" r="1.55" fill="url(#gR)" stroke="none" stroke-width="0.5" />
<line x1="216.83" y1="399.5" x2="216.83" y2="402.8" stroke="#a03040" stroke-width="0.8" />
<circle cx="216.83" cy="399.5" r="1.5" fill="url(#gR)" stroke="none" stroke-width="0.5" />
<circle cx="216.83" cy="402.8" r="1.5" fill="url(#gR)" stroke="none" stroke-width="0.5" />
<line x1="229.78" y1="399.5" x2="229.78" y2="402.8" stroke="#a03040" stroke-width="0.8" />
<circle cx="229.78" cy="399.5" r="1.5" fill="url(#gR)" stroke="none" stroke-width="0.5" />
<circle cx="229.78" cy="402.8" r="1.5" fill="url(#gR)" stroke="none" stroke-width="0.5" />
<line x1="242.73" y1="399.5" x2="242.73" y2="402.8" stroke="#a03040" stroke-width="0.8" />
<circle cx="242.73" cy="399.5" r="1.5" fill="url(#gR)" stroke="none" stroke-width="0.5" />
<circle cx="242.73" cy="402.8" r="1.5" fill="url(#gR)" stroke="none" stroke-width="0.5" />
<line x1="255.68" y1="399.5" x2="255.68" y2="402.8" stroke="#a03040" stroke-width="0.8" />
<circle cx="255.68" cy="399.5" r="1.5" fill="url(#gR)" stroke="none" stroke-width="0.5" />
<circle cx="255.68" cy="402.8" r="1.5" fill="url(#gR)" stroke="none" stroke-width="0.5" />
<line x1="268.62" y1="399.5" x2="268.62" y2="402.8" stroke="#a03040" stroke-width="0.8" />
<circle cx="268.62" cy="399.5" r="1.5" fill="url(#gR)" stroke="none" stroke-width="0.5" />
<circle cx="268.62" cy="402.8" r="1.5" fill="url(#gR)" stroke="none" stroke-width="0.5" />
<line x1="281.58" y1="399.5" x2="281.58" y2="402.8" stroke="#a03040" stroke-width="0.8" />
<circle cx="281.58" cy="399.5" r="1.5" fill="url(#gR)" stroke="none" stroke-width="0.5" />
<circle cx="281.58" cy="402.8" r="1.5" fill="url(#gR)" stroke="none" stroke-width="0.5" />
<line x1="294.52" y1="399.5" x2="294.52" y2="402.8" stroke="#a03040" stroke-width="0.8" />
<circle cx="294.52" cy="399.5" r="1.5" fill="url(#gR)" stroke="none" stroke-width="0.5" />
<circle cx="294.52" cy="402.8" r="1.5" fill="url(#gR)" stroke="none" stroke-width="0.5" />
<text transform="translate(222.9,422.8) skewX(-12) scale(0.74,1)" font-size="7.0" text-anchor="middle" font-weight="bold" font-family='"Liberation Serif", serif' fill="#111" stroke="#111" stroke-width="0.35">IV</text>
<text transform="translate(235.85,422.8) skewX(-12) scale(0.58,1)" font-size="7.0" text-anchor="middle" font-weight="bold" font-family='"Liberation Serif", serif' fill="#111" stroke="#111" stroke-width="0.35">III</text>
<text transform="translate(248.8,422.8) skewX(-12) scale(0.74,1)" font-size="7.0" text-anchor="middle" font-weight="bold" font-family='"Liberation Serif", serif' fill="#111" stroke="#111" stroke-width="0.35">IV</text>
<text transform="translate(261.75,422.8) skewX(-12) scale(0.74,1)" font-size="7.0" text-anchor="middle" font-weight="bold" font-family='"Liberation Serif", serif' fill="#111" stroke="#111" stroke-width="0.35">IV</text>
<text transform="translate(274.7,422.8) skewX(-12) scale(0.74,1)" font-size="7.0" text-anchor="middle" font-weight="bold" font-family='"Liberation Serif", serif' fill="#111" stroke="#111" stroke-width="0.35">IV</text>
<text transform="translate(287.65,422.8) skewX(-12) scale(0.74,1)" font-size="7.0" text-anchor="middle" font-weight="bold" font-family='"Liberation Serif", serif' fill="#111" stroke="#111" stroke-width="0.35">IV</text>
<text x="254.25" y="435.4" font-size="9" text-anchor="middle" fill="#4a73c9"  stroke="#4a73c9" stroke-width="0.2">DI-DE cycle</text>
<rect x="329.7" y="332.3" width="88.1" height="14.5" fill="#efefef" stroke="none" stroke-width="1" />
<rect x="329.7" y="346.8" width="88.1" height="9.6" fill="url(#gBar)" stroke="none" stroke-width="1" />
<path d="M342.6,311.6 L349.05,319.8 L342.6,328 L336.15,319.8 Z" fill="#abadd4" stroke="#7e80a8" stroke-width="0.55"/>
<path d="M342.6,311.6 L336.15,319.8 L342.6,319.8 Z" fill="#bbbddf" opacity="0.8"/>
<line x1="342.6" y1="319.8" x2="342.6" y2="314.06" stroke="#6a9be0" stroke-width="1.05" />
<line x1="342.6" y1="314.06" x2="342.6" y2="311.6" stroke="#c87a98" stroke-width="0.55" />
<line x1="342.6" y1="319.8" x2="342.6" y2="325.54" stroke="#6a9be0" stroke-width="1.05" />
<line x1="342.6" y1="325.54" x2="342.6" y2="328" stroke="#c87a98" stroke-width="0.55" />
<line x1="342.6" y1="319.8" x2="338.09" y2="319.8" stroke="#6a9be0" stroke-width="1.05" />
<line x1="338.09" y1="319.8" x2="336.15" y2="319.8" stroke="#c87a98" stroke-width="0.55" />
<line x1="342.6" y1="319.8" x2="347.12" y2="319.8" stroke="#6a9be0" stroke-width="1.05" />
<line x1="347.12" y1="319.8" x2="349.05" y2="319.8" stroke="#c87a98" stroke-width="0.55" />
<circle cx="342.6" cy="319.8" r="1.9" fill="url(#gB)" stroke="none" stroke-width="0.5" />
<circle cx="342.6" cy="310.9" r="1.55" fill="url(#gR)" stroke="none" stroke-width="0.5" />
<circle cx="342.6" cy="328.7" r="1.55" fill="url(#gR)" stroke="none" stroke-width="0.5" />
<path d="M355.55,311.6 L362,319.8 L355.55,328 L349.1,319.8 Z" fill="#abadd4" stroke="#7e80a8" stroke-width="0.55"/>
<path d="M355.55,311.6 L349.1,319.8 L355.55,319.8 Z" fill="#bbbddf" opacity="0.8"/>
<line x1="355.55" y1="319.8" x2="355.55" y2="314.06" stroke="#6a9be0" stroke-width="1.05" />
<line x1="355.55" y1="314.06" x2="355.55" y2="311.6" stroke="#c87a98" stroke-width="0.55" />
<line x1="355.55" y1="319.8" x2="355.55" y2="325.54" stroke="#6a9be0" stroke-width="1.05" />
<line x1="355.55" y1="325.54" x2="355.55" y2="328" stroke="#c87a98" stroke-width="0.55" />
<line x1="355.55" y1="319.8" x2="351.04" y2="319.8" stroke="#6a9be0" stroke-width="1.05" />
<line x1="351.04" y1="319.8" x2="349.1" y2="319.8" stroke="#c87a98" stroke-width="0.55" />
<line x1="355.55" y1="319.8" x2="360.06" y2="319.8" stroke="#6a9be0" stroke-width="1.05" />
<line x1="360.06" y1="319.8" x2="362" y2="319.8" stroke="#c87a98" stroke-width="0.55" />
<circle cx="355.55" cy="319.8" r="1.9" fill="url(#gB)" stroke="none" stroke-width="0.5" />
<circle cx="355.55" cy="310.9" r="1.55" fill="url(#gR)" stroke="none" stroke-width="0.5" />
<circle cx="355.55" cy="328.7" r="1.55" fill="url(#gR)" stroke="none" stroke-width="0.5" />
<path d="M368.5,311.6 L374.95,319.8 L368.5,328 L362.05,319.8 Z" fill="#abadd4" stroke="#7e80a8" stroke-width="0.55"/>
<path d="M368.5,311.6 L362.05,319.8 L368.5,319.8 Z" fill="#bbbddf" opacity="0.8"/>
<line x1="368.5" y1="319.8" x2="368.5" y2="314.06" stroke="#6a9be0" stroke-width="1.05" />
<line x1="368.5" y1="314.06" x2="368.5" y2="311.6" stroke="#c87a98" stroke-width="0.55" />
<line x1="368.5" y1="319.8" x2="368.5" y2="325.54" stroke="#6a9be0" stroke-width="1.05" />
<line x1="368.5" y1="325.54" x2="368.5" y2="328" stroke="#c87a98" stroke-width="0.55" />
<line x1="368.5" y1="319.8" x2="363.99" y2="319.8" stroke="#6a9be0" stroke-width="1.05" />
<line x1="363.99" y1="319.8" x2="362.05" y2="319.8" stroke="#c87a98" stroke-width="0.55" />
<line x1="368.5" y1="319.8" x2="373.01" y2="319.8" stroke="#6a9be0" stroke-width="1.05" />
<line x1="373.01" y1="319.8" x2="374.95" y2="319.8" stroke="#c87a98" stroke-width="0.55" />
<circle cx="368.5" cy="319.8" r="1.9" fill="url(#gB)" stroke="none" stroke-width="0.5" />
<circle cx="368.5" cy="310.9" r="1.55" fill="url(#gR)" stroke="none" stroke-width="0.5" />
<circle cx="368.5" cy="328.7" r="1.55" fill="url(#gR)" stroke="none" stroke-width="0.5" />
<path d="M381.45,311.6 L387.9,319.8 L381.45,328 L375,319.8 Z" fill="#abadd4" stroke="#7e80a8" stroke-width="0.55"/>
<path d="M381.45,311.6 L375,319.8 L381.45,319.8 Z" fill="#bbbddf" opacity="0.8"/>
<line x1="381.45" y1="319.8" x2="381.45" y2="314.06" stroke="#6a9be0" stroke-width="1.05" />
<line x1="381.45" y1="314.06" x2="381.45" y2="311.6" stroke="#c87a98" stroke-width="0.55" />
<line x1="381.45" y1="319.8" x2="381.45" y2="325.54" stroke="#6a9be0" stroke-width="1.05" />
<line x1="381.45" y1="325.54" x2="381.45" y2="328" stroke="#c87a98" stroke-width="0.55" />
<line x1="381.45" y1="319.8" x2="376.94" y2="319.8" stroke="#6a9be0" stroke-width="1.05" />
<line x1="376.94" y1="319.8" x2="375" y2="319.8" stroke="#c87a98" stroke-width="0.55" />
<line x1="381.45" y1="319.8" x2="385.97" y2="319.8" stroke="#6a9be0" stroke-width="1.05" />
<line x1="385.97" y1="319.8" x2="387.9" y2="319.8" stroke="#c87a98" stroke-width="0.55" />
<circle cx="381.45" cy="319.8" r="1.9" fill="url(#gB)" stroke="none" stroke-width="0.5" />
<circle cx="381.45" cy="310.9" r="1.55" fill="url(#gR)" stroke="none" stroke-width="0.5" />
<circle cx="381.45" cy="328.7" r="1.55" fill="url(#gR)" stroke="none" stroke-width="0.5" />
<path d="M394.4,311.6 L400.85,319.8 L394.4,328 L387.95,319.8 Z" fill="#abadd4" stroke="#7e80a8" stroke-width="0.55"/>
<path d="M394.4,311.6 L387.95,319.8 L394.4,319.8 Z" fill="#bbbddf" opacity="0.8"/>
<line x1="394.4" y1="319.8" x2="394.4" y2="314.06" stroke="#6a9be0" stroke-width="1.05" />
<line x1="394.4" y1="314.06" x2="394.4" y2="311.6" stroke="#c87a98" stroke-width="0.55" />
<line x1="394.4" y1="319.8" x2="394.4" y2="325.54" stroke="#6a9be0" stroke-width="1.05" />
<line x1="394.4" y1="325.54" x2="394.4" y2="328" stroke="#c87a98" stroke-width="0.55" />
<line x1="394.4" y1="319.8" x2="389.89" y2="319.8" stroke="#6a9be0" stroke-width="1.05" />
<line x1="389.89" y1="319.8" x2="387.95" y2="319.8" stroke="#c87a98" stroke-width="0.55" />
<line x1="394.4" y1="319.8" x2="398.92" y2="319.8" stroke="#6a9be0" stroke-width="1.05" />
<line x1="398.92" y1="319.8" x2="400.85" y2="319.8" stroke="#c87a98" stroke-width="0.55" />
<circle cx="394.4" cy="319.8" r="1.9" fill="url(#gB)" stroke="none" stroke-width="0.5" />
<circle cx="394.4" cy="310.9" r="1.55" fill="url(#gR)" stroke="none" stroke-width="0.5" />
<circle cx="394.4" cy="328.7" r="1.55" fill="url(#gR)" stroke="none" stroke-width="0.5" />
<path d="M407.35,311.6 L413.8,319.8 L407.35,328 L400.9,319.8 Z" fill="#abadd4" stroke="#7e80a8" stroke-width="0.55"/>
<path d="M407.35,311.6 L400.9,319.8 L407.35,319.8 Z" fill="#bbbddf" opacity="0.8"/>
<line x1="407.35" y1="319.8" x2="407.35" y2="314.06" stroke="#6a9be0" stroke-width="1.05" />
<line x1="407.35" y1="314.06" x2="407.35" y2="311.6" stroke="#c87a98" stroke-width="0.55" />
<line x1="407.35" y1="319.8" x2="407.35" y2="325.54" stroke="#6a9be0" stroke-width="1.05" />
<line x1="407.35" y1="325.54" x2="407.35" y2="328" stroke="#c87a98" stroke-width="0.55" />
<line x1="407.35" y1="319.8" x2="402.84" y2="319.8" stroke="#6a9be0" stroke-width="1.05" />
<line x1="402.84" y1="319.8" x2="400.9" y2="319.8" stroke="#c87a98" stroke-width="0.55" />
<line x1="407.35" y1="319.8" x2="411.87" y2="319.8" stroke="#6a9be0" stroke-width="1.05" />
<line x1="411.87" y1="319.8" x2="413.8" y2="319.8" stroke="#c87a98" stroke-width="0.55" />
<circle cx="407.35" cy="319.8" r="1.9" fill="url(#gB)" stroke="none" stroke-width="0.5" />
<circle cx="407.35" cy="310.9" r="1.55" fill="url(#gR)" stroke="none" stroke-width="0.5" />
<circle cx="407.35" cy="328.7" r="1.55" fill="url(#gR)" stroke="none" stroke-width="0.5" />
<line x1="336.12" y1="318.3" x2="336.12" y2="321.6" stroke="#a03040" stroke-width="0.8" />
<circle cx="336.12" cy="318.3" r="1.5" fill="url(#gR)" stroke="none" stroke-width="0.5" />
<circle cx="336.12" cy="321.6" r="1.5" fill="url(#gR)" stroke="none" stroke-width="0.5" />
<line x1="349.07" y1="318.3" x2="349.07" y2="321.6" stroke="#a03040" stroke-width="0.8" />
<circle cx="349.07" cy="318.3" r="1.5" fill="url(#gR)" stroke="none" stroke-width="0.5" />
<circle cx="349.07" cy="321.6" r="1.5" fill="url(#gR)" stroke="none" stroke-width="0.5" />
<line x1="362.02" y1="318.3" x2="362.02" y2="321.6" stroke="#a03040" stroke-width="0.8" />
<circle cx="362.02" cy="318.3" r="1.5" fill="url(#gR)" stroke="none" stroke-width="0.5" />
<circle cx="362.02" cy="321.6" r="1.5" fill="url(#gR)" stroke="none" stroke-width="0.5" />
<line x1="374.98" y1="318.3" x2="374.98" y2="321.6" stroke="#a03040" stroke-width="0.8" />
<circle cx="374.98" cy="318.3" r="1.5" fill="url(#gR)" stroke="none" stroke-width="0.5" />
<circle cx="374.98" cy="321.6" r="1.5" fill="url(#gR)" stroke="none" stroke-width="0.5" />
<line x1="387.93" y1="318.3" x2="387.93" y2="321.6" stroke="#a03040" stroke-width="0.8" />
<circle cx="387.93" cy="318.3" r="1.5" fill="url(#gR)" stroke="none" stroke-width="0.5" />
<circle cx="387.93" cy="321.6" r="1.5" fill="url(#gR)" stroke="none" stroke-width="0.5" />
<line x1="400.88" y1="318.3" x2="400.88" y2="321.6" stroke="#a03040" stroke-width="0.8" />
<circle cx="400.88" cy="318.3" r="1.5" fill="url(#gR)" stroke="none" stroke-width="0.5" />
<circle cx="400.88" cy="321.6" r="1.5" fill="url(#gR)" stroke="none" stroke-width="0.5" />
<line x1="413.82" y1="318.3" x2="413.82" y2="321.6" stroke="#a03040" stroke-width="0.8" />
<circle cx="413.82" cy="318.3" r="1.5" fill="url(#gR)" stroke="none" stroke-width="0.5" />
<circle cx="413.82" cy="321.6" r="1.5" fill="url(#gR)" stroke="none" stroke-width="0.5" />
<text transform="translate(342.2,342.2) skewX(-12) scale(0.74,1)" font-size="7.0" text-anchor="middle" font-weight="bold" font-family='"Liberation Serif", serif' fill="#111" stroke="#111" stroke-width="0.35">IV</text>
<text transform="translate(355.15,342.2) skewX(-12) scale(0.74,1)" font-size="7.0" text-anchor="middle" font-weight="bold" font-family='"Liberation Serif", serif' fill="#111" stroke="#111" stroke-width="0.35">IV</text>
<text transform="translate(368.1,342.2) skewX(-12) scale(0.74,1)" font-size="7.0" text-anchor="middle" font-weight="bold" font-family='"Liberation Serif", serif' fill="#111" stroke="#111" stroke-width="0.35">IV</text>
<text transform="translate(381.05,342.2) skewX(-12) scale(0.74,1)" font-size="7.0" text-anchor="middle" font-weight="bold" font-family='"Liberation Serif", serif' fill="#111" stroke="#111" stroke-width="0.35">IV</text>
<text transform="translate(394,342.2) skewX(-12) scale(0.74,1)" font-size="7.0" text-anchor="middle" font-weight="bold" font-family='"Liberation Serif", serif' fill="#111" stroke="#111" stroke-width="0.35">IV</text>
<text transform="translate(406.95,342.2) skewX(-12) scale(0.74,1)" font-size="7.0" text-anchor="middle" font-weight="bold" font-family='"Liberation Serif", serif' fill="#111" stroke="#111" stroke-width="0.35">IV</text>
<text x="373.35" y="355.4" font-size="9" text-anchor="middle" fill="#4a73c9"  stroke="#4a73c9" stroke-width="0.2">Electron injection</text>
<rect x="462.1" y="331.9" width="92.3" height="14.9" fill="#efefef" stroke="none" stroke-width="1" />
<rect x="462.1" y="346.8" width="92.3" height="9.6" fill="url(#gBar)" stroke="none" stroke-width="1" />
<path d="M472.7,311.8 L479.15,320 L472.7,328.2 L466.25,320 Z" fill="#abadd4" stroke="#7e80a8" stroke-width="0.55"/>
<path d="M472.7,311.8 L466.25,320 L472.7,320 Z" fill="#bbbddf" opacity="0.8"/>
<line x1="472.7" y1="320" x2="472.7" y2="314.26" stroke="#6a9be0" stroke-width="1.05" />
<line x1="472.7" y1="314.26" x2="472.7" y2="311.8" stroke="#c87a98" stroke-width="0.55" />
<line x1="472.7" y1="320" x2="472.7" y2="325.74" stroke="#6a9be0" stroke-width="1.05" />
<line x1="472.7" y1="325.74" x2="472.7" y2="328.2" stroke="#c87a98" stroke-width="0.55" />
<line x1="472.7" y1="320" x2="468.19" y2="320" stroke="#6a9be0" stroke-width="1.05" />
<line x1="468.19" y1="320" x2="466.25" y2="320" stroke="#c87a98" stroke-width="0.55" />
<line x1="472.7" y1="320" x2="477.21" y2="320" stroke="#6a9be0" stroke-width="1.05" />
<line x1="477.21" y1="320" x2="479.15" y2="320" stroke="#c87a98" stroke-width="0.55" />
<circle cx="472.7" cy="320" r="1.9" fill="url(#gB)" stroke="none" stroke-width="0.5" />
<circle cx="472.7" cy="311.1" r="1.55" fill="url(#gR)" stroke="none" stroke-width="0.5" />
<circle cx="472.7" cy="328.9" r="1.55" fill="url(#gR)" stroke="none" stroke-width="0.5" />
<path d="M485.65,311.8 L492.1,320 L485.65,328.2 L479.2,320 Z" fill="#abadd4" stroke="#7e80a8" stroke-width="0.55"/>
<path d="M485.65,311.8 L479.2,320 L485.65,320 Z" fill="#bbbddf" opacity="0.8"/>
<line x1="485.65" y1="320" x2="485.65" y2="314.26" stroke="#6a9be0" stroke-width="1.05" />
<line x1="485.65" y1="314.26" x2="485.65" y2="311.8" stroke="#c87a98" stroke-width="0.55" />
<line x1="485.65" y1="320" x2="485.65" y2="325.74" stroke="#6a9be0" stroke-width="1.05" />
<line x1="485.65" y1="325.74" x2="485.65" y2="328.2" stroke="#c87a98" stroke-width="0.55" />
<line x1="485.65" y1="320" x2="481.13" y2="320" stroke="#6a9be0" stroke-width="1.05" />
<line x1="481.13" y1="320" x2="479.2" y2="320" stroke="#c87a98" stroke-width="0.55" />
<line x1="485.65" y1="320" x2="490.16" y2="320" stroke="#6a9be0" stroke-width="1.05" />
<line x1="490.16" y1="320" x2="492.1" y2="320" stroke="#c87a98" stroke-width="0.55" />
<circle cx="485.65" cy="320" r="1.9" fill="url(#gB)" stroke="none" stroke-width="0.5" />
<circle cx="485.65" cy="311.1" r="1.55" fill="url(#gR)" stroke="none" stroke-width="0.5" />
<circle cx="485.65" cy="328.9" r="1.55" fill="url(#gR)" stroke="none" stroke-width="0.5" />
<path d="M498.6,311.8 L505.05,320 L498.6,328.2 L492.15,320 Z" fill="#abadd4" stroke="#7e80a8" stroke-width="0.55"/>
<path d="M498.6,311.8 L492.15,320 L498.6,320 Z" fill="#bbbddf" opacity="0.8"/>
<line x1="498.6" y1="320" x2="498.6" y2="314.26" stroke="#6a9be0" stroke-width="1.05" />
<line x1="498.6" y1="314.26" x2="498.6" y2="311.8" stroke="#c87a98" stroke-width="0.55" />
<line x1="498.6" y1="320" x2="498.6" y2="325.74" stroke="#6a9be0" stroke-width="1.05" />
<line x1="498.6" y1="325.74" x2="498.6" y2="328.2" stroke="#c87a98" stroke-width="0.55" />
<line x1="498.6" y1="320" x2="494.08" y2="320" stroke="#6a9be0" stroke-width="1.05" />
<line x1="494.08" y1="320" x2="492.15" y2="320" stroke="#c87a98" stroke-width="0.55" />
<line x1="498.6" y1="320" x2="503.11" y2="320" stroke="#6a9be0" stroke-width="1.05" />
<line x1="503.11" y1="320" x2="505.05" y2="320" stroke="#c87a98" stroke-width="0.55" />
<circle cx="498.6" cy="320" r="1.9" fill="url(#gB)" stroke="none" stroke-width="0.5" />
<circle cx="498.6" cy="311.1" r="1.55" fill="url(#gR)" stroke="none" stroke-width="0.5" />
<circle cx="498.6" cy="328.9" r="1.55" fill="url(#gR)" stroke="none" stroke-width="0.5" />
<path d="M511.55,311.8 L518,320 L511.55,328.2 L505.1,320 Z" fill="#abadd4" stroke="#7e80a8" stroke-width="0.55"/>
<path d="M511.55,311.8 L505.1,320 L511.55,320 Z" fill="#bbbddf" opacity="0.8"/>
<line x1="511.55" y1="320" x2="511.55" y2="314.26" stroke="#6a9be0" stroke-width="1.05" />
<line x1="511.55" y1="314.26" x2="511.55" y2="311.8" stroke="#c87a98" stroke-width="0.55" />
<line x1="511.55" y1="320" x2="511.55" y2="325.74" stroke="#6a9be0" stroke-width="1.05" />
<line x1="511.55" y1="325.74" x2="511.55" y2="328.2" stroke="#c87a98" stroke-width="0.55" />
<line x1="511.55" y1="320" x2="507.03" y2="320" stroke="#6a9be0" stroke-width="1.05" />
<line x1="507.03" y1="320" x2="505.1" y2="320" stroke="#c87a98" stroke-width="0.55" />
<line x1="511.55" y1="320" x2="516.06" y2="320" stroke="#6a9be0" stroke-width="1.05" />
<line x1="516.06" y1="320" x2="518" y2="320" stroke="#c87a98" stroke-width="0.55" />
<circle cx="511.55" cy="320" r="1.9" fill="url(#gB)" stroke="none" stroke-width="0.5" />
<circle cx="511.55" cy="311.1" r="1.55" fill="url(#gR)" stroke="none" stroke-width="0.5" />
<circle cx="511.55" cy="328.9" r="1.55" fill="url(#gR)" stroke="none" stroke-width="0.5" />
<path d="M524.5,311.8 L530.95,320 L524.5,328.2 L518.05,320 Z" fill="#abadd4" stroke="#7e80a8" stroke-width="0.55"/>
<path d="M524.5,311.8 L518.05,320 L524.5,320 Z" fill="#bbbddf" opacity="0.8"/>
<line x1="524.5" y1="320" x2="524.5" y2="314.26" stroke="#6a9be0" stroke-width="1.05" />
<line x1="524.5" y1="314.26" x2="524.5" y2="311.8" stroke="#c87a98" stroke-width="0.55" />
<line x1="524.5" y1="320" x2="524.5" y2="325.74" stroke="#6a9be0" stroke-width="1.05" />
<line x1="524.5" y1="325.74" x2="524.5" y2="328.2" stroke="#c87a98" stroke-width="0.55" />
<line x1="524.5" y1="320" x2="519.99" y2="320" stroke="#6a9be0" stroke-width="1.05" />
<line x1="519.99" y1="320" x2="518.05" y2="320" stroke="#c87a98" stroke-width="0.55" />
<line x1="524.5" y1="320" x2="529.01" y2="320" stroke="#6a9be0" stroke-width="1.05" />
<line x1="529.01" y1="320" x2="530.95" y2="320" stroke="#c87a98" stroke-width="0.55" />
<circle cx="524.5" cy="320" r="1.9" fill="url(#gB)" stroke="none" stroke-width="0.5" />
<circle cx="524.5" cy="311.1" r="1.55" fill="url(#gR)" stroke="none" stroke-width="0.5" />
<circle cx="524.5" cy="328.9" r="1.55" fill="url(#gR)" stroke="none" stroke-width="0.5" />
<path d="M537.45,311.8 L543.9,320 L537.45,328.2 L531,320 Z" fill="#abadd4" stroke="#7e80a8" stroke-width="0.55"/>
<path d="M537.45,311.8 L531,320 L537.45,320 Z" fill="#bbbddf" opacity="0.8"/>
<line x1="537.45" y1="320" x2="537.45" y2="314.26" stroke="#6a9be0" stroke-width="1.05" />
<line x1="537.45" y1="314.26" x2="537.45" y2="311.8" stroke="#c87a98" stroke-width="0.55" />
<line x1="537.45" y1="320" x2="537.45" y2="325.74" stroke="#6a9be0" stroke-width="1.05" />
<line x1="537.45" y1="325.74" x2="537.45" y2="328.2" stroke="#c87a98" stroke-width="0.55" />
<line x1="537.45" y1="320" x2="532.94" y2="320" stroke="#6a9be0" stroke-width="1.05" />
<line x1="532.94" y1="320" x2="531" y2="320" stroke="#c87a98" stroke-width="0.55" />
<line x1="537.45" y1="320" x2="541.97" y2="320" stroke="#6a9be0" stroke-width="1.05" />
<line x1="541.97" y1="320" x2="543.9" y2="320" stroke="#c87a98" stroke-width="0.55" />
<circle cx="537.45" cy="320" r="1.9" fill="url(#gB)" stroke="none" stroke-width="0.5" />
<circle cx="537.45" cy="311.1" r="1.55" fill="url(#gR)" stroke="none" stroke-width="0.5" />
<circle cx="537.45" cy="328.9" r="1.55" fill="url(#gR)" stroke="none" stroke-width="0.5" />
<line x1="466.22" y1="318.5" x2="466.22" y2="321.8" stroke="#a03040" stroke-width="0.8" />
<circle cx="466.22" cy="318.5" r="1.5" fill="url(#gR)" stroke="none" stroke-width="0.5" />
<circle cx="466.22" cy="321.8" r="1.5" fill="url(#gR)" stroke="none" stroke-width="0.5" />
<line x1="479.17" y1="318.5" x2="479.17" y2="321.8" stroke="#a03040" stroke-width="0.8" />
<circle cx="479.17" cy="318.5" r="1.5" fill="url(#gR)" stroke="none" stroke-width="0.5" />
<circle cx="479.17" cy="321.8" r="1.5" fill="url(#gR)" stroke="none" stroke-width="0.5" />
<line x1="492.12" y1="318.5" x2="492.12" y2="321.8" stroke="#a03040" stroke-width="0.8" />
<circle cx="492.12" cy="318.5" r="1.5" fill="url(#gR)" stroke="none" stroke-width="0.5" />
<circle cx="492.12" cy="321.8" r="1.5" fill="url(#gR)" stroke="none" stroke-width="0.5" />
<line x1="505.07" y1="318.5" x2="505.07" y2="321.8" stroke="#a03040" stroke-width="0.8" />
<circle cx="505.07" cy="318.5" r="1.5" fill="url(#gR)" stroke="none" stroke-width="0.5" />
<circle cx="505.07" cy="321.8" r="1.5" fill="url(#gR)" stroke="none" stroke-width="0.5" />
<line x1="518.02" y1="318.5" x2="518.02" y2="321.8" stroke="#a03040" stroke-width="0.8" />
<circle cx="518.02" cy="318.5" r="1.5" fill="url(#gR)" stroke="none" stroke-width="0.5" />
<circle cx="518.02" cy="321.8" r="1.5" fill="url(#gR)" stroke="none" stroke-width="0.5" />
<line x1="530.97" y1="318.5" x2="530.97" y2="321.8" stroke="#a03040" stroke-width="0.8" />
<circle cx="530.97" cy="318.5" r="1.5" fill="url(#gR)" stroke="none" stroke-width="0.5" />
<circle cx="530.97" cy="321.8" r="1.5" fill="url(#gR)" stroke="none" stroke-width="0.5" />
<line x1="543.92" y1="318.5" x2="543.92" y2="321.8" stroke="#a03040" stroke-width="0.8" />
<circle cx="543.92" cy="318.5" r="1.5" fill="url(#gR)" stroke="none" stroke-width="0.5" />
<circle cx="543.92" cy="321.8" r="1.5" fill="url(#gR)" stroke="none" stroke-width="0.5" />
<text transform="translate(472.3,341.8) skewX(-12) scale(0.74,1)" font-size="7.0" text-anchor="middle" font-weight="bold" font-family='"Liberation Serif", serif' fill="#111" stroke="#111" stroke-width="0.35">IV</text>
<text transform="translate(485.25,341.8) skewX(-12) scale(0.58,1)" font-size="7.0" text-anchor="middle" font-weight="bold" font-family='"Liberation Serif", serif' fill="#111" stroke="#111" stroke-width="0.35">III</text>
<text transform="translate(498.2,341.8) skewX(-12) scale(0.58,1)" font-size="7.0" text-anchor="middle" font-weight="bold" font-family='"Liberation Serif", serif' fill="#111" stroke="#111" stroke-width="0.35">III</text>
<text transform="translate(511.15,341.8) skewX(-12) scale(0.58,1)" font-size="7.0" text-anchor="middle" font-weight="bold" font-family='"Liberation Serif", serif' fill="#111" stroke="#111" stroke-width="0.35">III</text>
<text transform="translate(524.1,341.8) skewX(-12) scale(0.58,1)" font-size="7.0" text-anchor="middle" font-weight="bold" font-family='"Liberation Serif", serif' fill="#111" stroke="#111" stroke-width="0.35">III</text>
<text transform="translate(537.05,341.8) skewX(-12) scale(0.74,1)" font-size="7.0" text-anchor="middle" font-weight="bold" font-family='"Liberation Serif", serif' fill="#111" stroke="#111" stroke-width="0.35">IV</text>
<text x="507.85" y="355.4" font-size="9" text-anchor="middle" fill="#4a73c9"  stroke="#4a73c9" stroke-width="0.2">Electroreduction</text>
<rect x="330.3" y="410.9" width="87.5" height="14.7" fill="#efefef" stroke="none" stroke-width="1" />
<rect x="330.3" y="425.6" width="87.5" height="10.2" fill="url(#gBar)" stroke="none" stroke-width="1" />
<path d="M340.5,390.4 L346.95,398.6 L340.5,406.8 L334.05,398.6 Z" fill="#abadd4" stroke="#7e80a8" stroke-width="0.55"/>
<path d="M340.5,390.4 L334.05,398.6 L340.5,398.6 Z" fill="#bbbddf" opacity="0.8"/>
<line x1="340.5" y1="398.6" x2="340.5" y2="392.86" stroke="#6a9be0" stroke-width="1.05" />
<line x1="340.5" y1="392.86" x2="340.5" y2="390.4" stroke="#c87a98" stroke-width="0.55" />
<line x1="340.5" y1="398.6" x2="340.5" y2="404.34" stroke="#6a9be0" stroke-width="1.05" />
<line x1="340.5" y1="404.34" x2="340.5" y2="406.8" stroke="#c87a98" stroke-width="0.55" />
<line x1="340.5" y1="398.6" x2="335.99" y2="398.6" stroke="#6a9be0" stroke-width="1.05" />
<line x1="335.99" y1="398.6" x2="334.05" y2="398.6" stroke="#c87a98" stroke-width="0.55" />
<line x1="340.5" y1="398.6" x2="345.01" y2="398.6" stroke="#6a9be0" stroke-width="1.05" />
<line x1="345.01" y1="398.6" x2="346.95" y2="398.6" stroke="#c87a98" stroke-width="0.55" />
<circle cx="340.5" cy="398.6" r="1.9" fill="url(#gB)" stroke="none" stroke-width="0.5" />
<circle cx="340.5" cy="389.7" r="1.55" fill="url(#gR)" stroke="none" stroke-width="0.5" />
<circle cx="340.5" cy="407.5" r="1.55" fill="url(#gR)" stroke="none" stroke-width="0.5" />
<path d="M353.45,390.4 L359.9,398.6 L353.45,406.8 L347,398.6 Z" fill="#abadd4" stroke="#7e80a8" stroke-width="0.55"/>
<path d="M353.45,390.4 L347,398.6 L353.45,398.6 Z" fill="#bbbddf" opacity="0.8"/>
<line x1="353.45" y1="398.6" x2="353.45" y2="392.86" stroke="#6a9be0" stroke-width="1.05" />
<line x1="353.45" y1="392.86" x2="353.45" y2="390.4" stroke="#c87a98" stroke-width="0.55" />
<line x1="353.45" y1="398.6" x2="353.45" y2="404.34" stroke="#6a9be0" stroke-width="1.05" />
<line x1="353.45" y1="404.34" x2="353.45" y2="406.8" stroke="#c87a98" stroke-width="0.55" />
<line x1="353.45" y1="398.6" x2="348.94" y2="398.6" stroke="#6a9be0" stroke-width="1.05" />
<line x1="348.94" y1="398.6" x2="347" y2="398.6" stroke="#c87a98" stroke-width="0.55" />
<line x1="353.45" y1="398.6" x2="357.96" y2="398.6" stroke="#6a9be0" stroke-width="1.05" />
<line x1="357.96" y1="398.6" x2="359.9" y2="398.6" stroke="#c87a98" stroke-width="0.55" />
<circle cx="353.45" cy="398.6" r="1.9" fill="url(#gB)" stroke="none" stroke-width="0.5" />
<circle cx="353.45" cy="389.7" r="1.55" fill="url(#gR)" stroke="none" stroke-width="0.5" />
<circle cx="353.45" cy="407.5" r="1.55" fill="url(#gR)" stroke="none" stroke-width="0.5" />
<path d="M366.4,390.4 L372.85,398.6 L366.4,406.8 L359.95,398.6 Z" fill="#abadd4" stroke="#7e80a8" stroke-width="0.55"/>
<path d="M366.4,390.4 L359.95,398.6 L366.4,398.6 Z" fill="#bbbddf" opacity="0.8"/>
<line x1="366.4" y1="398.6" x2="366.4" y2="392.86" stroke="#6a9be0" stroke-width="1.05" />
<line x1="366.4" y1="392.86" x2="366.4" y2="390.4" stroke="#c87a98" stroke-width="0.55" />
<line x1="366.4" y1="398.6" x2="366.4" y2="404.34" stroke="#6a9be0" stroke-width="1.05" />
<line x1="366.4" y1="404.34" x2="366.4" y2="406.8" stroke="#c87a98" stroke-width="0.55" />
<line x1="366.4" y1="398.6" x2="361.88" y2="398.6" stroke="#6a9be0" stroke-width="1.05" />
<line x1="361.88" y1="398.6" x2="359.95" y2="398.6" stroke="#c87a98" stroke-width="0.55" />
<line x1="366.4" y1="398.6" x2="370.91" y2="398.6" stroke="#6a9be0" stroke-width="1.05" />
<line x1="370.91" y1="398.6" x2="372.85" y2="398.6" stroke="#c87a98" stroke-width="0.55" />
<circle cx="366.4" cy="398.6" r="1.9" fill="url(#gB)" stroke="none" stroke-width="0.5" />
<circle cx="366.4" cy="389.7" r="1.55" fill="url(#gR)" stroke="none" stroke-width="0.5" />
<circle cx="366.4" cy="407.5" r="1.55" fill="url(#gR)" stroke="none" stroke-width="0.5" />
<path d="M379.35,390.4 L385.8,398.6 L379.35,406.8 L372.9,398.6 Z" fill="#abadd4" stroke="#7e80a8" stroke-width="0.55"/>
<path d="M379.35,390.4 L372.9,398.6 L379.35,398.6 Z" fill="#bbbddf" opacity="0.8"/>
<line x1="379.35" y1="398.6" x2="379.35" y2="392.86" stroke="#6a9be0" stroke-width="1.05" />
<line x1="379.35" y1="392.86" x2="379.35" y2="390.4" stroke="#c87a98" stroke-width="0.55" />
<line x1="379.35" y1="398.6" x2="379.35" y2="404.34" stroke="#6a9be0" stroke-width="1.05" />
<line x1="379.35" y1="404.34" x2="379.35" y2="406.8" stroke="#c87a98" stroke-width="0.55" />
<line x1="379.35" y1="398.6" x2="374.84" y2="398.6" stroke="#6a9be0" stroke-width="1.05" />
<line x1="374.84" y1="398.6" x2="372.9" y2="398.6" stroke="#c87a98" stroke-width="0.55" />
<line x1="379.35" y1="398.6" x2="383.87" y2="398.6" stroke="#6a9be0" stroke-width="1.05" />
<line x1="383.87" y1="398.6" x2="385.8" y2="398.6" stroke="#c87a98" stroke-width="0.55" />
<circle cx="379.35" cy="398.6" r="1.9" fill="url(#gB)" stroke="none" stroke-width="0.5" />
<circle cx="379.35" cy="389.7" r="1.55" fill="url(#gR)" stroke="none" stroke-width="0.5" />
<circle cx="379.35" cy="407.5" r="1.55" fill="url(#gR)" stroke="none" stroke-width="0.5" />
<path d="M392.3,390.4 L398.75,398.6 L392.3,406.8 L385.85,398.6 Z" fill="#abadd4" stroke="#7e80a8" stroke-width="0.55"/>
<path d="M392.3,390.4 L385.85,398.6 L392.3,398.6 Z" fill="#bbbddf" opacity="0.8"/>
<line x1="392.3" y1="398.6" x2="392.3" y2="392.86" stroke="#6a9be0" stroke-width="1.05" />
<line x1="392.3" y1="392.86" x2="392.3" y2="390.4" stroke="#c87a98" stroke-width="0.55" />
<line x1="392.3" y1="398.6" x2="392.3" y2="404.34" stroke="#6a9be0" stroke-width="1.05" />
<line x1="392.3" y1="404.34" x2="392.3" y2="406.8" stroke="#c87a98" stroke-width="0.55" />
<line x1="392.3" y1="398.6" x2="387.79" y2="398.6" stroke="#6a9be0" stroke-width="1.05" />
<line x1="387.79" y1="398.6" x2="385.85" y2="398.6" stroke="#c87a98" stroke-width="0.55" />
<line x1="392.3" y1="398.6" x2="396.81" y2="398.6" stroke="#6a9be0" stroke-width="1.05" />
<line x1="396.81" y1="398.6" x2="398.75" y2="398.6" stroke="#c87a98" stroke-width="0.55" />
<circle cx="392.3" cy="398.6" r="1.9" fill="url(#gB)" stroke="none" stroke-width="0.5" />
<circle cx="392.3" cy="389.7" r="1.55" fill="url(#gR)" stroke="none" stroke-width="0.5" />
<circle cx="392.3" cy="407.5" r="1.55" fill="url(#gR)" stroke="none" stroke-width="0.5" />
<path d="M405.25,390.4 L411.7,398.6 L405.25,406.8 L398.8,398.6 Z" fill="#abadd4" stroke="#7e80a8" stroke-width="0.55"/>
<path d="M405.25,390.4 L398.8,398.6 L405.25,398.6 Z" fill="#bbbddf" opacity="0.8"/>
<line x1="405.25" y1="398.6" x2="405.25" y2="392.86" stroke="#6a9be0" stroke-width="1.05" />
<line x1="405.25" y1="392.86" x2="405.25" y2="390.4" stroke="#c87a98" stroke-width="0.55" />
<line x1="405.25" y1="398.6" x2="405.25" y2="404.34" stroke="#6a9be0" stroke-width="1.05" />
<line x1="405.25" y1="404.34" x2="405.25" y2="406.8" stroke="#c87a98" stroke-width="0.55" />
<line x1="405.25" y1="398.6" x2="400.74" y2="398.6" stroke="#6a9be0" stroke-width="1.05" />
<line x1="400.74" y1="398.6" x2="398.8" y2="398.6" stroke="#c87a98" stroke-width="0.55" />
<line x1="405.25" y1="398.6" x2="409.76" y2="398.6" stroke="#6a9be0" stroke-width="1.05" />
<line x1="409.76" y1="398.6" x2="411.7" y2="398.6" stroke="#c87a98" stroke-width="0.55" />
<circle cx="405.25" cy="398.6" r="1.9" fill="url(#gB)" stroke="none" stroke-width="0.5" />
<circle cx="405.25" cy="389.7" r="1.55" fill="url(#gR)" stroke="none" stroke-width="0.5" />
<circle cx="405.25" cy="407.5" r="1.55" fill="url(#gR)" stroke="none" stroke-width="0.5" />
<line x1="334.02" y1="397.1" x2="334.02" y2="400.4" stroke="#a03040" stroke-width="0.8" />
<circle cx="334.02" cy="397.1" r="1.5" fill="url(#gR)" stroke="none" stroke-width="0.5" />
<circle cx="334.02" cy="400.4" r="1.5" fill="url(#gR)" stroke="none" stroke-width="0.5" />
<line x1="346.97" y1="397.1" x2="346.97" y2="400.4" stroke="#a03040" stroke-width="0.8" />
<circle cx="346.97" cy="397.1" r="1.5" fill="url(#gR)" stroke="none" stroke-width="0.5" />
<circle cx="346.97" cy="400.4" r="1.5" fill="url(#gR)" stroke="none" stroke-width="0.5" />
<line x1="359.92" y1="397.1" x2="359.92" y2="400.4" stroke="#a03040" stroke-width="0.8" />
<circle cx="359.92" cy="397.1" r="1.5" fill="url(#gR)" stroke="none" stroke-width="0.5" />
<circle cx="359.92" cy="400.4" r="1.5" fill="url(#gR)" stroke="none" stroke-width="0.5" />
<line x1="372.88" y1="397.1" x2="372.88" y2="400.4" stroke="#a03040" stroke-width="0.8" />
<circle cx="372.88" cy="397.1" r="1.5" fill="url(#gR)" stroke="none" stroke-width="0.5" />
<circle cx="372.88" cy="400.4" r="1.5" fill="url(#gR)" stroke="none" stroke-width="0.5" />
<line x1="385.82" y1="397.1" x2="385.82" y2="400.4" stroke="#a03040" stroke-width="0.8" />
<circle cx="385.82" cy="397.1" r="1.5" fill="url(#gR)" stroke="none" stroke-width="0.5" />
<circle cx="385.82" cy="400.4" r="1.5" fill="url(#gR)" stroke="none" stroke-width="0.5" />
<line x1="398.77" y1="397.1" x2="398.77" y2="400.4" stroke="#a03040" stroke-width="0.8" />
<circle cx="398.77" cy="397.1" r="1.5" fill="url(#gR)" stroke="none" stroke-width="0.5" />
<circle cx="398.77" cy="400.4" r="1.5" fill="url(#gR)" stroke="none" stroke-width="0.5" />
<line x1="411.72" y1="397.1" x2="411.72" y2="400.4" stroke="#a03040" stroke-width="0.8" />
<circle cx="411.72" cy="397.1" r="1.5" fill="url(#gR)" stroke="none" stroke-width="0.5" />
<circle cx="411.72" cy="400.4" r="1.5" fill="url(#gR)" stroke="none" stroke-width="0.5" />
<text transform="translate(340.1,420.8) skewX(-12) scale(0.74,1)" font-size="7.0" text-anchor="middle" font-weight="bold" font-family='"Liberation Serif", serif' fill="#111" stroke="#111" stroke-width="0.35">IV</text>
<text transform="translate(353.05,420.8) skewX(-12) scale(0.58,1)" font-size="7.0" text-anchor="middle" font-weight="bold" font-family='"Liberation Serif", serif' fill="#111" stroke="#111" stroke-width="0.35">III</text>
<text transform="translate(366,420.8) skewX(-12) scale(0.74,1)" font-size="7.0" text-anchor="middle" font-weight="bold" font-family='"Liberation Serif", serif' fill="#111" stroke="#111" stroke-width="0.35">IV</text>
<text transform="translate(378.95,420.8) skewX(-12) scale(0.58,1)" font-size="7.0" text-anchor="middle" font-weight="bold" font-family='"Liberation Serif", serif' fill="#111" stroke="#111" stroke-width="0.35">III</text>
<text transform="translate(391.9,420.8) skewX(-12) scale(0.74,1)" font-size="7.0" text-anchor="middle" font-weight="bold" font-family='"Liberation Serif", serif' fill="#111" stroke="#111" stroke-width="0.35">IV</text>
<text transform="translate(404.85,420.8) skewX(-12) scale(0.74,1)" font-size="7.0" text-anchor="middle" font-weight="bold" font-family='"Liberation Serif", serif' fill="#111" stroke="#111" stroke-width="0.35">IV</text>
<text x="327.5" y="434.9" font-size="9.0" fill="#4a73c9" stroke="#4a73c9" stroke-width="0.2">Mn<tspan font-size="5.8" dy="-3.3">2+</tspan><tspan dy="3.3"> Electrooxidation</tspan></text>
<rect x="462.7" y="412.9" width="92" height="14.3" fill="#efefef" stroke="none" stroke-width="1" />
<rect x="462.7" y="427.2" width="92" height="8.6" fill="url(#gBar)" stroke="none" stroke-width="1" />
<path d="M473.3,390.4 L479.75,398.6 L473.3,406.8 L466.85,398.6 Z" fill="#abadd4" stroke="#7e80a8" stroke-width="0.55"/>
<path d="M473.3,390.4 L466.85,398.6 L473.3,398.6 Z" fill="#bbbddf" opacity="0.8"/>
<line x1="473.3" y1="398.6" x2="473.3" y2="392.86" stroke="#6a9be0" stroke-width="1.05" />
<line x1="473.3" y1="392.86" x2="473.3" y2="390.4" stroke="#c87a98" stroke-width="0.55" />
<line x1="473.3" y1="398.6" x2="473.3" y2="404.34" stroke="#6a9be0" stroke-width="1.05" />
<line x1="473.3" y1="404.34" x2="473.3" y2="406.8" stroke="#c87a98" stroke-width="0.55" />
<line x1="473.3" y1="398.6" x2="468.79" y2="398.6" stroke="#6a9be0" stroke-width="1.05" />
<line x1="468.79" y1="398.6" x2="466.85" y2="398.6" stroke="#c87a98" stroke-width="0.55" />
<line x1="473.3" y1="398.6" x2="477.81" y2="398.6" stroke="#6a9be0" stroke-width="1.05" />
<line x1="477.81" y1="398.6" x2="479.75" y2="398.6" stroke="#c87a98" stroke-width="0.55" />
<circle cx="473.3" cy="398.6" r="1.9" fill="url(#gB)" stroke="none" stroke-width="0.5" />
<circle cx="473.3" cy="389.7" r="1.55" fill="url(#gR)" stroke="none" stroke-width="0.5" />
<circle cx="473.3" cy="407.5" r="1.55" fill="url(#gR)" stroke="none" stroke-width="0.5" />
<path d="M486.25,390.4 L492.7,398.6 L486.25,406.8 L479.8,398.6 Z" fill="#a4a4d2" stroke="#7e80a8" stroke-width="0.55"/>
<path d="M499.2,390.4 L505.65,398.6 L499.2,406.8 L492.75,398.6 Z" fill="#abadd4" stroke="#7e80a8" stroke-width="0.55"/>
<path d="M499.2,390.4 L492.75,398.6 L499.2,398.6 Z" fill="#bbbddf" opacity="0.8"/>
<line x1="499.2" y1="398.6" x2="499.2" y2="392.86" stroke="#6a9be0" stroke-width="1.05" />
<line x1="499.2" y1="392.86" x2="499.2" y2="390.4" stroke="#c87a98" stroke-width="0.55" />
<line x1="499.2" y1="398.6" x2="499.2" y2="404.34" stroke="#6a9be0" stroke-width="1.05" />
<line x1="499.2" y1="404.34" x2="499.2" y2="406.8" stroke="#c87a98" stroke-width="0.55" />
<line x1="499.2" y1="398.6" x2="494.69" y2="398.6" stroke="#6a9be0" stroke-width="1.05" />
<line x1="494.69" y1="398.6" x2="492.75" y2="398.6" stroke="#c87a98" stroke-width="0.55" />
<line x1="499.2" y1="398.6" x2="503.71" y2="398.6" stroke="#6a9be0" stroke-width="1.05" />
<line x1="503.71" y1="398.6" x2="505.65" y2="398.6" stroke="#c87a98" stroke-width="0.55" />
<circle cx="499.2" cy="398.6" r="1.9" fill="url(#gB)" stroke="none" stroke-width="0.5" />
<circle cx="499.2" cy="389.7" r="1.55" fill="url(#gR)" stroke="none" stroke-width="0.5" />
<circle cx="499.2" cy="407.5" r="1.55" fill="url(#gR)" stroke="none" stroke-width="0.5" />
<path d="M512.15,390.4 L518.6,398.6 L512.15,406.8 L505.7,398.6 Z" fill="#a4a4d2" stroke="#7e80a8" stroke-width="0.55"/>
<path d="M525.1,390.4 L531.55,398.6 L525.1,406.8 L518.65,398.6 Z" fill="#abadd4" stroke="#7e80a8" stroke-width="0.55"/>
<path d="M525.1,390.4 L518.65,398.6 L525.1,398.6 Z" fill="#bbbddf" opacity="0.8"/>
<line x1="525.1" y1="398.6" x2="525.1" y2="392.86" stroke="#6a9be0" stroke-width="1.05" />
<line x1="525.1" y1="392.86" x2="525.1" y2="390.4" stroke="#c87a98" stroke-width="0.55" />
<line x1="525.1" y1="398.6" x2="525.1" y2="404.34" stroke="#6a9be0" stroke-width="1.05" />
<line x1="525.1" y1="404.34" x2="525.1" y2="406.8" stroke="#c87a98" stroke-width="0.55" />
<line x1="525.1" y1="398.6" x2="520.59" y2="398.6" stroke="#6a9be0" stroke-width="1.05" />
<line x1="520.59" y1="398.6" x2="518.65" y2="398.6" stroke="#c87a98" stroke-width="0.55" />
<line x1="525.1" y1="398.6" x2="529.62" y2="398.6" stroke="#6a9be0" stroke-width="1.05" />
<line x1="529.62" y1="398.6" x2="531.55" y2="398.6" stroke="#c87a98" stroke-width="0.55" />
<circle cx="525.1" cy="398.6" r="1.9" fill="url(#gB)" stroke="none" stroke-width="0.5" />
<circle cx="525.1" cy="389.7" r="1.55" fill="url(#gR)" stroke="none" stroke-width="0.5" />
<circle cx="525.1" cy="407.5" r="1.55" fill="url(#gR)" stroke="none" stroke-width="0.5" />
<path d="M538.05,390.4 L544.5,398.6 L538.05,406.8 L531.6,398.6 Z" fill="#abadd4" stroke="#7e80a8" stroke-width="0.55"/>
<path d="M538.05,390.4 L531.6,398.6 L538.05,398.6 Z" fill="#bbbddf" opacity="0.8"/>
<line x1="538.05" y1="398.6" x2="538.05" y2="392.86" stroke="#6a9be0" stroke-width="1.05" />
<line x1="538.05" y1="392.86" x2="538.05" y2="390.4" stroke="#c87a98" stroke-width="0.55" />
<line x1="538.05" y1="398.6" x2="538.05" y2="404.34" stroke="#6a9be0" stroke-width="1.05" />
<line x1="538.05" y1="404.34" x2="538.05" y2="406.8" stroke="#c87a98" stroke-width="0.55" />
<line x1="538.05" y1="398.6" x2="533.53" y2="398.6" stroke="#6a9be0" stroke-width="1.05" />
<line x1="533.53" y1="398.6" x2="531.6" y2="398.6" stroke="#c87a98" stroke-width="0.55" />
<line x1="538.05" y1="398.6" x2="542.56" y2="398.6" stroke="#6a9be0" stroke-width="1.05" />
<line x1="542.56" y1="398.6" x2="544.5" y2="398.6" stroke="#c87a98" stroke-width="0.55" />
<circle cx="538.05" cy="398.6" r="1.9" fill="url(#gB)" stroke="none" stroke-width="0.5" />
<circle cx="538.05" cy="389.7" r="1.55" fill="url(#gR)" stroke="none" stroke-width="0.5" />
<circle cx="538.05" cy="407.5" r="1.55" fill="url(#gR)" stroke="none" stroke-width="0.5" />
<line x1="466.82" y1="397.1" x2="466.82" y2="400.4" stroke="#a03040" stroke-width="0.8" />
<circle cx="466.82" cy="397.1" r="1.5" fill="url(#gR)" stroke="none" stroke-width="0.5" />
<circle cx="466.82" cy="400.4" r="1.5" fill="url(#gR)" stroke="none" stroke-width="0.5" />
<line x1="479.77" y1="397.1" x2="479.77" y2="400.4" stroke="#a03040" stroke-width="0.8" />
<circle cx="479.77" cy="397.1" r="1.5" fill="url(#gR)" stroke="none" stroke-width="0.5" />
<circle cx="479.77" cy="400.4" r="1.5" fill="url(#gR)" stroke="none" stroke-width="0.5" />
<line x1="492.72" y1="397.1" x2="492.72" y2="400.4" stroke="#a03040" stroke-width="0.8" />
<circle cx="492.72" cy="397.1" r="1.5" fill="url(#gR)" stroke="none" stroke-width="0.5" />
<circle cx="492.72" cy="400.4" r="1.5" fill="url(#gR)" stroke="none" stroke-width="0.5" />
<line x1="505.67" y1="397.1" x2="505.67" y2="400.4" stroke="#a03040" stroke-width="0.8" />
<circle cx="505.67" cy="397.1" r="1.5" fill="url(#gR)" stroke="none" stroke-width="0.5" />
<circle cx="505.67" cy="400.4" r="1.5" fill="url(#gR)" stroke="none" stroke-width="0.5" />
<line x1="518.62" y1="397.1" x2="518.62" y2="400.4" stroke="#a03040" stroke-width="0.8" />
<circle cx="518.62" cy="397.1" r="1.5" fill="url(#gR)" stroke="none" stroke-width="0.5" />
<circle cx="518.62" cy="400.4" r="1.5" fill="url(#gR)" stroke="none" stroke-width="0.5" />
<line x1="531.58" y1="397.1" x2="531.58" y2="400.4" stroke="#a03040" stroke-width="0.8" />
<circle cx="531.58" cy="397.1" r="1.5" fill="url(#gR)" stroke="none" stroke-width="0.5" />
<circle cx="531.58" cy="400.4" r="1.5" fill="url(#gR)" stroke="none" stroke-width="0.5" />
<line x1="544.52" y1="397.1" x2="544.52" y2="400.4" stroke="#a03040" stroke-width="0.8" />
<circle cx="544.52" cy="397.1" r="1.5" fill="url(#gR)" stroke="none" stroke-width="0.5" />
<circle cx="544.52" cy="400.4" r="1.5" fill="url(#gR)" stroke="none" stroke-width="0.5" />
<text transform="translate(472.9,422.8) skewX(-12) scale(0.74,1)" font-size="7.0" text-anchor="middle" font-weight="bold" font-family='"Liberation Serif", serif' fill="#111" stroke="#111" stroke-width="0.35">IV</text>
<text transform="translate(485.85,422.8) skewX(-12) scale(0.66,1)" font-size="7.0" text-anchor="middle" font-weight="bold" font-family='"Liberation Serif", serif' fill="#111" stroke="#111" stroke-width="0.35">II</text>
<text transform="translate(498.8,422.8) skewX(-12) scale(0.74,1)" font-size="7.0" text-anchor="middle" font-weight="bold" font-family='"Liberation Serif", serif' fill="#111" stroke="#111" stroke-width="0.35">IV</text>
<text transform="translate(511.75,422.8) skewX(-12) scale(0.66,1)" font-size="7.0" text-anchor="middle" font-weight="bold" font-family='"Liberation Serif", serif' fill="#111" stroke="#111" stroke-width="0.35">II</text>
<text transform="translate(524.7,422.8) skewX(-12) scale(0.74,1)" font-size="7.0" text-anchor="middle" font-weight="bold" font-family='"Liberation Serif", serif' fill="#111" stroke="#111" stroke-width="0.35">IV</text>
<text transform="translate(537.65,422.8) skewX(-12) scale(0.74,1)" font-size="7.0" text-anchor="middle" font-weight="bold" font-family='"Liberation Serif", serif' fill="#111" stroke="#111" stroke-width="0.35">IV</text>
<text x="508.1" y="434.8" font-size="9" text-anchor="middle" fill="#4a73c9"  stroke="#4a73c9" stroke-width="0.2">Disproportionation</text>
<rect x="583.4" y="332" width="87.3" height="14.8" fill="#efefef" stroke="none" stroke-width="1" />
<rect x="583.4" y="346.8" width="87.3" height="9.6" fill="url(#gBar)" stroke="none" stroke-width="1" />
<path d="M595.7,311.4 L602.15,319.6 L595.7,327.8 L589.25,319.6 Z" fill="#abadd4" stroke="#7e80a8" stroke-width="0.55"/>
<path d="M595.7,311.4 L589.25,319.6 L595.7,319.6 Z" fill="#bbbddf" opacity="0.8"/>
<line x1="595.7" y1="319.6" x2="595.7" y2="313.86" stroke="#6a9be0" stroke-width="1.05" />
<line x1="595.7" y1="313.86" x2="595.7" y2="311.4" stroke="#c87a98" stroke-width="0.55" />
<line x1="595.7" y1="319.6" x2="595.7" y2="325.34" stroke="#6a9be0" stroke-width="1.05" />
<line x1="595.7" y1="325.34" x2="595.7" y2="327.8" stroke="#c87a98" stroke-width="0.55" />
<line x1="595.7" y1="319.6" x2="591.19" y2="319.6" stroke="#6a9be0" stroke-width="1.05" />
<line x1="591.19" y1="319.6" x2="589.25" y2="319.6" stroke="#c87a98" stroke-width="0.55" />
<line x1="595.7" y1="319.6" x2="600.22" y2="319.6" stroke="#6a9be0" stroke-width="1.05" />
<line x1="600.22" y1="319.6" x2="602.15" y2="319.6" stroke="#c87a98" stroke-width="0.55" />
<circle cx="595.7" cy="319.6" r="1.9" fill="url(#gB)" stroke="none" stroke-width="0.5" />
<circle cx="595.7" cy="310.7" r="1.55" fill="url(#gR)" stroke="none" stroke-width="0.5" />
<circle cx="595.7" cy="328.5" r="1.55" fill="url(#gR)" stroke="none" stroke-width="0.5" />
<path d="M608.65,311.4 L615.1,319.6 L608.65,327.8 L602.2,319.6 Z" fill="#abadd4" stroke="#7e80a8" stroke-width="0.55"/>
<path d="M608.65,311.4 L602.2,319.6 L608.65,319.6 Z" fill="#bbbddf" opacity="0.8"/>
<line x1="608.65" y1="319.6" x2="608.65" y2="313.86" stroke="#6a9be0" stroke-width="1.05" />
<line x1="608.65" y1="313.86" x2="608.65" y2="311.4" stroke="#c87a98" stroke-width="0.55" />
<line x1="608.65" y1="319.6" x2="608.65" y2="325.34" stroke="#6a9be0" stroke-width="1.05" />
<line x1="608.65" y1="325.34" x2="608.65" y2="327.8" stroke="#c87a98" stroke-width="0.55" />
<line x1="608.65" y1="319.6" x2="604.14" y2="319.6" stroke="#6a9be0" stroke-width="1.05" />
<line x1="604.14" y1="319.6" x2="602.2" y2="319.6" stroke="#c87a98" stroke-width="0.55" />
<line x1="608.65" y1="319.6" x2="613.17" y2="319.6" stroke="#6a9be0" stroke-width="1.05" />
<line x1="613.17" y1="319.6" x2="615.1" y2="319.6" stroke="#c87a98" stroke-width="0.55" />
<circle cx="608.65" cy="319.6" r="1.9" fill="url(#gB)" stroke="none" stroke-width="0.5" />
<circle cx="608.65" cy="310.7" r="1.55" fill="url(#gR)" stroke="none" stroke-width="0.5" />
<circle cx="608.65" cy="328.5" r="1.55" fill="url(#gR)" stroke="none" stroke-width="0.5" />
<path d="M621.6,311.4 L628.05,319.6 L621.6,327.8 L615.15,319.6 Z" fill="#abadd4" stroke="#7e80a8" stroke-width="0.55"/>
<path d="M621.6,311.4 L615.15,319.6 L621.6,319.6 Z" fill="#bbbddf" opacity="0.8"/>
<line x1="621.6" y1="319.6" x2="621.6" y2="313.86" stroke="#6a9be0" stroke-width="1.05" />
<line x1="621.6" y1="313.86" x2="621.6" y2="311.4" stroke="#c87a98" stroke-width="0.55" />
<line x1="621.6" y1="319.6" x2="621.6" y2="325.34" stroke="#6a9be0" stroke-width="1.05" />
<line x1="621.6" y1="325.34" x2="621.6" y2="327.8" stroke="#c87a98" stroke-width="0.55" />
<line x1="621.6" y1="319.6" x2="617.09" y2="319.6" stroke="#6a9be0" stroke-width="1.05" />
<line x1="617.09" y1="319.6" x2="615.15" y2="319.6" stroke="#c87a98" stroke-width="0.55" />
<line x1="621.6" y1="319.6" x2="626.12" y2="319.6" stroke="#6a9be0" stroke-width="1.05" />
<line x1="626.12" y1="319.6" x2="628.05" y2="319.6" stroke="#c87a98" stroke-width="0.55" />
<circle cx="621.6" cy="319.6" r="1.9" fill="url(#gB)" stroke="none" stroke-width="0.5" />
<circle cx="621.6" cy="310.7" r="1.55" fill="url(#gR)" stroke="none" stroke-width="0.5" />
<circle cx="621.6" cy="328.5" r="1.55" fill="url(#gR)" stroke="none" stroke-width="0.5" />
<path d="M634.55,311.4 L641,319.6 L634.55,327.8 L628.1,319.6 Z" fill="#abadd4" stroke="#7e80a8" stroke-width="0.55"/>
<path d="M634.55,311.4 L628.1,319.6 L634.55,319.6 Z" fill="#bbbddf" opacity="0.8"/>
<line x1="634.55" y1="319.6" x2="634.55" y2="313.86" stroke="#6a9be0" stroke-width="1.05" />
<line x1="634.55" y1="313.86" x2="634.55" y2="311.4" stroke="#c87a98" stroke-width="0.55" />
<line x1="634.55" y1="319.6" x2="634.55" y2="325.34" stroke="#6a9be0" stroke-width="1.05" />
<line x1="634.55" y1="325.34" x2="634.55" y2="327.8" stroke="#c87a98" stroke-width="0.55" />
<line x1="634.55" y1="319.6" x2="630.04" y2="319.6" stroke="#6a9be0" stroke-width="1.05" />
<line x1="630.04" y1="319.6" x2="628.1" y2="319.6" stroke="#c87a98" stroke-width="0.55" />
<line x1="634.55" y1="319.6" x2="639.07" y2="319.6" stroke="#6a9be0" stroke-width="1.05" />
<line x1="639.07" y1="319.6" x2="641" y2="319.6" stroke="#c87a98" stroke-width="0.55" />
<circle cx="634.55" cy="319.6" r="1.9" fill="url(#gB)" stroke="none" stroke-width="0.5" />
<circle cx="634.55" cy="310.7" r="1.55" fill="url(#gR)" stroke="none" stroke-width="0.5" />
<circle cx="634.55" cy="328.5" r="1.55" fill="url(#gR)" stroke="none" stroke-width="0.5" />
<path d="M647.5,311.4 L653.95,319.6 L647.5,327.8 L641.05,319.6 Z" fill="#abadd4" stroke="#7e80a8" stroke-width="0.55"/>
<path d="M647.5,311.4 L641.05,319.6 L647.5,319.6 Z" fill="#bbbddf" opacity="0.8"/>
<line x1="647.5" y1="319.6" x2="647.5" y2="313.86" stroke="#6a9be0" stroke-width="1.05" />
<line x1="647.5" y1="313.86" x2="647.5" y2="311.4" stroke="#c87a98" stroke-width="0.55" />
<line x1="647.5" y1="319.6" x2="647.5" y2="325.34" stroke="#6a9be0" stroke-width="1.05" />
<line x1="647.5" y1="325.34" x2="647.5" y2="327.8" stroke="#c87a98" stroke-width="0.55" />
<line x1="647.5" y1="319.6" x2="642.99" y2="319.6" stroke="#6a9be0" stroke-width="1.05" />
<line x1="642.99" y1="319.6" x2="641.05" y2="319.6" stroke="#c87a98" stroke-width="0.55" />
<line x1="647.5" y1="319.6" x2="652.01" y2="319.6" stroke="#6a9be0" stroke-width="1.05" />
<line x1="652.01" y1="319.6" x2="653.95" y2="319.6" stroke="#c87a98" stroke-width="0.55" />
<circle cx="647.5" cy="319.6" r="1.9" fill="url(#gB)" stroke="none" stroke-width="0.5" />
<circle cx="647.5" cy="310.7" r="1.55" fill="url(#gR)" stroke="none" stroke-width="0.5" />
<circle cx="647.5" cy="328.5" r="1.55" fill="url(#gR)" stroke="none" stroke-width="0.5" />
<path d="M660.45,311.4 L666.9,319.6 L660.45,327.8 L654,319.6 Z" fill="#abadd4" stroke="#7e80a8" stroke-width="0.55"/>
<path d="M660.45,311.4 L654,319.6 L660.45,319.6 Z" fill="#bbbddf" opacity="0.8"/>
<line x1="660.45" y1="319.6" x2="660.45" y2="313.86" stroke="#6a9be0" stroke-width="1.05" />
<line x1="660.45" y1="313.86" x2="660.45" y2="311.4" stroke="#c87a98" stroke-width="0.55" />
<line x1="660.45" y1="319.6" x2="660.45" y2="325.34" stroke="#6a9be0" stroke-width="1.05" />
<line x1="660.45" y1="325.34" x2="660.45" y2="327.8" stroke="#c87a98" stroke-width="0.55" />
<line x1="660.45" y1="319.6" x2="655.94" y2="319.6" stroke="#6a9be0" stroke-width="1.05" />
<line x1="655.94" y1="319.6" x2="654" y2="319.6" stroke="#c87a98" stroke-width="0.55" />
<line x1="660.45" y1="319.6" x2="664.97" y2="319.6" stroke="#6a9be0" stroke-width="1.05" />
<line x1="664.97" y1="319.6" x2="666.9" y2="319.6" stroke="#c87a98" stroke-width="0.55" />
<circle cx="660.45" cy="319.6" r="1.9" fill="url(#gB)" stroke="none" stroke-width="0.5" />
<circle cx="660.45" cy="310.7" r="1.55" fill="url(#gR)" stroke="none" stroke-width="0.5" />
<circle cx="660.45" cy="328.5" r="1.55" fill="url(#gR)" stroke="none" stroke-width="0.5" />
<line x1="589.23" y1="318.1" x2="589.23" y2="321.4" stroke="#a03040" stroke-width="0.8" />
<circle cx="589.23" cy="318.1" r="1.5" fill="url(#gR)" stroke="none" stroke-width="0.5" />
<circle cx="589.23" cy="321.4" r="1.5" fill="url(#gR)" stroke="none" stroke-width="0.5" />
<line x1="602.18" y1="318.1" x2="602.18" y2="321.4" stroke="#a03040" stroke-width="0.8" />
<circle cx="602.18" cy="318.1" r="1.5" fill="url(#gR)" stroke="none" stroke-width="0.5" />
<circle cx="602.18" cy="321.4" r="1.5" fill="url(#gR)" stroke="none" stroke-width="0.5" />
<line x1="615.12" y1="318.1" x2="615.12" y2="321.4" stroke="#a03040" stroke-width="0.8" />
<circle cx="615.12" cy="318.1" r="1.5" fill="url(#gR)" stroke="none" stroke-width="0.5" />
<circle cx="615.12" cy="321.4" r="1.5" fill="url(#gR)" stroke="none" stroke-width="0.5" />
<line x1="628.08" y1="318.1" x2="628.08" y2="321.4" stroke="#a03040" stroke-width="0.8" />
<circle cx="628.08" cy="318.1" r="1.5" fill="url(#gR)" stroke="none" stroke-width="0.5" />
<circle cx="628.08" cy="321.4" r="1.5" fill="url(#gR)" stroke="none" stroke-width="0.5" />
<line x1="641.02" y1="318.1" x2="641.02" y2="321.4" stroke="#a03040" stroke-width="0.8" />
<circle cx="641.02" cy="318.1" r="1.5" fill="url(#gR)" stroke="none" stroke-width="0.5" />
<circle cx="641.02" cy="321.4" r="1.5" fill="url(#gR)" stroke="none" stroke-width="0.5" />
<line x1="653.98" y1="318.1" x2="653.98" y2="321.4" stroke="#a03040" stroke-width="0.8" />
<circle cx="653.98" cy="318.1" r="1.5" fill="url(#gR)" stroke="none" stroke-width="0.5" />
<circle cx="653.98" cy="321.4" r="1.5" fill="url(#gR)" stroke="none" stroke-width="0.5" />
<line x1="666.92" y1="318.1" x2="666.92" y2="321.4" stroke="#a03040" stroke-width="0.8" />
<circle cx="666.92" cy="318.1" r="1.5" fill="url(#gR)" stroke="none" stroke-width="0.5" />
<circle cx="666.92" cy="321.4" r="1.5" fill="url(#gR)" stroke="none" stroke-width="0.5" />
<text transform="translate(595.3,341.9) skewX(-12) scale(0.74,1)" font-size="7.0" text-anchor="middle" font-weight="bold" font-family='"Liberation Serif", serif' fill="#111" stroke="#111" stroke-width="0.35">IV</text>
<text transform="translate(608.25,341.9) skewX(-12) scale(0.74,1)" font-size="7.0" text-anchor="middle" font-weight="bold" font-family='"Liberation Serif", serif' fill="#111" stroke="#111" stroke-width="0.35">IV</text>
<text transform="translate(621.2,341.9) skewX(-12) scale(0.74,1)" font-size="7.0" text-anchor="middle" font-weight="bold" font-family='"Liberation Serif", serif' fill="#111" stroke="#111" stroke-width="0.35">IV</text>
<text transform="translate(634.15,341.9) skewX(-12) scale(0.74,1)" font-size="7.0" text-anchor="middle" font-weight="bold" font-family='"Liberation Serif", serif' fill="#111" stroke="#111" stroke-width="0.35">IV</text>
<text transform="translate(647.1,341.9) skewX(-12) scale(0.74,1)" font-size="7.0" text-anchor="middle" font-weight="bold" font-family='"Liberation Serif", serif' fill="#111" stroke="#111" stroke-width="0.35">IV</text>
<text transform="translate(660.05,341.9) skewX(-12) scale(0.74,1)" font-size="7.0" text-anchor="middle" font-weight="bold" font-family='"Liberation Serif", serif' fill="#111" stroke="#111" stroke-width="0.35">IV</text>
<text x="626.65" y="355.4" font-size="9" text-anchor="middle" fill="#4a73c9"  stroke="#4a73c9" stroke-width="0.2">Electrooxidation</text>
<rect x="581.4" y="411.5" width="88.3" height="14.7" fill="#efefef" stroke="none" stroke-width="1" />
<rect x="581.4" y="426.2" width="88.3" height="9.6" fill="url(#gBar)" stroke="none" stroke-width="1" />
<path d="M594,389.4 L600.45,397.6 L594,405.8 L587.55,397.6 Z" fill="#abadd4" stroke="#7e80a8" stroke-width="0.55"/>
<path d="M594,389.4 L587.55,397.6 L594,397.6 Z" fill="#bbbddf" opacity="0.8"/>
<line x1="594" y1="397.6" x2="594" y2="391.86" stroke="#6a9be0" stroke-width="1.05" />
<line x1="594" y1="391.86" x2="594" y2="389.4" stroke="#c87a98" stroke-width="0.55" />
<line x1="594" y1="397.6" x2="594" y2="403.34" stroke="#6a9be0" stroke-width="1.05" />
<line x1="594" y1="403.34" x2="594" y2="405.8" stroke="#c87a98" stroke-width="0.55" />
<line x1="594" y1="397.6" x2="589.49" y2="397.6" stroke="#6a9be0" stroke-width="1.05" />
<line x1="589.49" y1="397.6" x2="587.55" y2="397.6" stroke="#c87a98" stroke-width="0.55" />
<line x1="594" y1="397.6" x2="598.51" y2="397.6" stroke="#6a9be0" stroke-width="1.05" />
<line x1="598.51" y1="397.6" x2="600.45" y2="397.6" stroke="#c87a98" stroke-width="0.55" />
<circle cx="594" cy="397.6" r="1.9" fill="url(#gB)" stroke="none" stroke-width="0.5" />
<circle cx="594" cy="388.7" r="1.55" fill="url(#gR)" stroke="none" stroke-width="0.5" />
<circle cx="594" cy="406.5" r="1.55" fill="url(#gR)" stroke="none" stroke-width="0.5" />
<path d="M606.95,389.4 L613.4,397.6 L606.95,405.8 L600.5,397.6 Z" fill="#abadd4" stroke="#7e80a8" stroke-width="0.55"/>
<path d="M606.95,389.4 L600.5,397.6 L606.95,397.6 Z" fill="#bbbddf" opacity="0.8"/>
<line x1="606.95" y1="397.6" x2="606.95" y2="391.86" stroke="#6a9be0" stroke-width="1.05" />
<line x1="606.95" y1="391.86" x2="606.95" y2="389.4" stroke="#c87a98" stroke-width="0.55" />
<line x1="606.95" y1="397.6" x2="606.95" y2="403.34" stroke="#6a9be0" stroke-width="1.05" />
<line x1="606.95" y1="403.34" x2="606.95" y2="405.8" stroke="#c87a98" stroke-width="0.55" />
<line x1="606.95" y1="397.6" x2="602.44" y2="397.6" stroke="#6a9be0" stroke-width="1.05" />
<line x1="602.44" y1="397.6" x2="600.5" y2="397.6" stroke="#c87a98" stroke-width="0.55" />
<line x1="606.95" y1="397.6" x2="611.47" y2="397.6" stroke="#6a9be0" stroke-width="1.05" />
<line x1="611.47" y1="397.6" x2="613.4" y2="397.6" stroke="#c87a98" stroke-width="0.55" />
<circle cx="606.95" cy="397.6" r="1.9" fill="url(#gB)" stroke="none" stroke-width="0.5" />
<circle cx="606.95" cy="388.7" r="1.55" fill="url(#gR)" stroke="none" stroke-width="0.5" />
<circle cx="606.95" cy="406.5" r="1.55" fill="url(#gR)" stroke="none" stroke-width="0.5" />
<path d="M619.9,389.4 L626.35,397.6 L619.9,405.8 L613.45,397.6 Z" fill="#abadd4" stroke="#7e80a8" stroke-width="0.55"/>
<path d="M619.9,389.4 L613.45,397.6 L619.9,397.6 Z" fill="#bbbddf" opacity="0.8"/>
<line x1="619.9" y1="397.6" x2="619.9" y2="391.86" stroke="#6a9be0" stroke-width="1.05" />
<line x1="619.9" y1="391.86" x2="619.9" y2="389.4" stroke="#c87a98" stroke-width="0.55" />
<line x1="619.9" y1="397.6" x2="619.9" y2="403.34" stroke="#6a9be0" stroke-width="1.05" />
<line x1="619.9" y1="403.34" x2="619.9" y2="405.8" stroke="#c87a98" stroke-width="0.55" />
<line x1="619.9" y1="397.6" x2="615.38" y2="397.6" stroke="#6a9be0" stroke-width="1.05" />
<line x1="615.38" y1="397.6" x2="613.45" y2="397.6" stroke="#c87a98" stroke-width="0.55" />
<line x1="619.9" y1="397.6" x2="624.41" y2="397.6" stroke="#6a9be0" stroke-width="1.05" />
<line x1="624.41" y1="397.6" x2="626.35" y2="397.6" stroke="#c87a98" stroke-width="0.55" />
<circle cx="619.9" cy="397.6" r="1.9" fill="url(#gB)" stroke="none" stroke-width="0.5" />
<circle cx="619.9" cy="388.7" r="1.55" fill="url(#gR)" stroke="none" stroke-width="0.5" />
<circle cx="619.9" cy="406.5" r="1.55" fill="url(#gR)" stroke="none" stroke-width="0.5" />
<path d="M632.85,389.4 L639.3,397.6 L632.85,405.8 L626.4,397.6 Z" fill="#abadd4" stroke="#7e80a8" stroke-width="0.55"/>
<path d="M632.85,389.4 L626.4,397.6 L632.85,397.6 Z" fill="#bbbddf" opacity="0.8"/>
<line x1="632.85" y1="397.6" x2="632.85" y2="391.86" stroke="#6a9be0" stroke-width="1.05" />
<line x1="632.85" y1="391.86" x2="632.85" y2="389.4" stroke="#c87a98" stroke-width="0.55" />
<line x1="632.85" y1="397.6" x2="632.85" y2="403.34" stroke="#6a9be0" stroke-width="1.05" />
<line x1="632.85" y1="403.34" x2="632.85" y2="405.8" stroke="#c87a98" stroke-width="0.55" />
<line x1="632.85" y1="397.6" x2="628.34" y2="397.6" stroke="#6a9be0" stroke-width="1.05" />
<line x1="628.34" y1="397.6" x2="626.4" y2="397.6" stroke="#c87a98" stroke-width="0.55" />
<line x1="632.85" y1="397.6" x2="637.37" y2="397.6" stroke="#6a9be0" stroke-width="1.05" />
<line x1="637.37" y1="397.6" x2="639.3" y2="397.6" stroke="#c87a98" stroke-width="0.55" />
<circle cx="632.85" cy="397.6" r="1.9" fill="url(#gB)" stroke="none" stroke-width="0.5" />
<circle cx="632.85" cy="388.7" r="1.55" fill="url(#gR)" stroke="none" stroke-width="0.5" />
<circle cx="632.85" cy="406.5" r="1.55" fill="url(#gR)" stroke="none" stroke-width="0.5" />
<path d="M645.8,389.4 L652.25,397.6 L645.8,405.8 L639.35,397.6 Z" fill="#abadd4" stroke="#7e80a8" stroke-width="0.55"/>
<path d="M645.8,389.4 L639.35,397.6 L645.8,397.6 Z" fill="#bbbddf" opacity="0.8"/>
<line x1="645.8" y1="397.6" x2="645.8" y2="391.86" stroke="#6a9be0" stroke-width="1.05" />
<line x1="645.8" y1="391.86" x2="645.8" y2="389.4" stroke="#c87a98" stroke-width="0.55" />
<line x1="645.8" y1="397.6" x2="645.8" y2="403.34" stroke="#6a9be0" stroke-width="1.05" />
<line x1="645.8" y1="403.34" x2="645.8" y2="405.8" stroke="#c87a98" stroke-width="0.55" />
<line x1="645.8" y1="397.6" x2="641.28" y2="397.6" stroke="#6a9be0" stroke-width="1.05" />
<line x1="641.28" y1="397.6" x2="639.35" y2="397.6" stroke="#c87a98" stroke-width="0.55" />
<line x1="645.8" y1="397.6" x2="650.31" y2="397.6" stroke="#6a9be0" stroke-width="1.05" />
<line x1="650.31" y1="397.6" x2="652.25" y2="397.6" stroke="#c87a98" stroke-width="0.55" />
<circle cx="645.8" cy="397.6" r="1.9" fill="url(#gB)" stroke="none" stroke-width="0.5" />
<circle cx="645.8" cy="388.7" r="1.55" fill="url(#gR)" stroke="none" stroke-width="0.5" />
<circle cx="645.8" cy="406.5" r="1.55" fill="url(#gR)" stroke="none" stroke-width="0.5" />
<path d="M658.75,389.4 L665.2,397.6 L658.75,405.8 L652.3,397.6 Z" fill="#abadd4" stroke="#7e80a8" stroke-width="0.55"/>
<path d="M658.75,389.4 L652.3,397.6 L658.75,397.6 Z" fill="#bbbddf" opacity="0.8"/>
<line x1="658.75" y1="397.6" x2="658.75" y2="391.86" stroke="#6a9be0" stroke-width="1.05" />
<line x1="658.75" y1="391.86" x2="658.75" y2="389.4" stroke="#c87a98" stroke-width="0.55" />
<line x1="658.75" y1="397.6" x2="658.75" y2="403.34" stroke="#6a9be0" stroke-width="1.05" />
<line x1="658.75" y1="403.34" x2="658.75" y2="405.8" stroke="#c87a98" stroke-width="0.55" />
<line x1="658.75" y1="397.6" x2="654.24" y2="397.6" stroke="#6a9be0" stroke-width="1.05" />
<line x1="654.24" y1="397.6" x2="652.3" y2="397.6" stroke="#c87a98" stroke-width="0.55" />
<line x1="658.75" y1="397.6" x2="663.26" y2="397.6" stroke="#6a9be0" stroke-width="1.05" />
<line x1="663.26" y1="397.6" x2="665.2" y2="397.6" stroke="#c87a98" stroke-width="0.55" />
<circle cx="658.75" cy="397.6" r="1.9" fill="url(#gB)" stroke="none" stroke-width="0.5" />
<circle cx="658.75" cy="388.7" r="1.55" fill="url(#gR)" stroke="none" stroke-width="0.5" />
<circle cx="658.75" cy="406.5" r="1.55" fill="url(#gR)" stroke="none" stroke-width="0.5" />
<line x1="587.52" y1="396.1" x2="587.52" y2="399.4" stroke="#a03040" stroke-width="0.8" />
<circle cx="587.52" cy="396.1" r="1.5" fill="url(#gR)" stroke="none" stroke-width="0.5" />
<circle cx="587.52" cy="399.4" r="1.5" fill="url(#gR)" stroke="none" stroke-width="0.5" />
<line x1="600.48" y1="396.1" x2="600.48" y2="399.4" stroke="#a03040" stroke-width="0.8" />
<circle cx="600.48" cy="396.1" r="1.5" fill="url(#gR)" stroke="none" stroke-width="0.5" />
<circle cx="600.48" cy="399.4" r="1.5" fill="url(#gR)" stroke="none" stroke-width="0.5" />
<line x1="613.42" y1="396.1" x2="613.42" y2="399.4" stroke="#a03040" stroke-width="0.8" />
<circle cx="613.42" cy="396.1" r="1.5" fill="url(#gR)" stroke="none" stroke-width="0.5" />
<circle cx="613.42" cy="399.4" r="1.5" fill="url(#gR)" stroke="none" stroke-width="0.5" />
<line x1="626.38" y1="396.1" x2="626.38" y2="399.4" stroke="#a03040" stroke-width="0.8" />
<circle cx="626.38" cy="396.1" r="1.5" fill="url(#gR)" stroke="none" stroke-width="0.5" />
<circle cx="626.38" cy="399.4" r="1.5" fill="url(#gR)" stroke="none" stroke-width="0.5" />
<line x1="639.32" y1="396.1" x2="639.32" y2="399.4" stroke="#a03040" stroke-width="0.8" />
<circle cx="639.32" cy="396.1" r="1.5" fill="url(#gR)" stroke="none" stroke-width="0.5" />
<circle cx="639.32" cy="399.4" r="1.5" fill="url(#gR)" stroke="none" stroke-width="0.5" />
<line x1="652.27" y1="396.1" x2="652.27" y2="399.4" stroke="#a03040" stroke-width="0.8" />
<circle cx="652.27" cy="396.1" r="1.5" fill="url(#gR)" stroke="none" stroke-width="0.5" />
<circle cx="652.27" cy="399.4" r="1.5" fill="url(#gR)" stroke="none" stroke-width="0.5" />
<line x1="665.22" y1="396.1" x2="665.22" y2="399.4" stroke="#a03040" stroke-width="0.8" />
<circle cx="665.22" cy="396.1" r="1.5" fill="url(#gR)" stroke="none" stroke-width="0.5" />
<circle cx="665.22" cy="399.4" r="1.5" fill="url(#gR)" stroke="none" stroke-width="0.5" />
<text transform="translate(593.6,421.4) skewX(-12) scale(0.74,1)" font-size="7.0" text-anchor="middle" font-weight="bold" font-family='"Liberation Serif", serif' fill="#111" stroke="#111" stroke-width="0.35">IV</text>
<text transform="translate(606.55,421.4) skewX(-12) scale(0.74,1)" font-size="7.0" text-anchor="middle" font-weight="bold" font-family='"Liberation Serif", serif' fill="#111" stroke="#111" stroke-width="0.35">IV</text>
<text transform="translate(619.5,421.4) skewX(-12) scale(0.74,1)" font-size="7.0" text-anchor="middle" font-weight="bold" font-family='"Liberation Serif", serif' fill="#111" stroke="#111" stroke-width="0.35">IV</text>
<text transform="translate(632.45,421.4) skewX(-12) scale(0.74,1)" font-size="7.0" text-anchor="middle" font-weight="bold" font-family='"Liberation Serif", serif' fill="#111" stroke="#111" stroke-width="0.35">IV</text>
<text transform="translate(645.4,421.4) skewX(-12) scale(0.74,1)" font-size="7.0" text-anchor="middle" font-weight="bold" font-family='"Liberation Serif", serif' fill="#111" stroke="#111" stroke-width="0.35">IV</text>
<text transform="translate(658.35,421.4) skewX(-12) scale(0.74,1)" font-size="7.0" text-anchor="middle" font-weight="bold" font-family='"Liberation Serif", serif' fill="#111" stroke="#111" stroke-width="0.35">IV</text>
<text x="625.15" y="434.8" font-size="9" text-anchor="middle" fill="#4a73c9"  stroke="#4a73c9" stroke-width="0.2">Steady state</text>
<defs><linearGradient id="ah1" gradientUnits="userSpaceOnUse" x1="255.4" y1="371.3" x2="255.4" y2="361.1"><stop offset="0" stop-color="#f9d4b8"/><stop offset="0.5" stop-color="#f1ab7c"/><stop offset="1" stop-color="#d96a20"/></linearGradient><linearGradient id="as1" gradientUnits="userSpaceOnUse" x1="255.4" y1="384.5" x2="255.4" y2="371.3"><stop offset="0" stop-color="#fbe2d2"/><stop offset="0.45" stop-color="#f8ebe8"/><stop offset="1" stop-color="#f5c9a8"/></linearGradient></defs>
<path d="M250.3,384.5 L250.3,371.3 L260.5,371.3 L260.5,384.5 Z" fill="url(#as1)"/>
<path d="M242.1,371.3 L255.4,361.1 L268.7,371.3 Z" fill="url(#ah1)"/>
<defs><linearGradient id="ah2" gradientUnits="userSpaceOnUse" x1="313.3" y1="423" x2="302.8" y2="423"><stop offset="0" stop-color="#f9d4b8"/><stop offset="0.5" stop-color="#f1ab7c"/><stop offset="1" stop-color="#d96a20"/></linearGradient><linearGradient id="as2" gradientUnits="userSpaceOnUse" x1="325" y1="423" x2="313.3" y2="423"><stop offset="0" stop-color="#fbe2d2"/><stop offset="0.45" stop-color="#f8ebe8"/><stop offset="1" stop-color="#f5c9a8"/></linearGradient></defs>
<path d="M325,418.3 L313.3,418.3 L313.3,427.7 L325,427.7 Z" fill="url(#as2)"/>
<path d="M313.3,409.9 L302.8,423 L313.3,436.1 Z" fill="url(#ah2)"/>
<defs><linearGradient id="ah3" gradientUnits="userSpaceOnUse" x1="444.2" y1="346" x2="456.9" y2="346"><stop offset="0" stop-color="#f9d4b8"/><stop offset="0.5" stop-color="#f1ab7c"/><stop offset="1" stop-color="#d96a20"/></linearGradient><linearGradient id="as3" gradientUnits="userSpaceOnUse" x1="428.6" y1="346" x2="444.2" y2="346"><stop offset="0" stop-color="#fbe2d2"/><stop offset="0.45" stop-color="#f8ebe8"/><stop offset="1" stop-color="#f5c9a8"/></linearGradient></defs>
<path d="M428.6,341 L444.2,341 L444.2,351 L428.6,351 Z" fill="url(#as3)"/>
<path d="M444.2,332.4 L456.9,346 L444.2,359.6 Z" fill="url(#ah3)"/>
<defs><linearGradient id="ah4" gradientUnits="userSpaceOnUse" x1="507.6" y1="373.4" x2="507.6" y2="383.5"><stop offset="0" stop-color="#f9d4b8"/><stop offset="0.5" stop-color="#f1ab7c"/><stop offset="1" stop-color="#d96a20"/></linearGradient><linearGradient id="as4" gradientUnits="userSpaceOnUse" x1="507.6" y1="361.5" x2="507.6" y2="373.4"><stop offset="0" stop-color="#fbe2d2"/><stop offset="0.45" stop-color="#f8ebe8"/><stop offset="1" stop-color="#f5c9a8"/></linearGradient></defs>
<path d="M502.2,361.5 L502.2,373.4 L513,373.4 L513,361.5 Z" fill="url(#as4)"/>
<path d="M494,373.4 L507.6,383.5 L521.2,373.4 Z" fill="url(#ah4)"/>
<defs><linearGradient id="ah5" gradientUnits="userSpaceOnUse" x1="439.7" y1="425.2" x2="427" y2="425.2"><stop offset="0" stop-color="#f9d4b8"/><stop offset="0.5" stop-color="#f1ab7c"/><stop offset="1" stop-color="#d96a20"/></linearGradient><linearGradient id="as5" gradientUnits="userSpaceOnUse" x1="454" y1="425.2" x2="439.7" y2="425.2"><stop offset="0" stop-color="#fbe2d2"/><stop offset="0.45" stop-color="#f8ebe8"/><stop offset="1" stop-color="#f5c9a8"/></linearGradient></defs>
<path d="M454,420.4 L439.7,420.4 L439.7,430 L454,430 Z" fill="url(#as5)"/>
<path d="M439.7,411.9 L427,425.2 L439.7,438.5 Z" fill="url(#ah5)"/>
<defs><linearGradient id="ah6" gradientUnits="userSpaceOnUse" x1="570.5" y1="345.7" x2="581.4" y2="345.7"><stop offset="0" stop-color="#f9d4b8"/><stop offset="0.5" stop-color="#f1ab7c"/><stop offset="1" stop-color="#d96a20"/></linearGradient><linearGradient id="as6" gradientUnits="userSpaceOnUse" x1="559.6" y1="345.7" x2="570.5" y2="345.7"><stop offset="0" stop-color="#fbe2d2"/><stop offset="0.45" stop-color="#f8ebe8"/><stop offset="1" stop-color="#f5c9a8"/></linearGradient></defs>
<path d="M559.6,340.8 L570.5,340.8 L570.5,350.6 L559.6,350.6 Z" fill="url(#as6)"/>
<path d="M570.5,332.7 L581.4,345.7 L570.5,358.7 Z" fill="url(#ah6)"/>
<defs><linearGradient id="ah7" gradientUnits="userSpaceOnUse" x1="625.8" y1="373.4" x2="625.8" y2="383.9"><stop offset="0" stop-color="#f9d4b8"/><stop offset="0.5" stop-color="#f1ab7c"/><stop offset="1" stop-color="#d96a20"/></linearGradient><linearGradient id="as7" gradientUnits="userSpaceOnUse" x1="625.8" y1="361.5" x2="625.8" y2="373.4"><stop offset="0" stop-color="#fbe2d2"/><stop offset="0.45" stop-color="#f8ebe8"/><stop offset="1" stop-color="#f5c9a8"/></linearGradient></defs>
<path d="M621,361.5 L621,373.4 L630.6,373.4 L630.6,361.5 Z" fill="url(#as7)"/>
<path d="M612.5,373.4 L625.8,383.9 L639.1,373.4 Z" fill="url(#ah7)"/>
<circle cx="426.4" cy="388.4" r="2.3" fill="url(#gI)" stroke="none" stroke-width="0.5" />
<circle cx="436.6" cy="390.4" r="2.3" fill="url(#gI)" stroke="none" stroke-width="0.5" />
<circle cx="442.7" cy="384.3" r="2.3" fill="url(#gI)" stroke="none" stroke-width="0.5" />
<circle cx="444.8" cy="391.9" r="2.3" fill="url(#gI)" stroke="none" stroke-width="0.5" />
<circle cx="452.5" cy="388" r="2.3" fill="url(#gI)" stroke="none" stroke-width="0.5" />
<circle cx="427" cy="400.2" r="2.3" fill="url(#gI)" stroke="none" stroke-width="0.5" />
<text x="434.4" y="403.9" font-size="6.9" font-weight="bold" fill="#1a1a1a" stroke="#1a1a1a" stroke-width="0.2">Mn<tspan font-size="4.6" dy="-2.6">2+</tspan></text>
<text x="271.4" y="369.4" font-size="9" fill="#1a1a1a"  stroke="#1a1a1a" stroke-width="0.2">Approx.</text>
<text x="271.6" y="378.9" font-size="9" fill="#1a1a1a"  stroke="#1a1a1a" stroke-width="0.2">1.6 V</text>
<text x="271.6" y="444.1" font-size="9" fill="#1a1a1a"  stroke="#1a1a1a" stroke-width="0.2">Approx.</text>
<text x="271.6" y="454.2" font-size="9" fill="#1a1a1a"  stroke="#1a1a1a" stroke-width="0.2">1.2-1.4 V</text>
<text x="368.4" y="372.5" font-size="9" fill="#1a1a1a"  stroke="#1a1a1a" stroke-width="0.2">OCV</text>
<text x="519.6" y="367.8" font-size="9" fill="#1a1a1a"  stroke="#1a1a1a" stroke-width="0.2">Approx.</text>
<text x="525.8" y="377.6" font-size="9" fill="#1a1a1a"  stroke="#1a1a1a" stroke-width="0.2">0.8 V</text>
<text x="644" y="367.8" font-size="9" fill="#1a1a1a"  stroke="#1a1a1a" stroke-width="0.2">Approx.</text>
<text x="644" y="377.6" font-size="9" fill="#1a1a1a"  stroke="#1a1a1a" stroke-width="0.2">0.8-1.2 V</text>
<text x="642" y="444.1" font-size="9" fill="#1a1a1a"  stroke="#1a1a1a" stroke-width="0.2">Approx.</text>
<text x="642" y="454.2" font-size="9" fill="#1a1a1a"  stroke="#1a1a1a" stroke-width="0.2">1.2-1.6 V</text>
<text x="339.4" y="454.4" font-size="9" fill="#1a1a1a"  stroke="#1a1a1a" stroke-width="0.2">Deposition</text>
<text x="403.2" y="454.4" font-size="9" fill="#1a1a1a"  stroke="#1a1a1a" stroke-width="0.2">Approx.</text>
<text x="439.8" y="454.4" font-size="9" fill="#1a1a1a"  stroke="#1a1a1a" stroke-width="0.2">0.8-1.2 V</text>
<text x="500.4" y="454.4" font-size="9" fill="#1a1a1a"  stroke="#1a1a1a" stroke-width="0.2">Dissolution</text>
<rect x="199.2" y="439.5" width="54.2" height="14.7" fill="#f3f3f3" stroke="#5db6ad" stroke-width="0.8" />
<text x="226.3" y="449.2" font-size="6.2" text-anchor="middle" fill="#ee2020" stroke="#ee2020" stroke-width="0.07">Ru<tspan font-size="4.2" dy="1.6">(SA)</tspan><tspan dy="-1.6">-OMS</tspan></text>
<rect x="572.2" y="439.5" width="62.1" height="14.7" fill="#f3f3f3" stroke="#5db6ad" stroke-width="0.8" />
<text x="603.2" y="449.2" font-size="6.2" text-anchor="middle" fill="#ee2020" stroke="#ee2020" stroke-width="0.07">Ru<tspan font-size="4.2" dy="1.6">(SA)</tspan><tspan dy="-1.6">-NiOMS</tspan></text>
</svg>
</body></html>
